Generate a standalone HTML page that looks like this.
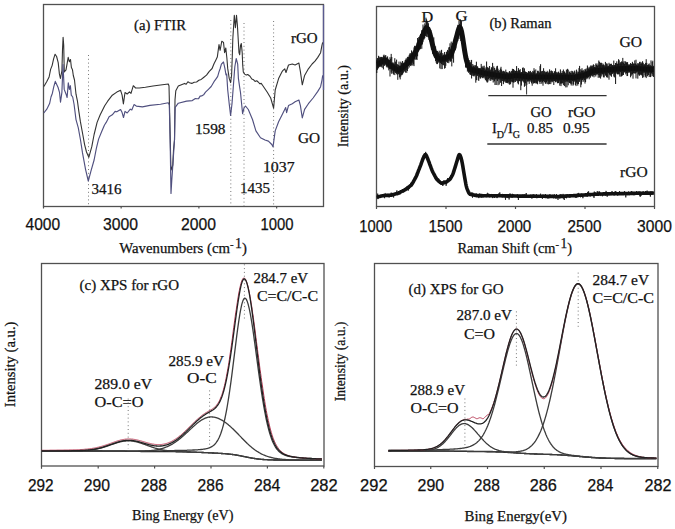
<!DOCTYPE html>
<html><head><meta charset="utf-8"><style>html,body{margin:0;padding:0;background:#fff;}svg{display:block;}</style></head>
<body><svg width="675" height="529" viewBox="0 0 675 529"><rect x="43.5" y="4.5" width="280.0" height="202.0" fill="none" stroke="#505050" stroke-width="1.3"/>
<rect x="376.5" y="6.5" width="278.0" height="200.0" fill="none" stroke="#505050" stroke-width="1.3"/>
<rect x="41.5" y="263.5" width="282.5" height="202.5" fill="none" stroke="#505050" stroke-width="1.3"/>
<rect x="374.5" y="263.5" width="283.5" height="203.0" fill="none" stroke="#505050" stroke-width="1.3"/>
<line x1="43.5" y1="206.5" x2="43.5" y2="208.5" stroke="#505050" stroke-width="1.2" />
<line x1="376.5" y1="206.5" x2="376.5" y2="209" stroke="#505050" stroke-width="1.2" />
<line x1="41.5" y1="466" x2="41.5" y2="468.8" stroke="#505050" stroke-width="1.2" />
<line x1="374.5" y1="466.5" x2="374.5" y2="469" stroke="#505050" stroke-width="1.2" />
<line x1="121.15" y1="206.5" x2="121.15" y2="208.5" stroke="#505050" stroke-width="1.2" />
<line x1="198.9" y1="206.5" x2="198.9" y2="208.5" stroke="#505050" stroke-width="1.2" />
<line x1="276.65" y1="206.5" x2="276.65" y2="208.5" stroke="#505050" stroke-width="1.2" />
<line x1="446.0" y1="206.5" x2="446.0" y2="209" stroke="#505050" stroke-width="1.2" />
<line x1="515.5" y1="206.5" x2="515.5" y2="209" stroke="#505050" stroke-width="1.2" />
<line x1="585.0" y1="206.5" x2="585.0" y2="209" stroke="#505050" stroke-width="1.2" />
<line x1="654.5" y1="206.5" x2="654.5" y2="209" stroke="#505050" stroke-width="1.2" />
<line x1="98.19999999999999" y1="466" x2="98.19999999999999" y2="468.5" stroke="#505050" stroke-width="1.2" />
<line x1="154.6" y1="466" x2="154.6" y2="468.5" stroke="#505050" stroke-width="1.2" />
<line x1="211.0" y1="466" x2="211.0" y2="468.5" stroke="#505050" stroke-width="1.2" />
<line x1="267.4" y1="466" x2="267.4" y2="468.5" stroke="#505050" stroke-width="1.2" />
<line x1="323.8" y1="466" x2="323.8" y2="468.5" stroke="#505050" stroke-width="1.2" />
<line x1="430.75" y1="466.5" x2="430.75" y2="469" stroke="#505050" stroke-width="1.2" />
<line x1="487.5" y1="466.5" x2="487.5" y2="469" stroke="#505050" stroke-width="1.2" />
<line x1="544.25" y1="466.5" x2="544.25" y2="469" stroke="#505050" stroke-width="1.2" />
<line x1="601.0" y1="466.5" x2="601.0" y2="469" stroke="#505050" stroke-width="1.2" />
<line x1="657.75" y1="466.5" x2="657.75" y2="469" stroke="#505050" stroke-width="1.2" />
<text x="25.5" y="230.0" font-size="16.3" textLength="34.6" lengthAdjust="spacingAndGlyphs" style="font-family:'Liberation Sans', sans-serif" fill="#111" stroke="#111" stroke-width="0.25" >4000</text>
<text x="103.0" y="230.0" font-size="16.3" textLength="35.0" lengthAdjust="spacingAndGlyphs" style="font-family:'Liberation Sans', sans-serif" fill="#111" stroke="#111" stroke-width="0.25" >3000</text>
<text x="181.0" y="230.0" font-size="16.3" textLength="35.0" lengthAdjust="spacingAndGlyphs" style="font-family:'Liberation Sans', sans-serif" fill="#111" stroke="#111" stroke-width="0.25" >2000</text>
<text x="260.4" y="230.0" font-size="16.3" textLength="33.1" lengthAdjust="spacingAndGlyphs" style="font-family:'Liberation Sans', sans-serif" fill="#111" stroke="#111" stroke-width="0.25" >1000</text>
<text x="359.3" y="232.0" font-size="16.3" textLength="32.8" lengthAdjust="spacingAndGlyphs" style="font-family:'Liberation Sans', sans-serif" fill="#111" stroke="#111" stroke-width="0.25" >1000</text>
<text x="428.4" y="232.0" font-size="16.3" textLength="34.1" lengthAdjust="spacingAndGlyphs" style="font-family:'Liberation Sans', sans-serif" fill="#111" stroke="#111" stroke-width="0.25" >1500</text>
<text x="497.5" y="232.0" font-size="16.3" textLength="33.8" lengthAdjust="spacingAndGlyphs" style="font-family:'Liberation Sans', sans-serif" fill="#111" stroke="#111" stroke-width="0.25" >2000</text>
<text x="567.6" y="232.0" font-size="16.3" textLength="33.8" lengthAdjust="spacingAndGlyphs" style="font-family:'Liberation Sans', sans-serif" fill="#111" stroke="#111" stroke-width="0.25" >2500</text>
<text x="637.1" y="232.0" font-size="16.3" textLength="34.8" lengthAdjust="spacingAndGlyphs" style="font-family:'Liberation Sans', sans-serif" fill="#111" stroke="#111" stroke-width="0.25" >3000</text>
<text x="28.0" y="490.8" font-size="16.3" textLength="25.6" lengthAdjust="spacingAndGlyphs" style="font-family:'Liberation Sans', sans-serif" fill="#111" stroke="#111" stroke-width="0.25" >292</text>
<text x="83.8" y="490.8" font-size="16.3" textLength="26.3" lengthAdjust="spacingAndGlyphs" style="font-family:'Liberation Sans', sans-serif" fill="#111" stroke="#111" stroke-width="0.25" >290</text>
<text x="140.8" y="490.8" font-size="16.3" textLength="26.3" lengthAdjust="spacingAndGlyphs" style="font-family:'Liberation Sans', sans-serif" fill="#111" stroke="#111" stroke-width="0.25" >288</text>
<text x="197.6" y="490.8" font-size="16.3" textLength="26.0" lengthAdjust="spacingAndGlyphs" style="font-family:'Liberation Sans', sans-serif" fill="#111" stroke="#111" stroke-width="0.25" >286</text>
<text x="254.0" y="490.8" font-size="16.3" textLength="26.4" lengthAdjust="spacingAndGlyphs" style="font-family:'Liberation Sans', sans-serif" fill="#111" stroke="#111" stroke-width="0.25" >284</text>
<text x="310.2" y="490.8" font-size="16.3" textLength="27.5" lengthAdjust="spacingAndGlyphs" style="font-family:'Liberation Sans', sans-serif" fill="#111" stroke="#111" stroke-width="0.25" >282</text>
<text x="360.1" y="491.3" font-size="16.3" textLength="27.5" lengthAdjust="spacingAndGlyphs" style="font-family:'Liberation Sans', sans-serif" fill="#111" stroke="#111" stroke-width="0.25" >292</text>
<text x="417.6" y="491.3" font-size="16.3" textLength="26.6" lengthAdjust="spacingAndGlyphs" style="font-family:'Liberation Sans', sans-serif" fill="#111" stroke="#111" stroke-width="0.25" >290</text>
<text x="473.8" y="491.3" font-size="16.3" textLength="26.0" lengthAdjust="spacingAndGlyphs" style="font-family:'Liberation Sans', sans-serif" fill="#111" stroke="#111" stroke-width="0.25" >288</text>
<text x="529.7" y="491.3" font-size="16.3" textLength="27.1" lengthAdjust="spacingAndGlyphs" style="font-family:'Liberation Sans', sans-serif" fill="#111" stroke="#111" stroke-width="0.25" >286</text>
<text x="587.6" y="491.3" font-size="16.3" textLength="25.9" lengthAdjust="spacingAndGlyphs" style="font-family:'Liberation Sans', sans-serif" fill="#111" stroke="#111" stroke-width="0.25" >284</text>
<text x="644.4" y="491.3" font-size="16.3" textLength="27.0" lengthAdjust="spacingAndGlyphs" style="font-family:'Liberation Sans', sans-serif" fill="#111" stroke="#111" stroke-width="0.25" >282</text>
<text x="119.3" y="252.5" font-size="15" style="font-family:'Liberation Serif', serif" fill="#111" stroke="#111" stroke-width="0.25" textLength="127.6" lengthAdjust="spacingAndGlyphs">Wavenumbers (cm<tspan font-size="11" dy="-5">-</tspan><tspan font-size="14" dx="1.5" dy="0.5">1</tspan><tspan dy="4.5">)</tspan></text>
<text x="457.4" y="252.6" font-size="15" style="font-family:'Liberation Serif', serif" fill="#111" stroke="#111" stroke-width="0.25" textLength="114.6" lengthAdjust="spacingAndGlyphs">Raman Shift (cm<tspan font-size="11" dy="-5">-</tspan><tspan font-size="14" dx="1.5" dy="0.5">1</tspan><tspan dy="4.5">)</tspan></text>
<text x="132.0" y="520.3" font-size="15" textLength="101.5" lengthAdjust="spacingAndGlyphs" style="font-family:'Liberation Serif', serif" fill="#111" stroke="#111" stroke-width="0.25" >Bing Energy (eV)</text>
<text x="464.5" y="521.0" font-size="15" textLength="102.5" lengthAdjust="spacingAndGlyphs" style="font-family:'Liberation Serif', serif" fill="#111" stroke="#111" stroke-width="0.25" >Bing Energy(eV)</text>
<text transform="translate(348.0,147.2) rotate(-90)" x="0" y="0" font-size="14.8" textLength="82.0" lengthAdjust="spacingAndGlyphs" style="font-family:'Liberation Serif', serif" fill="#111" stroke="#111" stroke-width="0.25">Intensity (a.u.)</text>
<text transform="translate(14.5,407.2) rotate(-90)" x="0" y="0" font-size="15" textLength="85.6" lengthAdjust="spacingAndGlyphs" style="font-family:'Liberation Serif', serif" fill="#111" stroke="#111" stroke-width="0.25">Intensity (a.u.)</text>
<text transform="translate(345.2,401.3) rotate(-90)" x="0" y="0" font-size="14.8" textLength="79.7" lengthAdjust="spacingAndGlyphs" style="font-family:'Liberation Serif', serif" fill="#111" stroke="#111" stroke-width="0.25">Intensity (a.u.)</text>
<text x="134.0" y="30.4" font-size="14.5" textLength="52.0" lengthAdjust="spacingAndGlyphs" style="font-family:'Liberation Serif', serif" fill="#111" stroke="#111" stroke-width="0.25" >(a) FTIR</text>
<text x="291.0" y="43.3" font-size="14.5" textLength="26.6" lengthAdjust="spacingAndGlyphs" style="font-family:'Liberation Serif', serif" fill="#111" stroke="#111" stroke-width="0.25" >rGO</text>
<text x="298.0" y="142.8" font-size="14.5" textLength="22.1" lengthAdjust="spacingAndGlyphs" style="font-family:'Liberation Serif', serif" fill="#111" stroke="#111" stroke-width="0.25" >GO</text>
<text x="91.5" y="194.0" font-size="14.5" textLength="30.1" lengthAdjust="spacingAndGlyphs" style="font-family:'Liberation Serif', serif" fill="#111" stroke="#111" stroke-width="0.25" >3416</text>
<text x="194.9" y="134.0" font-size="14.5" textLength="30.6" lengthAdjust="spacingAndGlyphs" style="font-family:'Liberation Serif', serif" fill="#111" stroke="#111" stroke-width="0.25" >1598</text>
<text x="239.9" y="192.7" font-size="14.5" textLength="30.2" lengthAdjust="spacingAndGlyphs" style="font-family:'Liberation Serif', serif" fill="#111" stroke="#111" stroke-width="0.25" >1435</text>
<text x="262.9" y="171.7" font-size="14.5" textLength="31.7" lengthAdjust="spacingAndGlyphs" style="font-family:'Liberation Serif', serif" fill="#111" stroke="#111" stroke-width="0.25" >1037</text>
<line x1="88.5" y1="55" x2="88.5" y2="206" stroke="#777" stroke-width="1" stroke-dasharray="1,2.8"/>
<line x1="230.8" y1="20" x2="230.8" y2="206" stroke="#777" stroke-width="1" stroke-dasharray="1,2.8"/>
<line x1="244" y1="23" x2="244" y2="206" stroke="#777" stroke-width="1" stroke-dasharray="1,2.8"/>
<line x1="273.6" y1="21" x2="273.6" y2="206" stroke="#777" stroke-width="1" stroke-dasharray="1,2.8"/>
<text x="421.4" y="21.8" font-size="15" textLength="11.7" lengthAdjust="spacingAndGlyphs" style="font-family:'Liberation Serif', serif" fill="#111" stroke="#111" stroke-width="0.25" >D</text>
<text x="455.4" y="20.5" font-size="15" textLength="12.1" lengthAdjust="spacingAndGlyphs" style="font-family:'Liberation Serif', serif" fill="#111" stroke="#111" stroke-width="0.25" >G</text>
<text x="489.5" y="28.4" font-size="14.5" textLength="62.0" lengthAdjust="spacingAndGlyphs" style="font-family:'Liberation Serif', serif" fill="#111" stroke="#111" stroke-width="0.25" >(b) Raman</text>
<text x="619.4" y="46.6" font-size="14.5" textLength="22.6" lengthAdjust="spacingAndGlyphs" style="font-family:'Liberation Serif', serif" fill="#111" stroke="#111" stroke-width="0.25" >GO</text>
<text x="620.0" y="176.7" font-size="14.5" textLength="27.6" lengthAdjust="spacingAndGlyphs" style="font-family:'Liberation Serif', serif" fill="#111" stroke="#111" stroke-width="0.25" >rGO</text>
<line x1="488.3" y1="95.6" x2="606.6" y2="95.6" stroke="#333" stroke-width="1.3" />
<line x1="487.3" y1="144" x2="606.6" y2="144" stroke="#333" stroke-width="1.3" />
<text x="530.4" y="117.0" font-size="14.5" textLength="21.1" lengthAdjust="spacingAndGlyphs" style="font-family:'Liberation Serif', serif" fill="#111" stroke="#111" stroke-width="0.25" >GO</text>
<text x="568.0" y="117.0" font-size="14.5" textLength="27.5" lengthAdjust="spacingAndGlyphs" style="font-family:'Liberation Serif', serif" fill="#111" stroke="#111" stroke-width="0.25" >rGO</text>
<text x="491.9" y="133.3" font-size="14.5" style="font-family:'Liberation Serif', serif" fill="#111" stroke="#111" stroke-width="0.25">I<tspan font-size="10" dy="5">D</tspan><tspan dy="-5">/I</tspan><tspan font-size="10" dy="5">G</tspan></text>
<text x="527.0" y="133.3" font-size="14.5" textLength="26.0" lengthAdjust="spacingAndGlyphs" style="font-family:'Liberation Serif', serif" fill="#111" stroke="#111" stroke-width="0.25" >0.85</text>
<text x="562.9" y="133.3" font-size="14.5" textLength="26.6" lengthAdjust="spacingAndGlyphs" style="font-family:'Liberation Serif', serif" fill="#111" stroke="#111" stroke-width="0.25" >0.95</text>
<text x="79.5" y="290.1" font-size="14.5" textLength="99.5" lengthAdjust="spacingAndGlyphs" style="font-family:'Liberation Serif', serif" fill="#111" stroke="#111" stroke-width="0.25" >(c) XPS  for rGO</text>
<text x="253.5" y="282.7" font-size="14.5" textLength="54.5" lengthAdjust="spacingAndGlyphs" style="font-family:'Liberation Serif', serif" fill="#111" stroke="#111" stroke-width="0.25" >284.7 eV</text>
<text x="257.0" y="300.8" font-size="14.5" textLength="61.0" lengthAdjust="spacingAndGlyphs" style="font-family:'Liberation Serif', serif" fill="#111" stroke="#111" stroke-width="0.25" >C=C/C-C</text>
<text x="168.5" y="365.6" font-size="14.5" textLength="55.5" lengthAdjust="spacingAndGlyphs" style="font-family:'Liberation Serif', serif" fill="#111" stroke="#111" stroke-width="0.25" >285.9 eV</text>
<text x="187.0" y="383.1" font-size="14.5" textLength="29.6" lengthAdjust="spacingAndGlyphs" style="font-family:'Liberation Serif', serif" fill="#111" stroke="#111" stroke-width="0.25" >O-C</text>
<text x="94.5" y="389.0" font-size="14.5" textLength="57.6" lengthAdjust="spacingAndGlyphs" style="font-family:'Liberation Serif', serif" fill="#111" stroke="#111" stroke-width="0.25" >289.0 eV</text>
<text x="94.5" y="407.3" font-size="14.5" textLength="49.0" lengthAdjust="spacingAndGlyphs" style="font-family:'Liberation Serif', serif" fill="#111" stroke="#111" stroke-width="0.25" >O-C=O</text>
<line x1="244.4" y1="264.3" x2="244.4" y2="319.6" stroke="#777" stroke-width="1" stroke-dasharray="1,2.8"/>
<line x1="209.6" y1="390.4" x2="209.6" y2="446.6" stroke="#777" stroke-width="1" stroke-dasharray="1,2.8"/>
<line x1="128.2" y1="398.6" x2="128.2" y2="448.3" stroke="#777" stroke-width="1" stroke-dasharray="1,2.8"/>
<text x="408.5" y="293.7" font-size="15.3" textLength="95.0" lengthAdjust="spacingAndGlyphs" style="font-family:'Liberation Serif', serif" fill="#111" stroke="#111" stroke-width="0.25" >(d) XPS  for GO</text>
<text x="592.5" y="285.3" font-size="14.5" textLength="56.6" lengthAdjust="spacingAndGlyphs" style="font-family:'Liberation Serif', serif" fill="#111" stroke="#111" stroke-width="0.25" >284.7 eV</text>
<text x="592.5" y="303.2" font-size="14.5" textLength="61.5" lengthAdjust="spacingAndGlyphs" style="font-family:'Liberation Serif', serif" fill="#111" stroke="#111" stroke-width="0.25" >C=C/C-C</text>
<text x="456.5" y="320.4" font-size="14.5" textLength="55.5" lengthAdjust="spacingAndGlyphs" style="font-family:'Liberation Serif', serif" fill="#111" stroke="#111" stroke-width="0.25" >287.0 eV</text>
<text x="464.0" y="339.1" font-size="14.5" textLength="31.0" lengthAdjust="spacingAndGlyphs" style="font-family:'Liberation Serif', serif" fill="#111" stroke="#111" stroke-width="0.25" >C=O</text>
<text x="410.0" y="394.5" font-size="14.5" textLength="55.0" lengthAdjust="spacingAndGlyphs" style="font-family:'Liberation Serif', serif" fill="#111" stroke="#111" stroke-width="0.25" >288.9 eV</text>
<text x="410.5" y="413.2" font-size="14.5" textLength="48.0" lengthAdjust="spacingAndGlyphs" style="font-family:'Liberation Serif', serif" fill="#111" stroke="#111" stroke-width="0.25" >O-C=O</text>
<line x1="578.2" y1="272.6" x2="578.2" y2="327.1" stroke="#777" stroke-width="1" stroke-dasharray="1,2.8"/>
<line x1="516.4" y1="311.4" x2="516.4" y2="365.9" stroke="#777" stroke-width="1" stroke-dasharray="1,2.8"/>
<line x1="464.9" y1="398.5" x2="464.9" y2="446.7" stroke="#777" stroke-width="1" stroke-dasharray="1,2.8"/>
<path d="M43.8,86.5 L44.2,86.0 L46.8,81.5 L49.1,77.0 L50.6,69.4 L52.1,65.6 L53.6,58.8 L55.1,54.2 L56.6,56.5 L58.2,62.6 L59.4,73.9 L60.4,78.5 L61.9,70.9 L62.5,50.0 L63.1,37.4 L63.7,45.0 L64.3,72.0 L66.0,69.8 L68.2,57.3 L69.4,61.8 L70.5,59.5 L71.4,67.5 L72.5,69.8 L73.3,75.5 L74.5,80.0 L76.0,94.2 L77.4,100.8 L78.8,111.1 L80.4,121.7 L82.5,133.0 L84.6,144.6 L86.5,152.0 L88.8,157.3 L91.8,146.7 L94.1,134.5 L97.1,122.4 L100.2,114.8 L104.7,105.8 L107.7,101.2 L112.3,95.2 L116.8,92.1 L120.6,90.3 L122.1,95.2 L123.4,103.9 L125.0,92.5 L127.2,94.0 L129.5,91.8 L131.0,93.3 L133.3,85.7 L135.6,88.0 L139.3,88.0 L145.4,87.2 L153.0,86.0 L160.5,85.0 L168.3,84.0 L169.0,86.0 L170.3,140.0 L170.8,165.0 L171.8,170.0 L172.8,165.0 L173.5,150.0 L174.5,140.0 L175.0,100.0 L175.8,90.7 L178.3,86.1 L184.6,83.4 L186.2,84.3 L187.9,81.8 L189.5,82.7 L191.8,83.4 L194.2,82.2 L196.6,82.0 L198.9,80.3 L201.2,79.4 L203.6,77.5 L206.5,75.1 L209.3,71.3 L212.1,68.5 L214.0,63.8 L215.9,60.0 L217.3,57.1 L219.0,44.6 L220.1,50.3 L221.8,41.2 L223.5,42.4 L224.6,52.6 L225.8,48.0 L226.9,58.2 L227.7,68.4 L229.2,78.3 L230.6,82.6 L231.6,75.0 L232.3,56.0 L232.8,39.0 L233.3,31.0 L234.3,15.2 L235.4,27.6 L236.5,15.2 L237.4,25.4 L238.2,39.0 L239.0,52.6 L239.7,54.8 L240.5,45.8 L241.3,43.5 L242.2,52.6 L242.7,65.0 L243.3,72.0 L244.7,74.1 L246.2,75.1 L247.7,74.5 L250.0,76.2 L251.8,79.0 L253.6,79.8 L255.1,81.4 L256.7,80.8 L258.2,82.0 L259.7,83.7 L261.2,83.4 L262.7,85.5 L267.3,92.3 L270.7,98.0 L273.6,108.2 L275.2,90.0 L278.6,78.6 L282.0,71.8 L282.8,70.6 L284.7,68.8 L286.0,72.5 L288.5,65.0 L292.3,64.0 L295.1,65.0 L298.9,63.1 L300.4,71.6 L302.3,84.8 L304.6,75.4 L308.4,68.8 L312.1,64.0 L315.0,61.2 L317.8,57.4 L320.6,52.7 L322.0,45.1 L322.7,42.3" fill="none" stroke="#333" stroke-width="1.1" stroke-linejoin="round" />
<path d="M43.8,113.0 L46.8,109.2 L49.6,103.6 L51.0,97.0 L52.4,93.2 L53.8,86.6 L55.3,81.4 L58.1,87.5 L59.5,92.3 L60.5,102.2 L61.9,92.3 L63.0,64.5 L64.2,89.4 L66.1,94.2 L67.1,97.5 L68.3,82.8 L69.4,89.4 L70.4,85.7 L71.3,95.1 L72.7,97.0 L74.1,104.5 L76.0,119.6 L78.3,127.9 L80.5,140.0 L82.5,152.9 L85.6,169.6 L88.3,181.0 L90.8,171.7 L94.1,160.0 L96.4,148.2 L98.6,139.1 L101.7,131.5 L104.5,125.0 L106.2,122.4 L109.1,116.7 L112.3,114.8 L115.1,111.4 L116.8,111.8 L120.6,109.5 L122.1,112.6 L123.5,117.5 L125.0,111.4 L127.2,113.0 L130.3,109.2 L131.8,110.0 L134.0,104.6 L136.3,106.1 L142.4,106.9 L149.9,105.4 L160.5,104.3 L168.3,102.8 L169.3,105.0 L170.3,150.0 L171.0,193.5 L171.8,180.0 L172.5,170.0 L174.5,140.0 L175.0,115.0 L175.2,107.3 L178.3,103.2 L186.6,101.1 L192.3,100.6 L195.4,98.5 L197.0,98.8 L198.6,98.6 L200.1,96.1 L201.7,95.9 L203.6,94.8 L205.5,92.1 L208.4,89.3 L211.2,86.5 L214.0,81.7 L216.4,78.3 L217.7,76.4 L219.2,71.2 L220.2,68.5 L221.4,64.2 L223.5,62.0 L224.9,68.4 L226.0,75.0 L226.7,74.0 L227.7,89.7 L229.2,103.8 L230.6,115.5 L232.0,103.8 L233.4,85.4 L234.8,67.0 L236.2,58.5 L237.7,64.2 L238.4,78.3 L239.8,88.2 L240.5,92.5 L241.6,103.8 L242.6,113.7 L244.0,108.0 L245.5,106.0 L248.3,109.5 L252.5,119.5 L255.9,130.9 L260.5,137.7 L265.0,140.0 L268.4,141.1 L271.8,144.5 L273.0,146.8 L275.2,130.9 L278.6,121.8 L282.0,115.0 L285.7,107.5 L286.6,112.7 L288.5,105.6 L292.3,103.7 L295.1,101.8 L298.9,100.0 L300.4,105.6 L302.3,117.9 L304.6,109.4 L308.4,103.7 L313.1,98.0 L317.8,91.4 L320.6,86.7 L322.0,80.1 L322.7,75.4" fill="none" stroke="#50507f" stroke-width="1.15" stroke-linejoin="round" />
<line x1="323.5" y1="5" x2="323.5" y2="90" stroke="#5a5a90" stroke-width="1.3" />
<path d="M376.8,64.3 L377.3,64.2 L377.8,63.9 L378.3,63.7 L378.8,63.4 L379.3,63.1 L379.8,62.8 L380.3,62.6 L380.8,62.3 L381.3,62.0 L381.8,61.7 L382.3,61.5 L382.8,61.2 L383.3,60.9 L383.8,60.6 L384.3,60.4 L384.8,60.3 L385.3,60.4 L385.8,60.7 L386.3,61.1 L386.8,61.6 L387.3,62.1 L387.8,62.6 L388.3,63.2 L388.8,63.7 L389.3,64.2 L389.8,64.7 L390.3,65.2 L390.8,65.6 L391.3,66.0 L391.8,66.4 L392.3,66.7 L392.8,67.0 L393.3,67.3 L393.8,67.6 L394.3,67.9 L394.8,68.2 L395.3,68.5 L395.8,68.8 L396.3,69.1 L396.8,69.4 L397.3,69.7 L397.8,69.9 L398.3,70.1 L398.8,70.1 L399.3,69.9 L399.8,69.6 L400.3,69.2 L400.8,68.8 L401.3,68.4 L401.8,68.1 L402.3,67.7 L402.8,67.3 L403.3,66.9 L403.8,66.5 L404.3,66.1 L404.8,65.7 L405.3,65.3 L405.8,64.9 L406.3,64.4 L406.8,63.9 L407.3,63.4 L407.8,62.9 L408.3,62.3 L408.8,61.8 L409.3,61.2 L409.8,60.6 L410.3,59.9 L410.8,59.3 L411.3,58.6 L411.8,57.9 L412.3,57.2 L412.8,56.5 L413.3,55.6 L413.8,54.8 L414.3,53.9 L414.8,53.0 L415.3,52.0 L415.8,51.1 L416.3,50.2 L416.8,49.3 L417.3,48.4 L417.8,47.4 L418.3,46.4 L418.8,45.3 L419.3,44.0 L419.8,42.7 L420.3,41.4 L420.8,40.1 L421.3,38.7 L421.8,37.4 L422.3,36.1 L422.8,34.9 L423.3,33.7 L423.8,32.5 L424.3,31.4 L424.8,30.3 L425.3,29.3 L425.8,28.7 L426.3,28.3 L426.8,28.2 L427.3,28.3 L427.8,28.8 L428.3,29.5 L428.8,30.5 L429.3,31.9 L429.8,33.5 L430.3,35.3 L430.8,37.3 L431.3,39.5 L431.8,41.7 L432.3,43.8 L432.8,45.8 L433.3,47.7 L433.8,49.4 L434.3,51.1 L434.8,52.7 L435.3,54.2 L435.8,55.4 L436.3,56.4 L436.8,56.9 L437.3,57.3 L437.8,57.6 L438.3,57.9 L438.8,58.2 L439.3,58.5 L439.8,58.8 L440.3,59.0 L440.8,59.2 L441.3,59.3 L441.8,59.2 L442.3,59.1 L442.8,59.0 L443.3,58.8 L443.8,58.7 L444.3,58.5 L444.8,58.4 L445.3,58.2 L445.8,58.0 L446.3,57.8 L446.8,57.5 L447.3,57.2 L447.8,56.9 L448.3,56.6 L448.8,56.3 L449.3,56.0 L449.8,55.7 L450.3,55.3 L450.8,54.9 L451.3,54.1 L451.8,53.0 L452.3,51.6 L452.8,50.0 L453.3,48.3 L453.8,46.6 L454.3,44.9 L454.8,43.2 L455.3,41.4 L455.8,39.5 L456.3,37.6 L456.8,35.8 L457.3,33.9 L457.8,32.0 L458.3,30.3 L458.8,28.7 L459.3,27.7 L459.8,27.3 L460.3,27.8 L460.8,28.9 L461.3,30.6 L461.8,32.9 L462.3,35.6 L462.8,38.7 L463.3,42.0 L463.8,45.3 L464.3,48.6 L464.8,51.8 L465.3,54.7 L465.8,57.4 L466.3,59.6 L466.8,61.6 L467.3,63.2 L467.8,64.7 L468.3,65.9 L468.8,66.9 L469.3,67.8 L469.8,68.6 L470.3,69.2 L470.8,69.5 L471.3,69.8 L471.8,69.9 L472.3,70.1 L472.8,70.2 L473.3,70.3 L473.8,70.4 L474.3,70.6 L474.8,70.7 L475.3,70.8 L475.8,71.0 L476.3,71.1 L476.8,71.2 L477.3,71.4 L477.8,71.5 L478.3,71.6 L478.8,71.8 L479.3,71.9 L479.8,72.0 L480.3,72.2 L480.8,72.3 L481.3,72.4 L481.8,72.6 L482.3,72.7 L482.8,72.8 L483.3,73.0 L483.8,73.1 L484.3,73.2 L484.8,73.3 L485.3,73.4 L485.8,73.5 L486.3,73.6 L486.8,73.7 L487.3,73.8 L487.8,73.8 L488.3,73.9 L488.8,74.0 L489.3,74.1 L489.8,74.1 L490.3,74.2 L490.8,74.3 L491.3,74.4 L491.8,74.5 L492.3,74.5 L492.8,74.6 L493.3,74.7 L493.8,74.8 L494.3,74.8 L494.8,74.9 L495.3,75.0 L495.8,75.1 L496.3,75.2 L496.8,75.2 L497.3,75.3 L497.8,75.4 L498.3,75.5 L498.8,75.5 L499.3,75.6 L499.8,75.7 L500.3,75.8 L500.8,75.9 L501.3,75.9 L501.8,76.0 L502.3,76.1 L502.8,76.2 L503.3,76.3 L503.8,76.3 L504.3,76.4 L504.8,76.5 L505.3,76.6 L505.8,76.7 L506.3,76.7 L506.8,76.8 L507.3,76.9 L507.8,76.9 L508.3,76.9 L508.8,76.8 L509.3,76.7 L509.8,76.6 L510.3,76.5 L510.8,76.4 L511.3,76.3 L511.8,76.2 L512.3,76.2 L512.8,76.1 L513.3,76.0 L513.8,75.9 L514.3,75.8 L514.8,75.7 L515.3,75.6 L515.8,75.6 L516.3,75.6 L516.8,75.6 L517.3,75.7 L517.8,75.7 L518.3,75.8 L518.8,75.8 L519.3,75.9 L519.8,75.9 L520.3,76.0 L520.8,76.0 L521.3,76.1 L521.8,76.1 L522.3,76.2 L522.8,76.2 L523.3,76.3 L523.8,76.4 L524.3,76.4 L524.8,76.5 L525.3,76.5 L525.8,76.6 L526.3,76.6 L526.8,76.7 L527.3,76.7 L527.8,76.8 L528.3,76.8 L528.8,76.9 L529.3,76.9 L529.8,77.0 L530.3,77.0 L530.8,77.0 L531.3,77.0 L531.8,77.0 L532.3,77.0 L532.8,77.0 L533.3,77.0 L533.8,77.0 L534.3,77.0 L534.8,77.0 L535.3,77.0 L535.8,77.0 L536.3,77.0 L536.8,77.0 L537.3,77.0 L537.8,77.0 L538.3,77.0 L538.8,77.0 L539.3,77.0 L539.8,77.0 L540.3,77.0 L540.8,77.0 L541.3,77.0 L541.8,77.0 L542.3,77.0 L542.8,77.0 L543.3,77.0 L543.8,77.0 L544.3,77.0 L544.8,77.0 L545.3,77.0 L545.8,77.0 L546.3,77.0 L546.8,77.0 L547.3,77.0 L547.8,77.0 L548.3,77.0 L548.8,77.0 L549.3,77.0 L549.8,77.0 L550.3,77.0 L550.8,77.0 L551.3,77.0 L551.8,77.0 L552.3,77.0 L552.8,77.1 L553.3,77.1 L553.8,77.1 L554.3,77.1 L554.8,77.1 L555.3,77.1 L555.8,77.1 L556.3,77.1 L556.8,77.1 L557.3,77.1 L557.8,77.2 L558.3,77.2 L558.8,77.2 L559.3,77.2 L559.8,77.2 L560.3,77.2 L560.8,77.2 L561.3,77.2 L561.8,77.2 L562.3,77.2 L562.8,77.3 L563.3,77.3 L563.8,77.3 L564.3,77.3 L564.8,77.3 L565.3,77.3 L565.8,77.3 L566.3,77.3 L566.8,77.3 L567.3,77.3 L567.8,77.4 L568.3,77.4 L568.8,77.4 L569.3,77.4 L569.8,77.4 L570.3,77.4 L570.8,77.4 L571.3,77.4 L571.8,77.4 L572.3,77.4 L572.8,77.5 L573.3,77.5 L573.8,77.5 L574.3,77.5 L574.8,77.4 L575.3,77.4 L575.8,77.3 L576.3,77.2 L576.8,77.0 L577.3,76.9 L577.8,76.8 L578.3,76.6 L578.8,76.5 L579.3,76.4 L579.8,76.2 L580.3,76.1 L580.8,76.0 L581.3,75.8 L581.8,75.7 L582.3,75.6 L582.8,75.5 L583.3,75.3 L583.8,75.2 L584.3,75.1 L584.8,74.9 L585.3,74.8 L585.8,74.7 L586.3,74.5 L586.8,74.3 L587.3,74.1 L587.8,73.8 L588.3,73.5 L588.8,73.2 L589.3,72.9 L589.8,72.6 L590.3,72.3 L590.8,72.0 L591.3,71.7 L591.8,71.4 L592.3,71.2 L592.8,70.9 L593.3,70.8 L593.8,70.7 L594.3,70.7 L594.8,70.7 L595.3,70.6 L595.8,70.6 L596.3,70.6 L596.8,70.5 L597.3,70.5 L597.8,70.5 L598.3,70.4 L598.8,70.4 L599.3,70.4 L599.8,70.3 L600.3,70.3 L600.8,70.3 L601.3,70.2 L601.8,70.2 L602.3,70.2 L602.8,70.1 L603.3,70.1 L603.8,70.1 L604.3,70.0 L604.8,70.0 L605.3,70.0 L605.8,69.9 L606.3,69.9 L606.8,69.9 L607.3,69.8 L607.8,69.8 L608.3,69.7 L608.8,69.7 L609.3,69.7 L609.8,69.6 L610.3,69.6 L610.8,69.6 L611.3,69.5 L611.8,69.5 L612.3,69.4 L612.8,69.4 L613.3,69.3 L613.8,69.3 L614.3,69.2 L614.8,69.2 L615.3,69.1 L615.8,69.1 L616.3,69.0 L616.8,69.0 L617.3,68.9 L617.8,68.9 L618.3,68.8 L618.8,68.8 L619.3,68.7 L619.8,68.7 L620.3,68.6 L620.8,68.6 L621.3,68.5 L621.8,68.5 L622.3,68.4 L622.8,68.4 L623.3,68.4 L623.8,68.4 L624.3,68.4 L624.8,68.4 L625.3,68.4 L625.8,68.4 L626.3,68.4 L626.8,68.4 L627.3,68.4 L627.8,68.4 L628.3,68.4 L628.8,68.4 L629.3,68.4 L629.8,68.4 L630.3,68.4 L630.8,68.4 L631.3,68.4 L631.8,68.4 L632.3,68.4 L632.8,68.4 L633.3,68.4 L633.8,68.4 L634.3,68.4 L634.8,68.4 L635.3,68.5 L635.8,68.5 L636.3,68.5 L636.8,68.6 L637.3,68.6 L637.8,68.6 L638.3,68.6 L638.8,68.7 L639.3,68.7 L639.8,68.7 L640.3,68.8 L640.8,68.8 L641.3,68.8 L641.8,68.9 L642.3,68.9 L642.8,68.9 L643.3,69.0 L643.8,69.0 L644.3,69.0 L644.8,69.0 L645.3,69.1 L645.8,69.1 L646.3,69.1 L646.8,69.2 L647.3,69.2 L647.8,69.2 L648.3,69.3 L648.8,69.3 L649.3,69.3 L649.8,69.3 L650.3,69.4 L650.8,69.4 L651.3,69.4 L651.8,69.5 L652.3,69.5 L652.8,69.5 L653.3,69.6 L653.8,69.6" fill="none" stroke="#111" stroke-width="5.0" stroke-linejoin="round" />
<path d="M376.80,59.7V73.0 M377.40,58.0V69.9 M378.00,59.3V68.7 M378.60,55.8V67.9 M379.20,56.7V66.7 M379.80,57.9V67.1 M380.40,57.2V66.7 M381.00,56.8V66.1 M381.60,57.1V66.8 M382.20,57.0V67.9 M382.80,57.6V64.7 M383.40,55.5V69.4 M384.00,54.6V64.9 M384.60,56.3V65.9 M385.20,55.3V64.4 M385.80,55.2V65.2 M386.40,57.6V66.7 M387.00,57.4V67.5 M387.60,56.4V66.7 M388.20,58.7V68.2 M388.80,60.1V70.4 M389.40,59.9V69.0 M390.00,57.2V76.5 M390.60,58.8V69.2 M391.20,53.9V72.6 M391.80,57.0V73.9 M392.40,62.7V70.7 M393.00,62.3V73.2 M393.60,63.3V74.6 M394.20,63.7V71.8 M394.80,58.2V75.1 M395.40,61.6V72.9 M396.00,64.3V72.9 M396.60,59.6V73.9 M397.20,64.2V74.8 M397.80,64.4V79.8 M398.40,65.1V74.3 M399.00,61.6V73.6 M399.60,65.7V77.4 M400.20,65.5V79.4 M400.80,61.6V76.6 M401.40,62.8V75.2 M402.00,64.2V75.1 M402.60,61.0V74.4 M403.20,63.1V73.2 M403.80,62.7V72.1 M404.40,62.4V71.4 M405.00,60.4V69.8 M405.60,59.6V72.7 M406.20,58.2V70.0 M406.80,59.4V72.8 M407.40,57.1V71.0 M408.00,56.7V68.9 M408.60,56.8V66.0 M409.20,54.9V67.5 M409.80,53.5V64.9 M410.40,53.2V65.8 M411.00,55.4V66.1 M411.60,50.4V64.9 M412.20,52.8V62.8 M412.80,52.8V65.6 M413.40,51.0V64.4 M414.00,47.4V66.1 M414.60,45.8V59.6 M415.20,48.0V55.9 M415.80,45.9V59.8 M416.40,45.6V59.1 M417.00,42.6V60.0 M417.60,38.0V56.3 M418.20,42.1V52.3 M418.80,37.0V51.0 M419.40,39.1V49.7 M420.00,35.4V46.8 M420.60,34.0V49.2 M421.20,34.4V44.9 M421.80,30.1V48.8 M422.40,30.9V44.5 M423.00,24.5V42.2 M423.60,29.0V36.6 M424.20,26.1V39.4 M424.80,23.3V38.1 M425.40,24.8V36.1 M426.00,17.7V32.4 M426.60,19.3V36.8 M427.20,20.8V33.9 M427.80,22.2V37.2 M428.40,23.3V33.8 M429.00,27.6V40.0 M429.60,27.4V41.3 M430.20,29.4V40.9 M430.80,30.1V44.1 M431.40,35.3V49.6 M432.00,38.6V49.9 M432.60,40.5V53.7 M433.20,39.8V53.9 M433.80,37.4V53.8 M434.40,47.4V55.1 M435.00,49.7V57.7 M435.60,46.4V61.1 M436.20,51.5V62.8 M436.80,51.2V64.1 M437.40,50.9V64.1 M438.00,53.8V63.1 M438.60,52.3V61.8 M439.20,50.7V62.5 M439.80,53.9V68.4 M440.40,52.6V63.2 M441.00,50.6V69.1 M441.60,49.8V64.1 M442.20,55.3V69.1 M442.80,53.1V64.8 M443.40,54.8V65.3 M444.00,54.5V62.2 M444.60,52.0V68.7 M445.20,54.6V68.0 M445.80,54.5V65.8 M446.40,51.7V61.7 M447.00,52.3V62.0 M447.60,49.9V62.9 M448.20,50.8V61.3 M448.80,47.4V63.2 M449.40,47.0V60.4 M450.00,43.3V61.5 M450.60,49.4V61.6 M451.20,41.6V61.1 M451.80,45.9V66.4 M452.40,43.1V58.7 M453.00,43.6V53.2 M453.60,40.6V62.7 M454.20,39.8V50.2 M454.80,38.3V48.0 M455.40,35.3V50.3 M456.00,33.6V48.5 M456.60,31.8V42.0 M457.20,30.0V40.1 M457.80,24.8V41.1 M458.40,25.0V35.1 M459.00,20.5V38.9 M459.60,23.9V34.7 M460.20,19.1V34.3 M460.80,20.5V41.0 M461.40,21.1V36.3 M462.00,30.2V38.8 M462.60,33.7V48.8 M463.20,35.7V44.9 M463.80,40.2V50.0 M464.40,44.9V58.1 M465.00,47.9V58.4 M465.60,51.8V67.5 M466.20,51.8V67.5 M466.80,55.3V65.1 M467.40,58.1V71.6 M468.00,58.3V69.1 M468.60,60.2V72.8 M469.20,62.9V71.9 M469.80,60.1V74.3 M470.40,62.2V74.9 M471.00,65.7V74.5 M471.60,59.9V78.5 M472.20,66.5V75.9 M472.80,64.0V74.6 M473.40,66.1V75.9 M474.00,65.1V76.5 M474.60,66.5V75.6 M475.20,65.2V75.3 M475.80,65.5V82.7 M476.40,61.7V80.2 M477.00,67.2V75.4 M477.60,66.2V75.9 M478.20,67.7V80.2 M478.80,68.0V80.9 M479.40,68.1V76.8 M480.00,68.5V78.4 M480.60,68.2V78.5 M481.20,63.9V77.3 M481.80,66.6V77.1 M482.40,67.5V78.2 M483.00,65.9V76.8 M483.60,67.6V77.7 M484.20,65.7V78.5 M484.80,68.3V76.9 M485.40,69.5V80.3 M486.00,67.3V79.2 M486.60,61.5V81.5 M487.20,67.6V82.6 M487.80,66.9V82.2 M488.40,68.1V79.1 M489.00,70.3V80.6 M489.60,66.0V78.1 M490.20,70.2V79.5 M490.80,69.4V81.0 M491.40,67.2V79.5 M492.00,68.1V79.2 M492.60,62.9V79.8 M493.20,71.1V82.5 M493.80,66.4V79.7 M494.40,68.0V81.4 M495.00,71.0V85.0 M495.60,69.9V79.3 M496.20,68.4V85.0 M496.80,66.3V79.3 M497.40,65.8V81.1 M498.00,68.7V85.2 M498.60,70.9V79.3 M499.20,70.1V84.6 M499.80,72.1V79.5 M500.40,68.5V82.8 M501.00,66.8V79.6 M501.60,69.6V86.0 M502.20,71.7V81.1 M502.80,71.2V80.9 M503.40,70.8V84.2 M504.00,72.2V82.2 M504.60,71.3V80.8 M505.20,72.7V81.6 M505.80,69.6V82.8 M506.40,71.9V82.9 M507.00,72.7V82.3 M507.60,72.4V83.2 M508.20,73.2V82.0 M508.80,72.4V83.6 M509.40,71.0V84.7 M510.00,72.1V80.9 M510.60,72.6V84.3 M511.20,70.9V82.3 M511.80,71.2V81.2 M512.40,68.8V82.2 M513.00,71.0V87.7 M513.60,69.0V82.6 M514.20,70.0V82.4 M514.80,71.1V80.6 M515.40,70.9V82.0 M516.00,70.9V80.0 M516.60,66.1V80.8 M517.20,70.9V81.4 M517.80,71.5V83.3 M518.40,68.1V84.4 M519.00,70.0V81.0 M519.60,70.3V81.1 M520.20,69.1V81.4 M520.80,72.3V90.2 M521.40,72.1V85.6 M522.00,72.1V81.3 M522.60,67.9V80.6 M523.20,67.4V81.5 M523.80,71.0V82.5 M524.40,68.3V86.8 M525.00,71.1V86.0 M525.60,72.0V83.3 M526.20,72.1V85.2 M526.80,72.1V84.8 M527.40,73.0V81.1 M528.00,72.6V82.0 M528.60,71.1V80.8 M529.20,71.4V83.9 M529.80,72.0V81.2 M530.40,70.9V80.5 M531.00,73.3V82.1 M531.60,72.2V83.4 M532.20,72.8V85.7 M532.80,70.9V81.7 M533.40,71.6V83.6 M534.00,68.2V82.9 M534.60,70.4V83.2 M535.20,73.4V82.4 M535.80,69.4V83.4 M536.40,73.4V83.4 M537.00,73.3V83.3 M537.60,70.8V84.3 M538.20,70.8V80.6 M538.80,71.6V81.3 M539.40,72.5V82.2 M540.00,66.1V84.0 M540.60,64.2V81.8 M541.20,71.4V81.3 M541.80,71.3V83.8 M542.40,70.9V82.3 M543.00,73.4V85.7 M543.60,68.2V81.0 M544.20,71.6V82.4 M544.80,70.9V82.1 M545.40,72.2V83.8 M546.00,72.7V83.4 M546.60,72.0V82.2 M547.20,70.8V84.1 M547.80,72.2V80.9 M548.40,72.9V84.4 M549.00,71.5V81.6 M549.60,69.3V84.1 M550.20,72.8V81.8 M550.80,70.9V84.1 M551.40,70.5V81.5 M552.00,73.1V82.4 M552.60,71.2V81.7 M553.20,73.2V81.1 M553.80,72.8V85.0 M554.40,71.2V81.0 M555.00,71.6V81.2 M555.60,68.3V82.3 M556.20,72.7V81.9 M556.80,71.9V81.1 M557.40,73.2V83.2 M558.00,72.2V83.2 M558.60,71.6V83.0 M559.20,73.3V81.3 M559.80,72.8V85.7 M560.40,69.4V83.7 M561.00,73.7V86.1 M561.60,72.8V83.5 M562.20,70.9V83.5 M562.80,72.9V83.0 M563.40,69.5V85.2 M564.00,71.9V81.0 M564.60,71.4V86.1 M565.20,72.7V81.9 M565.80,73.5V87.4 M566.40,69.6V81.6 M567.00,73.7V87.3 M567.60,68.8V81.7 M568.20,69.7V85.3 M568.80,73.6V81.8 M569.40,72.0V83.1 M570.00,71.2V82.9 M570.60,72.8V83.7 M571.20,73.3V85.5 M571.80,70.8V83.9 M572.40,71.2V81.2 M573.00,73.4V85.7 M573.60,72.4V84.6 M574.20,71.2V81.8 M574.80,70.5V81.1 M575.40,73.8V85.0 M576.00,72.3V86.1 M576.60,69.6V82.7 M577.20,71.5V84.0 M577.80,73.2V85.6 M578.40,71.7V84.0 M579.00,68.1V80.4 M579.60,65.9V81.9 M580.20,71.9V79.9 M580.80,69.2V87.3 M581.40,70.5V84.6 M582.00,68.2V81.8 M582.60,70.5V80.0 M583.20,71.2V79.1 M583.80,69.8V81.8 M584.40,71.3V80.1 M585.00,69.0V83.6 M585.60,69.6V82.0 M586.20,68.4V78.1 M586.80,70.8V79.3 M587.40,65.5V78.4 M588.00,67.6V77.3 M588.60,68.6V77.4 M589.20,66.8V79.3 M589.80,68.1V76.3 M590.40,66.3V77.7 M591.00,65.2V76.0 M591.60,66.3V75.4 M592.20,66.2V76.5 M592.80,65.4V76.4 M593.40,64.3V75.4 M594.00,65.0V77.3 M594.60,67.0V75.0 M595.20,67.0V75.1 M595.80,63.5V76.5 M596.40,64.9V74.7 M597.00,63.4V74.1 M597.60,65.6V74.5 M598.20,64.7V77.8 M598.80,60.5V75.1 M599.40,61.8V77.7 M600.00,65.2V75.4 M600.60,62.8V78.6 M601.20,62.7V74.4 M601.80,63.1V76.5 M602.40,65.1V74.5 M603.00,63.6V73.9 M603.60,64.6V77.3 M604.20,64.9V77.4 M604.80,66.1V73.8 M605.40,61.9V75.7 M606.00,66.4V75.2 M606.60,63.4V77.3 M607.20,63.6V76.8 M607.80,65.7V77.8 M608.40,66.0V73.3 M609.00,62.8V79.7 M609.60,64.4V74.6 M610.20,63.8V75.2 M610.80,64.0V75.7 M611.40,63.7V76.8 M612.00,65.6V74.2 M612.60,65.1V73.8 M613.20,65.2V73.0 M613.80,60.6V76.5 M614.40,65.1V77.4 M615.00,64.9V73.8 M615.60,63.0V84.0 M616.20,63.3V72.6 M616.80,61.3V73.7 M617.40,63.7V74.1 M618.00,63.9V74.6 M618.60,59.2V73.9 M619.20,60.3V74.3 M619.80,63.4V76.6 M620.40,62.2V72.2 M621.00,63.9V76.7 M621.60,61.4V76.2 M622.20,61.9V75.9 M622.80,57.9V75.0 M623.40,62.6V75.0 M624.00,61.2V72.6 M624.60,63.9V72.0 M625.20,61.3V72.7 M625.80,61.7V74.4 M626.40,62.3V73.1 M627.00,62.7V76.1 M627.60,62.1V76.0 M628.20,64.5V72.6 M628.80,64.5V72.6 M629.40,64.7V72.3 M630.00,64.3V72.6 M630.60,63.0V77.3 M631.20,64.0V75.8 M631.80,63.8V74.5 M632.40,61.8V74.3 M633.00,63.0V78.7 M633.60,64.0V73.0 M634.20,63.6V73.7 M634.80,60.4V73.0 M635.40,63.4V73.5 M636.00,59.7V78.4 M636.60,64.5V72.6 M637.20,64.5V72.2 M637.80,63.1V78.7 M638.40,63.4V74.4 M639.00,65.0V75.5 M639.60,61.9V75.7 M640.20,61.8V74.1 M640.80,63.6V75.0 M641.40,63.3V74.8 M642.00,62.1V75.7 M642.60,61.2V77.9 M643.20,62.8V72.9 M643.80,64.4V77.3 M644.40,64.2V72.7 M645.00,65.4V75.3 M645.60,62.9V76.8 M646.20,59.2V78.1 M646.80,62.9V73.6 M647.40,64.9V76.3 M648.00,65.6V73.2 M648.60,64.3V75.1 M649.20,63.4V77.0 M649.80,65.3V72.9 M650.40,65.3V77.1 M651.00,60.4V76.5 M651.60,65.8V73.4 M652.20,61.9V74.3 M652.80,60.7V76.1 M653.40,65.8V77.0" stroke="#111" stroke-width="1.0" fill="none"/>
<line x1="526.6" y1="80" x2="526.6" y2="94.5" stroke="#333" stroke-width="1.0" />
<path d="M376.8,196.9 L377.3,196.9 L377.8,196.8 L378.3,196.7 L378.8,196.6 L379.3,196.5 L379.8,196.4 L380.3,196.3 L380.8,196.2 L381.3,196.0 L381.8,195.9 L382.3,195.8 L382.8,195.7 L383.3,195.7 L383.8,195.6 L384.3,195.6 L384.8,195.5 L385.3,195.5 L385.8,195.5 L386.3,195.4 L386.8,195.4 L387.3,195.4 L387.8,195.4 L388.3,195.3 L388.8,195.3 L389.3,195.3 L389.8,195.3 L390.3,195.2 L390.8,195.1 L391.3,195.1 L391.8,194.9 L392.3,194.8 L392.8,194.7 L393.3,194.5 L393.8,194.4 L394.3,194.3 L394.8,194.1 L395.3,194.0 L395.8,193.8 L396.3,193.7 L396.8,193.6 L397.3,193.4 L397.8,193.3 L398.3,193.1 L398.8,192.9 L399.3,192.6 L399.8,192.4 L400.3,192.1 L400.8,191.9 L401.3,191.6 L401.8,191.4 L402.3,191.2 L402.8,190.9 L403.3,190.6 L403.8,190.4 L404.3,190.1 L404.8,189.9 L405.3,189.6 L405.8,189.3 L406.3,188.9 L406.8,188.6 L407.3,188.2 L407.8,187.8 L408.3,187.4 L408.8,187.0 L409.3,186.6 L409.8,186.2 L410.3,185.8 L410.8,185.4 L411.3,184.9 L411.8,184.3 L412.3,183.5 L412.8,182.7 L413.3,181.8 L413.8,180.9 L414.3,180.0 L414.8,179.1 L415.3,178.2 L415.8,177.2 L416.3,176.2 L416.8,175.0 L417.3,173.7 L417.8,172.5 L418.3,171.2 L418.8,169.9 L419.3,168.7 L419.8,167.4 L420.3,166.1 L420.8,164.8 L421.3,163.4 L421.8,162.0 L422.3,160.6 L422.8,159.2 L423.3,158.0 L423.8,156.9 L424.3,155.9 L424.8,155.1 L425.3,154.6 L425.8,154.7 L426.3,155.5 L426.8,156.6 L427.3,157.8 L427.8,159.0 L428.3,160.3 L428.8,161.6 L429.3,162.9 L429.8,164.3 L430.3,165.6 L430.8,167.0 L431.3,168.4 L431.8,169.7 L432.3,170.9 L432.8,172.0 L433.3,173.0 L433.8,173.9 L434.3,174.8 L434.8,175.8 L435.3,176.7 L435.8,177.6 L436.3,178.5 L436.8,179.2 L437.3,179.8 L437.8,180.3 L438.3,180.7 L438.8,181.2 L439.3,181.6 L439.8,182.1 L440.3,182.5 L440.8,182.8 L441.3,183.1 L441.8,183.1 L442.3,183.1 L442.8,183.0 L443.3,182.9 L443.8,182.8 L444.3,182.7 L444.8,182.6 L445.3,182.5 L445.8,182.3 L446.3,182.0 L446.8,181.6 L447.3,181.3 L447.8,180.9 L448.3,180.6 L448.8,180.2 L449.3,179.8 L449.8,179.4 L450.3,178.8 L450.8,178.0 L451.3,177.1 L451.8,176.2 L452.3,175.3 L452.8,174.2 L453.3,172.9 L453.8,171.4 L454.3,169.8 L454.8,168.2 L455.3,166.6 L455.8,164.9 L456.3,163.3 L456.8,161.7 L457.3,160.0 L457.8,158.3 L458.3,156.7 L458.8,155.3 L459.3,154.6 L459.8,154.8 L460.3,155.8 L460.8,157.2 L461.3,158.9 L461.8,160.8 L462.3,163.3 L462.8,166.1 L463.3,169.2 L463.8,172.2 L464.3,175.2 L464.8,178.1 L465.3,181.0 L465.8,183.8 L466.3,186.1 L466.8,188.0 L467.3,189.4 L467.8,190.6 L468.3,191.8 L468.8,192.8 L469.3,193.6 L469.8,194.1 L470.3,194.3 L470.8,194.4 L471.3,194.5 L471.8,194.7 L472.3,194.8 L472.8,194.9 L473.3,195.0 L473.8,195.1 L474.3,195.2 L474.8,195.3 L475.3,195.4 L475.8,195.5 L476.3,195.6 L476.8,195.6 L477.3,195.6 L477.8,195.6 L478.3,195.6 L478.8,195.6 L479.3,195.6 L479.8,195.6 L480.3,195.6 L480.8,195.6 L481.3,195.6 L481.8,195.6 L482.3,195.7 L482.8,195.7 L483.3,195.7 L483.8,195.7 L484.3,195.7 L484.8,195.7 L485.3,195.7 L485.8,195.7 L486.3,195.7 L486.8,195.7 L487.3,195.7 L487.8,195.7 L488.3,195.7 L488.8,195.7 L489.3,195.7 L489.8,195.7 L490.3,195.7 L490.8,195.7 L491.3,195.7 L491.8,195.7 L492.3,195.7 L492.8,195.7 L493.3,195.7 L493.8,195.7 L494.3,195.8 L494.8,195.8 L495.3,195.8 L495.8,195.8 L496.3,195.8 L496.8,195.8 L497.3,195.8 L497.8,195.8 L498.3,195.8 L498.8,195.8 L499.3,195.8 L499.8,195.8 L500.3,195.8 L500.8,195.8 L501.3,195.8 L501.8,195.8 L502.3,195.8 L502.8,195.8 L503.3,195.8 L503.8,195.9 L504.3,195.9 L504.8,195.9 L505.3,195.9 L505.8,195.9 L506.3,195.9 L506.8,195.9 L507.3,195.9 L507.8,195.9 L508.3,195.9 L508.8,195.9 L509.3,195.9 L509.8,195.9 L510.3,195.9 L510.8,195.9 L511.3,196.0 L511.8,196.0 L512.3,196.0 L512.8,196.0 L513.3,196.0 L513.8,196.0 L514.3,196.0 L514.8,196.0 L515.3,196.0 L515.8,196.0 L516.3,196.0 L516.8,196.0 L517.3,196.0 L517.8,196.0 L518.3,196.0 L518.8,196.1 L519.3,196.1 L519.8,196.1 L520.3,196.1 L520.8,196.1 L521.3,196.1 L521.8,196.1 L522.3,196.1 L522.8,196.1 L523.3,196.1 L523.8,196.1 L524.3,196.1 L524.8,196.1 L525.3,196.1 L525.8,196.1 L526.3,196.2 L526.8,196.2 L527.3,196.2 L527.8,196.2 L528.3,196.2 L528.8,196.2 L529.3,196.2 L529.8,196.2 L530.3,196.2 L530.8,196.2 L531.3,196.2 L531.8,196.2 L532.3,196.2 L532.8,196.2 L533.3,196.2 L533.8,196.2 L534.3,196.2 L534.8,196.2 L535.3,196.3 L535.8,196.3 L536.3,196.3 L536.8,196.3 L537.3,196.3 L537.8,196.3 L538.3,196.3 L538.8,196.3 L539.3,196.3 L539.8,196.3 L540.3,196.3 L540.8,196.3 L541.3,196.3 L541.8,196.3 L542.3,196.3 L542.8,196.3 L543.3,196.3 L543.8,196.3 L544.3,196.3 L544.8,196.3 L545.3,196.4 L545.8,196.4 L546.3,196.4 L546.8,196.4 L547.3,196.4 L547.8,196.4 L548.3,196.4 L548.8,196.4 L549.3,196.4 L549.8,196.4 L550.3,196.4 L550.8,196.4 L551.3,196.4 L551.8,196.4 L552.3,196.4 L552.8,196.4 L553.3,196.4 L553.8,196.4 L554.3,196.4 L554.8,196.4 L555.3,196.5 L555.8,196.5 L556.3,196.5 L556.8,196.5 L557.3,196.5 L557.8,196.5 L558.3,196.5 L558.8,196.5 L559.3,196.5 L559.8,196.5 L560.3,196.5 L560.8,196.4 L561.3,196.4 L561.8,196.4 L562.3,196.4 L562.8,196.3 L563.3,196.3 L563.8,196.3 L564.3,196.2 L564.8,196.2 L565.3,196.2 L565.8,196.1 L566.3,196.1 L566.8,196.1 L567.3,196.0 L567.8,196.0 L568.3,196.0 L568.8,196.0 L569.3,195.9 L569.8,195.9 L570.3,195.9 L570.8,195.8 L571.3,195.8 L571.8,195.8 L572.3,195.7 L572.8,195.7 L573.3,195.7 L573.8,195.6 L574.3,195.6 L574.8,195.6 L575.3,195.5 L575.8,195.5 L576.3,195.5 L576.8,195.4 L577.3,195.4 L577.8,195.4 L578.3,195.4 L578.8,195.3 L579.3,195.3 L579.8,195.3 L580.3,195.2 L580.8,195.2 L581.3,195.2 L581.8,195.1 L582.3,195.1 L582.8,195.1 L583.3,195.0 L583.8,195.0 L584.3,195.0 L584.8,195.0 L585.3,194.9 L585.8,194.9 L586.3,194.9 L586.8,194.8 L587.3,194.8 L587.8,194.8 L588.3,194.7 L588.8,194.7 L589.3,194.7 L589.8,194.6 L590.3,194.6 L590.8,194.6 L591.3,194.5 L591.8,194.5 L592.3,194.5 L592.8,194.4 L593.3,194.4 L593.8,194.4 L594.3,194.4 L594.8,194.3 L595.3,194.3 L595.8,194.3 L596.3,194.2 L596.8,194.2 L597.3,194.2 L597.8,194.1 L598.3,194.1 L598.8,194.1 L599.3,194.0 L599.8,194.0 L600.3,194.0 L600.8,194.0 L601.3,194.0 L601.8,194.0 L602.3,194.0 L602.8,193.9 L603.3,193.9 L603.8,193.9 L604.3,193.9 L604.8,193.9 L605.3,193.9 L605.8,193.9 L606.3,193.9 L606.8,193.9 L607.3,193.9 L607.8,193.9 L608.3,193.8 L608.8,193.8 L609.3,193.8 L609.8,193.8 L610.3,193.8 L610.8,193.8 L611.3,193.8 L611.8,193.8 L612.3,193.8 L612.8,193.8 L613.3,193.8 L613.8,193.7 L614.3,193.7 L614.8,193.7 L615.3,193.7 L615.8,193.7 L616.3,193.7 L616.8,193.7 L617.3,193.7 L617.8,193.7 L618.3,193.7 L618.8,193.7 L619.3,193.6 L619.8,193.6 L620.3,193.6 L620.8,193.6 L621.3,193.6 L621.8,193.6 L622.3,193.6 L622.8,193.6 L623.3,193.6 L623.8,193.6 L624.3,193.6 L624.8,193.5 L625.3,193.5 L625.8,193.5 L626.3,193.5 L626.8,193.5 L627.3,193.5 L627.8,193.5 L628.3,193.5 L628.8,193.5 L629.3,193.5 L629.8,193.4 L630.3,193.4 L630.8,193.4 L631.3,193.4 L631.8,193.4 L632.3,193.4 L632.8,193.4 L633.3,193.4 L633.8,193.4 L634.3,193.4 L634.8,193.4 L635.3,193.3 L635.8,193.3 L636.3,193.3 L636.8,193.3 L637.3,193.3 L637.8,193.3 L638.3,193.3 L638.8,193.3 L639.3,193.3 L639.8,193.3 L640.3,193.3 L640.8,193.2 L641.3,193.2 L641.8,193.2 L642.3,193.2 L642.8,193.2 L643.3,193.2 L643.8,193.2 L644.3,193.2 L644.8,193.2 L645.3,193.2 L645.8,193.2 L646.3,193.1 L646.8,193.1 L647.3,193.1 L647.8,193.1 L648.3,193.1 L648.8,193.1 L649.3,193.1 L649.8,193.1 L650.3,193.1 L650.8,193.1 L651.3,193.1 L651.8,193.0 L652.3,193.0 L652.8,193.0 L653.3,193.0 L653.8,193.0" fill="none" stroke="#111" stroke-width="3.6" stroke-linejoin="round" />
<path d="M376.8,197.2 L377.1,196.2 L377.4,196.3 L377.7,193.6 L378.0,199.1 L378.3,198.2 L378.6,196.2 L378.9,197.6 L379.2,196.9 L379.5,195.7 L379.8,197.6 L380.1,195.9 L380.4,195.8 L380.7,195.1 L381.0,196.7 L381.3,195.9 L381.6,196.7 L381.9,195.1 L382.2,196.0 L382.5,194.6 L382.8,196.8 L383.1,195.9 L383.4,196.1 L383.7,196.1 L384.0,194.3 L384.3,196.6 L384.6,198.2 L384.9,193.4 L385.2,193.3 L385.5,193.5 L385.8,196.6 L386.1,195.6 L386.4,196.8 L386.7,196.4 L387.0,195.7 L387.3,195.8 L387.6,195.2 L387.9,196.5 L388.2,193.9 L388.5,194.8 L388.8,195.6 L389.1,197.6 L389.4,194.3 L389.7,193.9 L390.0,194.5 L390.3,196.5 L390.6,194.9 L390.9,196.9 L391.2,192.6 L391.5,196.5 L391.8,196.3 L392.1,193.0 L392.4,195.0 L392.7,196.3 L393.0,194.7 L393.3,195.8 L393.6,197.5 L393.9,194.7 L394.2,193.9 L394.5,193.2 L394.8,195.0 L395.1,193.8 L395.4,193.7 L395.7,193.7 L396.0,194.6 L396.3,192.3 L396.6,191.6 L396.9,190.4 L397.2,195.0 L397.5,193.5 L397.8,195.3 L398.1,193.2 L398.4,192.1 L398.7,193.6 L399.0,192.7 L399.3,191.0 L399.6,191.3 L399.9,194.6 L400.2,192.7 L400.5,192.6 L400.8,191.5 L401.1,190.9 L401.4,192.8 L401.7,191.3 L402.0,190.3 L402.3,191.0 L402.6,189.8 L402.9,191.1 L403.2,192.2 L403.5,189.5 L403.8,192.3 L404.1,189.4 L404.4,190.3 L404.7,188.9 L405.0,189.5 L405.3,189.7 L405.6,188.9 L405.9,188.3 L406.2,188.1 L406.5,187.7 L406.8,186.5 L407.1,188.0 L407.4,188.6 L407.7,189.0 L408.0,188.5 L408.3,190.6 L408.6,187.6 L408.9,186.3 L409.2,189.1 L409.5,185.1 L409.8,187.5 L410.1,184.7 L410.4,186.2 L410.7,182.9 L411.0,186.4 L411.3,184.7 L411.6,183.3 L411.9,186.3 L412.2,184.7 L412.5,183.2 L412.8,181.7 L413.1,182.1 L413.4,181.4 L413.7,182.0 L414.0,181.6 L414.3,179.1 L414.6,178.8 L414.9,178.3 L415.2,176.6 L415.5,177.1 L415.8,177.1 L416.1,177.5 L416.4,177.6 L416.7,174.2 L417.0,175.2 L417.3,173.1 L417.6,175.7 L417.9,172.1 L418.2,172.1 L418.5,169.5 L418.8,168.9 L419.1,169.4 L419.4,167.9 L419.7,168.1 L420.0,164.9 L420.3,167.0 L420.6,164.1 L420.9,166.7 L421.2,163.3 L421.5,164.2 L421.8,160.2 L422.1,161.7 L422.4,159.2 L422.7,158.9 L423.0,158.7 L423.3,157.6 L423.6,157.7 L423.9,157.7 L424.2,157.0 L424.5,155.5 L424.8,153.4 L425.1,153.7 L425.4,154.4 L425.7,151.9 L426.0,156.0 L426.3,155.2 L426.6,155.8 L426.9,158.1 L427.2,158.4 L427.5,158.6 L427.8,157.7 L428.1,160.2 L428.4,161.0 L428.7,160.2 L429.0,163.5 L429.3,163.6 L429.6,161.2 L429.9,164.7 L430.2,163.7 L430.5,167.7 L430.8,168.1 L431.1,166.4 L431.4,167.5 L431.7,169.6 L432.0,169.9 L432.3,172.9 L432.6,172.5 L432.9,171.8 L433.2,173.5 L433.5,170.7 L433.8,174.3 L434.1,175.6 L434.4,174.8 L434.7,174.6 L435.0,176.9 L435.3,179.2 L435.6,177.5 L435.9,176.3 L436.2,180.2 L436.5,176.3 L436.8,179.9 L437.1,178.8 L437.4,181.1 L437.7,179.1 L438.0,182.2 L438.3,181.1 L438.6,178.7 L438.9,178.7 L439.2,181.1 L439.5,183.5 L439.8,182.2 L440.1,182.4 L440.4,182.3 L440.7,183.7 L441.0,183.4 L441.3,183.4 L441.6,181.8 L441.9,184.7 L442.2,184.9 L442.5,181.4 L442.8,186.0 L443.1,183.9 L443.4,182.3 L443.7,180.4 L444.0,183.6 L444.3,183.5 L444.6,181.9 L444.9,180.3 L445.2,184.0 L445.5,181.6 L445.8,181.7 L446.1,185.8 L446.4,184.7 L446.7,183.0 L447.0,180.9 L447.3,182.1 L447.6,178.1 L447.9,181.0 L448.2,179.7 L448.5,178.8 L448.8,178.2 L449.1,180.7 L449.4,179.9 L449.7,179.7 L450.0,180.3 L450.3,177.7 L450.6,176.7 L450.9,175.5 L451.2,176.9 L451.5,177.8 L451.8,176.0 L452.1,176.5 L452.4,173.6 L452.7,173.8 L453.0,172.7 L453.3,171.3 L453.6,174.5 L453.9,172.2 L454.2,169.2 L454.5,168.2 L454.8,168.1 L455.1,165.4 L455.4,166.8 L455.7,163.6 L456.0,163.8 L456.3,162.0 L456.6,161.7 L456.9,159.6 L457.2,158.3 L457.5,158.1 L457.8,157.5 L458.1,157.0 L458.4,156.5 L458.7,157.6 L459.0,156.0 L459.3,154.2 L459.6,155.5 L459.9,154.1 L460.2,157.5 L460.5,157.1 L460.8,155.5 L461.1,159.2 L461.4,160.3 L461.7,156.9 L462.0,160.8 L462.3,162.6 L462.6,162.4 L462.9,165.3 L463.2,167.3 L463.5,171.0 L463.8,172.6 L464.1,177.4 L464.4,175.3 L464.7,179.0 L465.0,179.4 L465.3,181.4 L465.6,181.2 L465.9,181.8 L466.2,184.7 L466.5,187.9 L466.8,190.1 L467.1,189.7 L467.4,190.3 L467.7,189.3 L468.0,193.1 L468.3,193.5 L468.6,191.7 L468.9,192.9 L469.2,192.2 L469.5,195.7 L469.8,194.6 L470.1,194.1 L470.4,194.9 L470.7,195.0 L471.0,193.9 L471.3,192.9 L471.6,192.9 L471.9,192.4 L472.2,195.3 L472.5,197.7 L472.8,192.7 L473.1,195.1 L473.4,195.6 L473.7,193.8 L474.0,195.4 L474.3,193.8 L474.6,196.8 L474.9,194.6 L475.2,195.5 L475.5,196.4 L475.8,195.0 L476.1,193.2 L476.4,194.9 L476.7,196.6 L477.0,195.5 L477.3,195.9 L477.6,194.2 L477.9,195.8 L478.2,196.6 L478.5,195.7 L478.8,198.1 L479.1,195.4 L479.4,194.3 L479.7,193.5 L480.0,197.1 L480.3,195.6 L480.6,197.0 L480.9,196.2 L481.2,197.8 L481.5,197.3 L481.8,195.2 L482.1,196.0 L482.4,197.1 L482.7,194.0 L483.0,197.5 L483.3,197.2 L483.6,196.9 L483.9,195.4 L484.2,196.1 L484.5,194.2 L484.8,195.7 L485.1,194.9 L485.4,195.8 L485.7,195.0 L486.0,196.1 L486.3,197.2 L486.6,194.0 L486.9,196.9 L487.2,193.1 L487.5,192.9 L487.8,195.5 L488.1,195.7 L488.4,196.3 L488.7,193.6 L489.0,195.6 L489.3,195.9 L489.6,197.3 L489.9,195.6 L490.2,196.4 L490.5,194.5 L490.8,195.5 L491.1,195.1 L491.4,196.6 L491.7,194.4 L492.0,194.6 L492.3,196.5 L492.6,198.1 L492.9,196.2 L493.2,196.1 L493.5,195.3 L493.8,197.2 L494.1,196.5 L494.4,198.0 L494.7,196.2 L495.0,194.5 L495.3,195.0 L495.6,194.5 L495.9,194.1 L496.2,197.4 L496.5,196.8 L496.8,194.2 L497.1,198.1 L497.4,196.1 L497.7,194.5 L498.0,196.3 L498.3,195.7 L498.6,194.8 L498.9,193.3 L499.2,195.8 L499.5,196.2 L499.8,192.4 L500.1,196.5 L500.4,196.6 L500.7,195.2 L501.0,196.0 L501.3,195.5 L501.6,194.7 L501.9,195.4 L502.2,197.6 L502.5,193.9 L502.8,196.1 L503.1,196.1 L503.4,194.9 L503.7,195.3 L504.0,194.0 L504.3,194.7 L504.6,195.9 L504.9,196.3 L505.2,194.7 L505.5,199.8 L505.8,195.1 L506.1,196.0 L506.4,195.6 L506.7,195.4 L507.0,197.6 L507.3,195.3 L507.6,197.6 L507.9,197.4 L508.2,194.5 L508.5,197.3 L508.8,195.1 L509.1,199.5 L509.4,195.4 L509.7,194.7 L510.0,193.4 L510.3,194.3 L510.6,195.2 L510.9,194.6 L511.2,194.4 L511.5,195.0 L511.8,195.7 L512.1,197.8 L512.4,193.8 L512.7,195.3 L513.0,194.7 L513.3,194.0 L513.6,194.3 L513.9,194.8 L514.2,196.9 L514.5,195.7 L514.8,195.3 L515.1,196.8 L515.4,196.4 L515.7,195.7 L516.0,196.5 L516.3,194.9 L516.6,196.8 L516.9,196.6 L517.2,195.5 L517.5,194.4 L517.8,198.0 L518.1,196.2 L518.4,200.0 L518.7,195.2 L519.0,197.2 L519.3,195.5 L519.6,196.4 L519.9,197.1 L520.2,195.0 L520.5,195.9 L520.8,196.3 L521.1,196.2 L521.4,196.9 L521.7,197.4 L522.0,197.2 L522.3,196.4 L522.6,195.6 L522.9,194.6 L523.2,195.2 L523.5,195.4 L523.8,197.0 L524.1,195.6 L524.4,194.5 L524.7,196.9 L525.0,195.1 L525.3,195.1 L525.6,195.8 L525.9,196.8 L526.2,193.0 L526.5,194.7 L526.8,196.4 L527.1,195.7 L527.4,195.0 L527.7,195.5 L528.0,198.0 L528.3,195.6 L528.6,197.1 L528.9,197.2 L529.2,195.6 L529.5,196.8 L529.8,195.6 L530.1,195.4 L530.4,194.7 L530.7,197.3 L531.0,195.7 L531.3,195.5 L531.6,194.8 L531.9,198.6 L532.2,197.2 L532.5,196.1 L532.8,195.3 L533.1,194.2 L533.4,196.6 L533.7,196.6 L534.0,194.4 L534.3,197.8 L534.6,197.3 L534.9,195.0 L535.2,195.5 L535.5,195.7 L535.8,196.5 L536.1,196.1 L536.4,194.1 L536.7,198.2 L537.0,196.7 L537.3,197.9 L537.6,197.9 L537.9,196.0 L538.2,196.7 L538.5,197.2 L538.8,197.3 L539.1,196.1 L539.4,195.5 L539.7,196.3 L540.0,195.3 L540.3,195.6 L540.6,193.7 L540.9,196.4 L541.2,195.0 L541.5,195.6 L541.8,196.2 L542.1,196.7 L542.4,198.8 L542.7,196.6 L543.0,194.5 L543.3,196.5 L543.6,195.6 L543.9,196.9 L544.2,195.5 L544.5,195.4 L544.8,195.7 L545.1,195.5 L545.4,194.0 L545.7,195.5 L546.0,196.3 L546.3,197.9 L546.6,196.0 L546.9,195.9 L547.2,197.1 L547.5,197.1 L547.8,198.5 L548.1,197.1 L548.4,196.4 L548.7,198.1 L549.0,198.4 L549.3,195.8 L549.6,196.6 L549.9,194.2 L550.2,195.9 L550.5,195.3 L550.8,196.1 L551.1,195.8 L551.4,196.2 L551.7,196.3 L552.0,197.1 L552.3,196.7 L552.6,195.7 L552.9,194.8 L553.2,198.0 L553.5,198.3 L553.8,195.8 L554.1,197.2 L554.4,194.5 L554.7,194.4 L555.0,196.1 L555.3,198.4 L555.6,195.1 L555.9,195.4 L556.2,198.6 L556.5,194.0 L556.8,197.3 L557.1,197.1 L557.4,196.2 L557.7,196.7 L558.0,199.9 L558.3,195.0 L558.6,196.1 L558.9,196.2 L559.2,195.6 L559.5,194.7 L559.8,198.6 L560.1,196.8 L560.4,194.2 L560.7,195.5 L561.0,197.0 L561.3,196.9 L561.6,194.5 L561.9,196.3 L562.2,196.7 L562.5,196.9 L562.8,196.8 L563.1,193.9 L563.4,198.7 L563.7,196.5 L564.0,198.6 L564.3,200.0 L564.6,196.0 L564.9,194.6 L565.2,197.3 L565.5,195.9 L565.8,195.6 L566.1,194.8 L566.4,198.3 L566.7,195.5 L567.0,194.2 L567.3,195.5 L567.6,194.5 L567.9,196.2 L568.2,195.4 L568.5,194.6 L568.8,196.7 L569.1,195.1 L569.4,196.9 L569.7,197.5 L570.0,195.4 L570.3,195.0 L570.6,196.1 L570.9,197.0 L571.2,195.8 L571.5,196.0 L571.8,195.7 L572.1,196.1 L572.4,196.5 L572.7,194.8 L573.0,195.1 L573.3,195.7 L573.6,194.8 L573.9,195.8 L574.2,196.3 L574.5,195.6 L574.8,194.8 L575.1,194.5 L575.4,197.8 L575.7,196.7 L576.0,194.0 L576.3,194.4 L576.6,197.9 L576.9,197.4 L577.2,195.6 L577.5,196.9 L577.8,193.5 L578.1,195.4 L578.4,196.3 L578.7,192.9 L579.0,194.3 L579.3,196.3 L579.6,196.7 L579.9,194.5 L580.2,195.6 L580.5,197.3 L580.8,194.7 L581.1,193.4 L581.4,195.1 L581.7,194.6 L582.0,196.8 L582.3,195.3 L582.6,194.0 L582.9,198.2 L583.2,194.4 L583.5,195.6 L583.8,195.9 L584.1,196.0 L584.4,195.2 L584.7,195.7 L585.0,194.8 L585.3,193.1 L585.6,194.6 L585.9,194.6 L586.2,194.6 L586.5,195.0 L586.8,194.0 L587.1,196.5 L587.4,196.8 L587.7,191.9 L588.0,194.8 L588.3,193.8 L588.6,191.3 L588.9,195.2 L589.2,193.9 L589.5,194.2 L589.8,193.8 L590.1,196.0 L590.4,196.2 L590.7,194.9 L591.0,195.5 L591.3,194.4 L591.6,194.7 L591.9,193.5 L592.2,194.5 L592.5,193.5 L592.8,194.9 L593.1,195.5 L593.4,194.8 L593.7,195.9 L594.0,197.9 L594.3,191.6 L594.6,194.4 L594.9,193.6 L595.2,193.7 L595.5,192.5 L595.8,194.3 L596.1,193.9 L596.4,193.4 L596.7,193.9 L597.0,193.4 L597.3,191.1 L597.6,195.6 L597.9,193.7 L598.2,192.9 L598.5,194.5 L598.8,193.2 L599.1,191.2 L599.4,195.2 L599.7,191.8 L600.0,193.7 L600.3,194.2 L600.6,195.7 L600.9,195.5 L601.2,194.2 L601.5,193.0 L601.8,193.4 L602.1,195.4 L602.4,196.3 L602.7,194.7 L603.0,193.1 L603.3,195.3 L603.6,193.4 L603.9,193.4 L604.2,193.6 L604.5,194.7 L604.8,194.3 L605.1,195.2 L605.4,195.6 L605.7,194.6 L606.0,190.9 L606.3,191.7 L606.6,194.1 L606.9,193.8 L607.2,196.7 L607.5,193.8 L607.8,193.7 L608.1,195.1 L608.4,195.2 L608.7,193.5 L609.0,194.4 L609.3,192.4 L609.6,192.6 L609.9,195.4 L610.2,192.0 L610.5,195.0 L610.8,194.7 L611.1,194.8 L611.4,195.0 L611.7,194.5 L612.0,191.0 L612.3,192.5 L612.6,193.0 L612.9,195.0 L613.2,192.3 L613.5,192.8 L613.8,193.3 L614.1,195.5 L614.4,191.9 L614.7,192.0 L615.0,194.5 L615.3,191.0 L615.6,194.1 L615.9,193.1 L616.2,191.6 L616.5,193.1 L616.8,192.4 L617.1,193.9 L617.4,194.2 L617.7,195.6 L618.0,193.7 L618.3,193.8 L618.6,192.9 L618.9,193.6 L619.2,195.0 L619.5,191.1 L619.8,194.5 L620.1,192.9 L620.4,193.7 L620.7,194.0 L621.0,194.7 L621.3,193.9 L621.6,193.1 L621.9,194.0 L622.2,193.6 L622.5,193.3 L622.8,193.8 L623.1,194.7 L623.4,193.7 L623.7,193.8 L624.0,191.9 L624.3,193.4 L624.6,191.1 L624.9,194.5 L625.2,192.3 L625.5,195.2 L625.8,197.4 L626.1,193.0 L626.4,195.2 L626.7,194.0 L627.0,192.8 L627.3,192.4 L627.6,194.2 L627.9,195.3 L628.2,193.9 L628.5,191.5 L628.8,192.1 L629.1,193.2 L629.4,195.2 L629.7,193.8 L630.0,193.9 L630.3,195.0 L630.6,193.2 L630.9,193.3 L631.2,193.2 L631.5,191.1 L631.8,194.0 L632.1,193.9 L632.4,194.7 L632.7,191.8 L633.0,192.3 L633.3,194.6 L633.6,193.8 L633.9,195.2 L634.2,192.2 L634.5,193.6 L634.8,192.5 L635.1,193.8 L635.4,192.7 L635.7,194.0 L636.0,194.7 L636.3,194.2 L636.6,191.0 L636.9,194.5 L637.2,193.9 L637.5,191.9 L637.8,192.1 L638.1,193.3 L638.4,194.0 L638.7,192.7 L639.0,191.2 L639.3,193.6 L639.6,193.5 L639.9,196.4 L640.2,191.6 L640.5,196.5 L640.8,195.5 L641.1,193.6 L641.4,195.4 L641.7,193.4 L642.0,194.5 L642.3,192.3 L642.6,193.3 L642.9,191.9 L643.2,191.2 L643.5,192.8 L643.8,192.3 L644.1,193.9 L644.4,194.8 L644.7,193.0 L645.0,193.2 L645.3,193.4 L645.6,191.0 L645.9,193.5 L646.2,193.2 L646.5,193.1 L646.8,191.7 L647.1,190.6 L647.4,192.8 L647.7,193.5 L648.0,194.9 L648.3,194.6 L648.6,195.0 L648.9,193.6 L649.2,194.6 L649.5,192.8 L649.8,193.9 L650.1,194.3 L650.4,196.6 L650.7,193.4 L651.0,191.4 L651.3,194.8 L651.6,192.0 L651.9,193.0 L652.2,192.7 L652.5,191.8 L652.8,194.8 L653.1,193.8 L653.4,192.2 L653.7,193.1" fill="none" stroke="#111" stroke-width="0.8" stroke-linejoin="round" />
<path d="M41.8,451.0 L42.3,451.0 L42.8,451.0 L43.3,451.0 L43.8,451.0 L44.3,451.0 L44.8,451.0 L45.3,451.0 L45.8,451.0 L46.3,451.0 L46.8,451.0 L47.3,451.0 L47.8,451.0 L48.3,451.0 L48.8,451.0 L49.3,451.0 L49.8,451.0 L50.3,451.0 L50.8,451.0 L51.3,451.0 L51.8,451.0 L52.3,451.0 L52.8,451.0 L53.3,451.0 L53.8,451.0 L54.3,451.0 L54.8,451.0 L55.3,451.0 L55.8,451.0 L56.3,451.0 L56.8,451.0 L57.3,451.0 L57.8,451.0 L58.3,451.0 L58.8,451.0 L59.3,451.0 L59.8,451.0 L60.3,451.0 L60.8,451.0 L61.3,451.0 L61.8,451.0 L62.3,451.0 L62.8,451.0 L63.3,451.0 L63.8,451.0 L64.3,451.0 L64.8,451.0 L65.3,451.0 L65.8,451.0 L66.3,451.0 L66.8,451.0 L67.3,451.0 L67.8,451.0 L68.3,451.0 L68.8,451.0 L69.3,451.0 L69.8,451.0 L70.3,451.0 L70.8,451.0 L71.3,451.0 L71.8,451.0 L72.3,451.0 L72.8,451.0 L73.3,451.0 L73.8,451.0 L74.3,451.0 L74.8,451.0 L75.3,451.0 L75.8,451.0 L76.3,451.0 L76.8,451.0 L77.3,451.0 L77.8,451.0 L78.3,451.0 L78.8,451.0 L79.3,451.0 L79.8,451.0 L80.3,451.0 L80.8,451.0 L81.3,451.0 L81.8,451.0 L82.3,451.0 L82.8,451.0 L83.3,451.0 L83.8,451.0 L84.3,451.0 L84.8,451.0 L85.3,451.0 L85.8,451.0 L86.3,451.0 L86.8,451.0 L87.3,451.0 L87.8,451.0 L88.3,451.0 L88.8,451.0 L89.3,451.0 L89.8,451.0 L90.3,451.0 L90.8,451.0 L91.3,451.0 L91.8,451.0 L92.3,451.0 L92.8,451.0 L93.3,451.0 L93.8,451.0 L94.3,451.0 L94.8,451.0 L95.3,451.0 L95.8,451.0 L96.3,451.0 L96.8,451.0 L97.3,451.0 L97.8,451.0 L98.3,451.0 L98.8,451.0 L99.3,451.0 L99.8,451.0 L100.3,451.0 L100.8,451.0 L101.3,451.0 L101.8,451.0 L102.3,451.1 L102.8,451.1 L103.3,451.1 L103.8,451.1 L104.3,451.1 L104.8,451.1 L105.3,451.1 L105.8,451.1 L106.3,451.1 L106.8,451.1 L107.3,451.1 L107.8,451.1 L108.3,451.1 L108.8,451.1 L109.3,451.1 L109.8,451.1 L110.3,451.1 L110.8,451.1 L111.3,451.1 L111.8,451.1 L112.3,451.1 L112.8,451.1 L113.3,451.1 L113.8,451.1 L114.3,451.1 L114.8,451.1 L115.3,451.1 L115.8,451.1 L116.3,451.2 L116.8,451.2 L117.3,451.2 L117.8,451.2 L118.3,451.2 L118.8,451.2 L119.3,451.2 L119.8,451.2 L120.3,451.2 L120.8,451.2 L121.3,451.2 L121.8,451.2 L122.3,451.2 L122.8,451.2 L123.3,451.2 L123.8,451.2 L124.3,451.2 L124.8,451.2 L125.3,451.3 L125.8,451.3 L126.3,451.3 L126.8,451.3 L127.3,451.3 L127.8,451.3 L128.3,451.3 L128.8,451.3 L129.3,451.3 L129.8,451.3 L130.3,451.3 L130.8,451.3 L131.3,451.3 L131.8,451.3 L132.3,451.3 L132.8,451.4 L133.3,451.4 L133.8,451.4 L134.3,451.4 L134.8,451.4 L135.3,451.4 L135.8,451.4 L136.3,451.4 L136.8,451.4 L137.3,451.4 L137.8,451.4 L138.3,451.4 L138.8,451.4 L139.3,451.4 L139.8,451.4 L140.3,451.4 L140.8,451.5 L141.3,451.5 L141.8,451.5 L142.3,451.5 L142.8,451.5 L143.3,451.5 L143.8,451.5 L144.3,451.5 L144.8,451.5 L145.3,451.5 L145.8,451.5 L146.3,451.5 L146.8,451.5 L147.3,451.5 L147.8,451.5 L148.3,451.5 L148.8,451.5 L149.3,451.5 L149.8,451.5 L150.3,451.5 L150.8,451.5 L151.3,451.5 L151.8,451.6 L152.3,451.6 L152.8,451.6 L153.3,451.6 L153.8,451.6 L154.3,451.6 L154.8,451.6 L155.3,451.6 L155.8,451.6 L156.3,451.6 L156.8,451.6 L157.3,451.6 L157.8,451.6 L158.3,451.6 L158.8,451.6 L159.3,451.6 L159.8,451.6 L160.3,451.6 L160.8,451.6 L161.3,451.6 L161.8,451.6 L162.3,451.6 L162.8,451.6 L163.3,451.6 L163.8,451.6 L164.3,451.6 L164.8,451.6 L165.3,451.6 L165.8,451.6 L166.3,451.7 L166.8,451.7 L167.3,451.7 L167.8,451.7 L168.3,451.7 L168.8,451.7 L169.3,451.7 L169.8,451.7 L170.3,451.7 L170.8,451.7 L171.3,451.7 L171.8,451.7 L172.3,451.7 L172.8,451.7 L173.3,451.7 L173.8,451.7 L174.3,451.7 L174.8,451.7 L175.3,451.7 L175.8,451.8 L176.3,451.8 L176.8,451.8 L177.3,451.8 L177.8,451.8 L178.3,451.8 L178.8,451.8 L179.3,451.8 L179.8,451.8 L180.3,451.8 L180.8,451.8 L181.3,451.8 L181.8,451.8 L182.3,451.9 L182.8,451.9 L183.3,451.9 L183.8,451.9 L184.3,451.9 L184.8,451.9 L185.3,451.9 L185.8,451.9 L186.3,451.9 L186.8,452.0 L187.3,452.0 L187.8,452.0 L188.3,452.0 L188.8,452.0 L189.3,452.0 L189.8,452.0 L190.3,452.1 L190.8,452.1 L191.3,452.1 L191.8,452.1 L192.3,452.1 L192.8,452.1 L193.3,452.1 L193.8,452.2 L194.3,452.2 L194.8,452.2 L195.3,452.2 L195.8,452.2 L196.3,452.2 L196.8,452.3 L197.3,452.3 L197.8,452.3 L198.3,452.3 L198.8,452.3 L199.3,452.4 L199.8,452.4 L200.3,452.4 L200.8,452.4 L201.3,452.4 L201.8,452.5 L202.3,452.5 L202.8,452.5 L203.3,452.5 L203.8,452.6 L204.3,452.6 L204.8,452.6 L205.3,452.6 L205.8,452.6 L206.3,452.7 L206.8,452.7 L207.3,452.7 L207.8,452.7 L208.3,452.8 L208.8,452.8 L209.3,452.8 L209.8,452.8 L210.3,452.9 L210.8,452.9 L211.3,452.9 L211.8,452.9 L212.3,453.0 L212.8,453.0 L213.3,453.0 L213.8,453.0 L214.3,453.1 L214.8,453.1 L215.3,453.1 L215.8,453.1 L216.3,453.2 L216.8,453.2 L217.3,453.2 L217.8,453.2 L218.3,453.3 L218.8,453.3 L219.3,453.3 L219.8,453.4 L220.3,453.4 L220.8,453.4 L221.3,453.5 L221.8,453.5 L222.3,453.5 L222.8,453.6 L223.3,453.6 L223.8,453.6 L224.3,453.7 L224.8,453.7 L225.3,453.7 L225.8,453.8 L226.3,453.8 L226.8,453.9 L227.3,453.9 L227.8,454.0 L228.3,454.0 L228.8,454.1 L229.3,454.1 L229.8,454.2 L230.3,454.2 L230.8,454.3 L231.3,454.3 L231.8,454.4 L232.3,454.5 L232.8,454.5 L233.3,454.6 L233.8,454.7 L234.3,454.7 L234.8,454.8 L235.3,454.9 L235.8,455.0 L236.3,455.0 L236.8,455.1 L237.3,455.2 L237.8,455.3 L238.3,455.4 L238.8,455.5 L239.3,455.6 L239.8,455.7 L240.3,455.8 L240.8,455.9 L241.3,456.0 L241.8,456.1 L242.3,456.2 L242.8,456.3 L243.3,456.4 L243.8,456.5 L244.3,456.6 L244.8,456.7 L245.3,456.8 L245.8,456.9 L246.3,457.0 L246.8,457.1 L247.3,457.2 L247.8,457.3 L248.3,457.4 L248.8,457.5 L249.3,457.6 L249.8,457.7 L250.3,457.8 L250.8,457.9 L251.3,458.0 L251.8,458.1 L252.3,458.1 L252.8,458.2 L253.3,458.3 L253.8,458.4 L254.3,458.5 L254.8,458.5 L255.3,458.6 L255.8,458.7 L256.3,458.8 L256.8,458.8 L257.3,458.9 L257.8,459.0 L258.3,459.0 L258.8,459.1 L259.3,459.1 L259.8,459.2 L260.3,459.2 L260.8,459.3 L261.3,459.3 L261.8,459.4 L262.3,459.4 L262.8,459.5 L263.3,459.5 L263.8,459.5 L264.3,459.6 L264.8,459.6 L265.3,459.6 L265.8,459.7 L266.3,459.7 L266.8,459.7 L267.3,459.7 L267.8,459.8 L268.3,459.8 L268.8,459.8 L269.3,459.8 L269.8,459.8 L270.3,459.9 L270.8,459.9 L271.3,459.9 L271.8,459.9 L272.3,459.9 L272.8,459.9 L273.3,459.9 L273.8,460.0 L274.3,460.0 L274.8,460.0 L275.3,460.0 L275.8,460.0 L276.3,460.0 L276.8,460.0 L277.3,460.0 L277.8,460.0 L278.3,460.0 L278.8,460.0 L279.3,460.0 L279.8,460.0 L280.3,460.1 L280.8,460.1 L281.3,460.1 L281.8,460.1 L282.3,460.1 L282.8,460.1 L283.3,460.1 L283.8,460.1 L284.3,460.1 L284.8,460.1 L285.3,460.1 L285.8,460.1 L286.3,460.1 L286.8,460.1 L287.3,460.1 L287.8,460.1 L288.3,460.1 L288.8,460.1 L289.3,460.1 L289.8,460.1 L290.3,460.1 L290.8,460.1 L291.3,460.1 L291.8,460.1 L292.3,460.1 L292.8,460.1 L293.3,460.1 L293.8,460.1 L294.3,460.1 L294.8,460.1 L295.3,460.1 L295.8,460.1 L296.3,460.1 L296.8,460.1 L297.3,460.1 L297.8,460.1 L298.3,460.1 L298.8,460.2 L299.3,460.2 L299.8,460.2 L300.3,460.2 L300.8,460.2 L301.3,460.2 L301.8,460.2 L302.3,460.2 L302.8,460.2 L303.3,460.2 L303.8,460.2 L304.3,460.2 L304.8,460.2 L305.3,460.2 L305.8,460.2 L306.3,460.2 L306.8,460.2 L307.3,460.2 L307.8,460.2 L308.3,460.2 L308.8,460.2 L309.3,460.2 L309.8,460.2 L310.3,460.2 L310.8,460.2 L311.3,460.2 L311.8,460.2 L312.3,460.2 L312.8,460.2 L313.3,460.2 L313.8,460.2 L314.3,460.2 L314.8,460.2 L315.3,460.2 L315.8,460.2 L316.3,460.2 L316.8,460.2 L317.3,460.2 L317.8,460.2 L318.3,460.2 L318.8,460.2 L319.3,460.2 L319.8,460.2 L320.3,460.2 L320.8,460.2 L321.3,460.2 L321.8,460.2" fill="none" stroke="#222" stroke-width="1.3" stroke-linejoin="round" />
<path d="M41.8,450.9 L42.3,450.9 L42.8,450.9 L43.3,450.9 L43.8,450.9 L44.3,450.9 L44.8,450.8 L45.3,450.8 L45.8,450.8 L46.3,450.8 L46.8,450.8 L47.3,450.8 L47.8,450.8 L48.3,450.8 L48.8,450.8 L49.3,450.8 L49.8,450.8 L50.3,450.8 L50.8,450.8 L51.3,450.8 L51.8,450.8 L52.3,450.8 L52.8,450.8 L53.3,450.8 L53.8,450.8 L54.3,450.8 L54.8,450.8 L55.3,450.8 L55.8,450.8 L56.3,450.8 L56.8,450.8 L57.3,450.8 L57.8,450.8 L58.3,450.8 L58.8,450.8 L59.3,450.8 L59.8,450.8 L60.3,450.8 L60.8,450.8 L61.3,450.8 L61.8,450.8 L62.3,450.8 L62.8,450.8 L63.3,450.8 L63.8,450.8 L64.3,450.8 L64.8,450.8 L65.3,450.8 L65.8,450.8 L66.3,450.8 L66.8,450.8 L67.3,450.8 L67.8,450.8 L68.3,450.8 L68.8,450.8 L69.3,450.8 L69.8,450.8 L70.3,450.8 L70.8,450.8 L71.3,450.8 L71.8,450.8 L72.3,450.8 L72.8,450.8 L73.3,450.8 L73.8,450.8 L74.3,450.8 L74.8,450.8 L75.3,450.8 L75.8,450.8 L76.3,450.8 L76.8,450.8 L77.3,450.8 L77.8,450.8 L78.3,450.8 L78.8,450.8 L79.3,450.8 L79.8,450.8 L80.3,450.8 L80.8,450.8 L81.3,450.8 L81.8,450.8 L82.3,450.8 L82.8,450.8 L83.3,450.8 L83.8,450.8 L84.3,450.8 L84.8,450.8 L85.3,450.8 L85.8,450.8 L86.3,450.8 L86.8,450.8 L87.3,450.8 L87.8,450.8 L88.3,450.8 L88.8,450.8 L89.3,450.8 L89.8,450.8 L90.3,450.8 L90.8,450.8 L91.3,450.8 L91.8,450.8 L92.3,450.8 L92.8,450.8 L93.3,450.8 L93.8,450.8 L94.3,450.8 L94.8,450.8 L95.3,450.8 L95.8,450.8 L96.3,450.8 L96.8,450.8 L97.3,450.8 L97.8,450.8 L98.3,450.8 L98.8,450.8 L99.3,450.8 L99.8,450.8 L100.3,450.8 L100.8,450.8 L101.3,450.8 L101.8,450.8 L102.3,450.8 L102.8,450.8 L103.3,450.8 L103.8,450.8 L104.3,450.8 L104.8,450.8 L105.3,450.8 L105.8,450.8 L106.3,450.8 L106.8,450.8 L107.3,450.8 L107.8,450.8 L108.3,450.8 L108.8,450.8 L109.3,450.8 L109.8,450.8 L110.3,450.8 L110.8,450.8 L111.3,450.8 L111.8,450.8 L112.3,450.8 L112.8,450.8 L113.3,450.8 L113.8,450.8 L114.3,450.8 L114.8,450.8 L115.3,450.8 L115.8,450.8 L116.3,450.8 L116.8,450.8 L117.3,450.8 L117.8,450.8 L118.3,450.8 L118.8,450.8 L119.3,450.8 L119.8,450.8 L120.3,450.8 L120.8,450.8 L121.3,450.8 L121.8,450.8 L122.3,450.8 L122.8,450.8 L123.3,450.8 L123.8,450.8 L124.3,450.8 L124.8,450.8 L125.3,450.8 L125.8,450.8 L126.3,450.8 L126.8,450.8 L127.3,450.8 L127.8,450.9 L128.3,450.9 L128.8,450.9 L129.3,450.9 L129.8,450.9 L130.3,450.9 L130.8,450.9 L131.3,450.9 L131.8,450.9 L132.3,450.9 L132.8,450.9 L133.3,450.9 L133.8,450.9 L134.3,450.9 L134.8,450.9 L135.3,450.9 L135.8,450.9 L136.3,450.9 L136.8,450.9 L137.3,450.9 L137.8,450.9 L138.3,450.9 L138.8,450.9 L139.3,450.9 L139.8,450.9 L140.3,450.9 L140.8,450.9 L141.3,450.9 L141.8,450.9 L142.3,450.9 L142.8,450.9 L143.3,450.9 L143.8,450.9 L144.3,450.9 L144.8,450.9 L145.3,450.9 L145.8,450.9 L146.3,450.9 L146.8,450.9 L147.3,450.9 L147.8,450.9 L148.3,450.9 L148.8,450.9 L149.3,450.9 L149.8,450.9 L150.3,450.9 L150.8,450.9 L151.3,450.9 L151.8,450.9 L152.3,450.9 L152.8,450.9 L153.3,450.9 L153.8,450.9 L154.3,450.8 L154.8,450.8 L155.3,450.8 L155.8,450.8 L156.3,450.8 L156.8,450.8 L157.3,450.8 L157.8,450.8 L158.3,450.8 L158.8,450.8 L159.3,450.8 L159.8,450.8 L160.3,450.8 L160.8,450.8 L161.3,450.8 L161.8,450.8 L162.3,450.8 L162.8,450.8 L163.3,450.7 L163.8,450.7 L164.3,450.7 L164.8,450.7 L165.3,450.7 L165.8,450.7 L166.3,450.7 L166.8,450.7 L167.3,450.7 L167.8,450.7 L168.3,450.7 L168.8,450.7 L169.3,450.7 L169.8,450.6 L170.3,450.6 L170.8,450.6 L171.3,450.6 L171.8,450.6 L172.3,450.6 L172.8,450.6 L173.3,450.6 L173.8,450.6 L174.3,450.6 L174.8,450.5 L175.3,450.5 L175.8,450.5 L176.3,450.5 L176.8,450.5 L177.3,450.5 L177.8,450.5 L178.3,450.5 L178.8,450.5 L179.3,450.5 L179.8,450.4 L180.3,450.4 L180.8,450.4 L181.3,450.4 L181.8,450.4 L182.3,450.4 L182.8,450.4 L183.3,450.4 L183.8,450.3 L184.3,450.3 L184.8,450.3 L185.3,450.3 L185.8,450.3 L186.3,450.3 L186.8,450.3 L187.3,450.2 L187.8,450.2 L188.3,450.2 L188.8,450.2 L189.3,450.2 L189.8,450.2 L190.3,450.1 L190.8,450.1 L191.3,450.1 L191.8,450.1 L192.3,450.1 L192.8,450.0 L193.3,450.0 L193.8,450.0 L194.3,450.0 L194.8,449.9 L195.3,449.9 L195.8,449.9 L196.3,449.9 L196.8,449.8 L197.3,449.8 L197.8,449.8 L198.3,449.7 L198.8,449.7 L199.3,449.7 L199.8,449.6 L200.3,449.6 L200.8,449.5 L201.3,449.5 L201.8,449.4 L202.3,449.4 L202.8,449.3 L203.3,449.2 L203.8,449.2 L204.3,449.1 L204.8,449.0 L205.3,448.9 L205.8,448.8 L206.3,448.7 L206.8,448.6 L207.3,448.5 L207.8,448.3 L208.3,448.2 L208.8,448.0 L209.3,447.9 L209.8,447.7 L210.3,447.4 L210.8,447.2 L211.3,446.9 L211.8,446.7 L212.3,446.3 L212.8,446.0 L213.3,445.6 L213.8,445.2 L214.3,444.7 L214.8,444.2 L215.3,443.7 L215.8,443.1 L216.3,442.4 L216.8,441.7 L217.3,441.0 L217.8,440.1 L218.3,439.2 L218.8,438.2 L219.3,437.2 L219.8,436.0 L220.3,434.8 L220.8,433.5 L221.3,432.0 L221.8,430.5 L222.3,428.9 L222.8,427.1 L223.3,425.3 L223.8,423.3 L224.3,421.2 L224.8,419.0 L225.3,416.6 L225.8,414.2 L226.3,411.6 L226.8,408.9 L227.3,406.0 L227.8,403.0 L228.3,399.9 L228.8,396.7 L229.3,393.4 L229.8,390.0 L230.3,386.4 L230.8,382.8 L231.3,379.1 L231.8,375.3 L232.3,371.4 L232.8,367.4 L233.3,363.4 L233.8,359.4 L234.3,355.4 L234.8,351.3 L235.3,347.3 L235.8,343.3 L236.3,339.3 L236.8,335.4 L237.3,331.6 L237.8,327.9 L238.3,324.3 L238.8,320.9 L239.3,317.6 L239.8,314.5 L240.3,311.6 L240.8,309.0 L241.3,306.6 L241.8,304.4 L242.3,302.6 L242.8,301.1 L243.3,299.9 L243.8,299.0 L244.3,298.4 L244.8,298.2 L245.3,298.3 L245.8,298.7 L246.3,299.4 L246.8,300.4 L247.3,301.6 L247.8,303.1 L248.3,304.8 L248.8,306.8 L249.3,308.9 L249.8,311.3 L250.3,313.9 L250.8,316.7 L251.3,319.6 L251.8,322.7 L252.3,325.9 L252.8,329.2 L253.3,332.7 L253.8,336.2 L254.3,339.8 L254.8,343.5 L255.3,347.2 L255.8,350.9 L256.3,354.7 L256.8,358.4 L257.3,362.2 L257.8,365.9 L258.3,369.6 L258.8,373.3 L259.3,376.9 L259.8,380.5 L260.3,384.0 L260.8,387.5 L261.3,390.8 L261.8,394.1 L262.3,397.3 L262.8,400.4 L263.3,403.5 L263.8,406.4 L264.3,409.2 L264.8,411.9 L265.3,414.5 L265.8,417.1 L266.3,419.5 L266.8,421.8 L267.3,424.0 L267.8,426.1 L268.3,428.1 L268.8,430.0 L269.3,431.8 L269.8,433.5 L270.3,435.1 L270.8,436.6 L271.3,438.1 L271.8,439.4 L272.3,440.7 L272.8,441.9 L273.3,443.0 L273.8,444.0 L274.3,445.0 L274.8,445.9 L275.3,446.8 L275.8,447.6 L276.3,448.3 L276.8,449.0 L277.3,449.6 L277.8,450.2 L278.3,450.8 L278.8,451.3 L279.3,451.8 L279.8,452.2 L280.3,452.6 L280.8,453.0 L281.3,453.3 L281.8,453.6 L282.3,453.9 L282.8,454.2 L283.3,454.5 L283.8,454.7 L284.3,454.9 L284.8,455.1 L285.3,455.3 L285.8,455.5 L286.3,455.6 L286.8,455.8 L287.3,455.9 L287.8,456.1 L288.3,456.2 L288.8,456.3 L289.3,456.4 L289.8,456.5 L290.3,456.6 L290.8,456.7 L291.3,456.8 L291.8,456.9 L292.3,457.0 L292.8,457.0 L293.3,457.1 L293.8,457.2 L294.3,457.2 L294.8,457.3 L295.3,457.4 L295.8,457.4 L296.3,457.5 L296.8,457.5 L297.3,457.6 L297.8,457.6 L298.3,457.7 L298.8,457.7 L299.3,457.8 L299.8,457.8 L300.3,457.8 L300.8,457.9 L301.3,457.9 L301.8,458.0 L302.3,458.0 L302.8,458.0 L303.3,458.1 L303.8,458.1 L304.3,458.1 L304.8,458.2 L305.3,458.2 L305.8,458.2 L306.3,458.3 L306.8,458.3 L307.3,458.3 L307.8,458.4 L308.3,458.4 L308.8,458.4 L309.3,458.4 L309.8,458.5 L310.3,458.5 L310.8,458.5 L311.3,458.5 L311.8,458.6 L312.3,458.6 L312.8,458.6 L313.3,458.6 L313.8,458.7 L314.3,458.7 L314.8,458.7 L315.3,458.7 L315.8,458.7 L316.3,458.8 L316.8,458.8 L317.3,458.8 L317.8,458.8 L318.3,458.8 L318.8,458.9 L319.3,458.9 L319.8,458.9 L320.3,458.9 L320.8,458.9 L321.3,458.9 L321.8,459.0" fill="none" stroke="#3c3c3c" stroke-width="1.3" stroke-linejoin="round" />
<path d="M41.8,451.0 L42.3,451.0 L42.8,451.0 L43.3,451.0 L43.8,451.0 L44.3,451.0 L44.8,451.0 L45.3,451.0 L45.8,451.0 L46.3,451.0 L46.8,451.0 L47.3,451.0 L47.8,451.0 L48.3,451.0 L48.8,451.0 L49.3,451.0 L49.8,451.0 L50.3,451.0 L50.8,451.0 L51.3,451.0 L51.8,451.0 L52.3,451.0 L52.8,451.0 L53.3,451.0 L53.8,451.0 L54.3,451.0 L54.8,451.0 L55.3,451.0 L55.8,451.0 L56.3,451.0 L56.8,451.0 L57.3,451.0 L57.8,451.0 L58.3,451.0 L58.8,451.0 L59.3,451.0 L59.8,451.0 L60.3,451.0 L60.8,451.0 L61.3,451.0 L61.8,451.0 L62.3,451.0 L62.8,451.0 L63.3,451.0 L63.8,451.0 L64.3,451.0 L64.8,451.0 L65.3,451.0 L65.8,451.0 L66.3,451.0 L66.8,451.0 L67.3,451.0 L67.8,451.0 L68.3,451.0 L68.8,451.0 L69.3,451.0 L69.8,451.0 L70.3,451.0 L70.8,451.0 L71.3,451.0 L71.8,451.0 L72.3,451.0 L72.8,451.0 L73.3,451.0 L73.8,451.0 L74.3,451.0 L74.8,451.0 L75.3,451.0 L75.8,451.0 L76.3,451.0 L76.8,451.0 L77.3,451.0 L77.8,451.0 L78.3,451.0 L78.8,451.0 L79.3,451.0 L79.8,451.0 L80.3,451.0 L80.8,451.0 L81.3,451.0 L81.8,451.0 L82.3,451.0 L82.8,451.0 L83.3,451.0 L83.8,451.0 L84.3,451.0 L84.8,451.0 L85.3,451.0 L85.8,451.0 L86.3,451.0 L86.8,451.0 L87.3,451.0 L87.8,451.0 L88.3,451.0 L88.8,451.0 L89.3,451.0 L89.8,451.0 L90.3,451.0 L90.8,451.0 L91.3,451.0 L91.8,451.0 L92.3,451.0 L92.8,451.0 L93.3,451.0 L93.8,451.0 L94.3,451.0 L94.8,451.0 L95.3,451.0 L95.8,451.0 L96.3,451.0 L96.8,451.0 L97.3,451.0 L97.8,451.0 L98.3,451.0 L98.8,451.0 L99.3,451.0 L99.8,451.0 L100.3,451.0 L100.8,451.0 L101.3,451.0 L101.8,451.0 L102.3,451.1 L102.8,451.1 L103.3,451.1 L103.8,451.1 L104.3,451.1 L104.8,451.1 L105.3,451.1 L105.8,451.1 L106.3,451.1 L106.8,451.1 L107.3,451.1 L107.8,451.1 L108.3,451.1 L108.8,451.1 L109.3,451.1 L109.8,451.1 L110.3,451.1 L110.8,451.1 L111.3,451.1 L111.8,451.1 L112.3,451.1 L112.8,451.1 L113.3,451.1 L113.8,451.1 L114.3,451.1 L114.8,451.1 L115.3,451.1 L115.8,451.1 L116.3,451.1 L116.8,451.2 L117.3,451.2 L117.8,451.2 L118.3,451.2 L118.8,451.2 L119.3,451.2 L119.8,451.2 L120.3,451.2 L120.8,451.2 L121.3,451.2 L121.8,451.2 L122.3,451.2 L122.8,451.2 L123.3,451.2 L123.8,451.2 L124.3,451.2 L124.8,451.2 L125.3,451.2 L125.8,451.2 L126.3,451.2 L126.8,451.2 L127.3,451.3 L127.8,451.3 L128.3,451.3 L128.8,451.3 L129.3,451.3 L129.8,451.3 L130.3,451.3 L130.8,451.3 L131.3,451.3 L131.8,451.3 L132.3,451.3 L132.8,451.3 L133.3,451.3 L133.8,451.3 L134.3,451.3 L134.8,451.3 L135.3,451.3 L135.8,451.3 L136.3,451.3 L136.8,451.3 L137.3,451.3 L137.8,451.3 L138.3,451.3 L138.8,451.2 L139.3,451.2 L139.8,451.2 L140.3,451.2 L140.8,451.2 L141.3,451.2 L141.8,451.2 L142.3,451.2 L142.8,451.1 L143.3,451.1 L143.8,451.1 L144.3,451.1 L144.8,451.1 L145.3,451.0 L145.8,451.0 L146.3,451.0 L146.8,451.0 L147.3,450.9 L147.8,450.9 L148.3,450.9 L148.8,450.8 L149.3,450.8 L149.8,450.7 L150.3,450.7 L150.8,450.6 L151.3,450.6 L151.8,450.5 L152.3,450.5 L152.8,450.4 L153.3,450.4 L153.8,450.3 L154.3,450.2 L154.8,450.1 L155.3,450.1 L155.8,450.0 L156.3,449.9 L156.8,449.8 L157.3,449.7 L157.8,449.6 L158.3,449.5 L158.8,449.4 L159.3,449.3 L159.8,449.1 L160.3,449.0 L160.8,448.9 L161.3,448.7 L161.8,448.6 L162.3,448.5 L162.8,448.3 L163.3,448.1 L163.8,448.0 L164.3,447.8 L164.8,447.6 L165.3,447.4 L165.8,447.2 L166.3,447.0 L166.8,446.8 L167.3,446.6 L167.8,446.4 L168.3,446.2 L168.8,445.9 L169.3,445.7 L169.8,445.4 L170.3,445.2 L170.8,444.9 L171.3,444.6 L171.8,444.3 L172.3,444.1 L172.8,443.8 L173.3,443.5 L173.8,443.1 L174.3,442.8 L174.8,442.5 L175.3,442.2 L175.8,441.8 L176.3,441.5 L176.8,441.1 L177.3,440.7 L177.8,440.4 L178.3,440.0 L178.8,439.6 L179.3,439.2 L179.8,438.8 L180.3,438.4 L180.8,438.0 L181.3,437.6 L181.8,437.1 L182.3,436.7 L182.8,436.3 L183.3,435.8 L183.8,435.4 L184.3,434.9 L184.8,434.5 L185.3,434.0 L185.8,433.6 L186.3,433.1 L186.8,432.6 L187.3,432.2 L187.8,431.7 L188.3,431.2 L188.8,430.8 L189.3,430.3 L189.8,429.8 L190.3,429.3 L190.8,428.9 L191.3,428.4 L191.8,427.9 L192.3,427.5 L192.8,427.0 L193.3,426.6 L193.8,426.1 L194.3,425.7 L194.8,425.2 L195.3,424.8 L195.8,424.4 L196.3,423.9 L196.8,423.5 L197.3,423.1 L197.8,422.7 L198.3,422.3 L198.8,422.0 L199.3,421.6 L199.8,421.2 L200.3,420.9 L200.8,420.5 L201.3,420.2 L201.8,419.9 L202.3,419.6 L202.8,419.3 L203.3,419.1 L203.8,418.8 L204.3,418.6 L204.8,418.3 L205.3,418.1 L205.8,417.9 L206.3,417.8 L206.8,417.6 L207.3,417.5 L207.8,417.3 L208.3,417.2 L208.8,417.1 L209.3,417.0 L209.8,417.0 L210.3,416.9 L210.8,416.9 L211.3,416.9 L211.8,416.9 L212.3,417.0 L212.8,417.0 L213.3,417.1 L213.8,417.1 L214.3,417.2 L214.8,417.3 L215.3,417.4 L215.8,417.6 L216.3,417.7 L216.8,417.9 L217.3,418.0 L217.8,418.2 L218.3,418.4 L218.8,418.6 L219.3,418.8 L219.8,419.1 L220.3,419.3 L220.8,419.6 L221.3,419.8 L221.8,420.1 L222.3,420.4 L222.8,420.7 L223.3,421.0 L223.8,421.3 L224.3,421.7 L224.8,422.0 L225.3,422.4 L225.8,422.8 L226.3,423.1 L226.8,423.5 L227.3,423.9 L227.8,424.3 L228.3,424.7 L228.8,425.2 L229.3,425.6 L229.8,426.0 L230.3,426.5 L230.8,426.9 L231.3,427.4 L231.8,427.9 L232.3,428.3 L232.8,428.8 L233.3,429.3 L233.8,429.8 L234.3,430.3 L234.8,430.8 L235.3,431.3 L235.8,431.8 L236.3,432.3 L236.8,432.8 L237.3,433.3 L237.8,433.8 L238.3,434.3 L238.8,434.8 L239.3,435.4 L239.8,435.9 L240.3,436.4 L240.8,436.9 L241.3,437.4 L241.8,438.0 L242.3,438.5 L242.8,439.0 L243.3,439.5 L243.8,440.0 L244.3,440.5 L244.8,441.0 L245.3,441.5 L245.8,442.0 L246.3,442.5 L246.8,443.0 L247.3,443.5 L247.8,443.9 L248.3,444.4 L248.8,444.9 L249.3,445.3 L249.8,445.8 L250.3,446.2 L250.8,446.6 L251.3,447.1 L251.8,447.5 L252.3,447.9 L252.8,448.3 L253.3,448.7 L253.8,449.1 L254.3,449.4 L254.8,449.8 L255.3,450.2 L255.8,450.5 L256.3,450.9 L256.8,451.2 L257.3,451.5 L257.8,451.8 L258.3,452.1 L258.8,452.4 L259.3,452.7 L259.8,453.0 L260.3,453.3 L260.8,453.6 L261.3,453.8 L261.8,454.1 L262.3,454.3 L262.8,454.5 L263.3,454.8 L263.8,455.0 L264.3,455.2 L264.8,455.4 L265.3,455.6 L265.8,455.8 L266.3,456.0 L266.8,456.2 L267.3,456.3 L267.8,456.5 L268.3,456.7 L268.8,456.8 L269.3,457.0 L269.8,457.1 L270.3,457.2 L270.8,457.4 L271.3,457.5 L271.8,457.6 L272.3,457.7 L272.8,457.8 L273.3,458.0 L273.8,458.1 L274.3,458.2 L274.8,458.3 L275.3,458.3 L275.8,458.4 L276.3,458.5 L276.8,458.6 L277.3,458.7 L277.8,458.7 L278.3,458.8 L278.8,458.9 L279.3,458.9 L279.8,459.0 L280.3,459.1 L280.8,459.1 L281.3,459.2 L281.8,459.2 L282.3,459.3 L282.8,459.3 L283.3,459.4 L283.8,459.4 L284.3,459.4 L284.8,459.5 L285.3,459.5 L285.8,459.6 L286.3,459.6 L286.8,459.6 L287.3,459.6 L287.8,459.7 L288.3,459.7 L288.8,459.7 L289.3,459.8 L289.8,459.8 L290.3,459.8 L290.8,459.8 L291.3,459.8 L291.8,459.9 L292.3,459.9 L292.8,459.9 L293.3,459.9 L293.8,459.9 L294.3,459.9 L294.8,460.0 L295.3,460.0 L295.8,460.0 L296.3,460.0 L296.8,460.0 L297.3,460.0 L297.8,460.0 L298.3,460.0 L298.8,460.0 L299.3,460.1 L299.8,460.1 L300.3,460.1 L300.8,460.1 L301.3,460.1 L301.8,460.1 L302.3,460.1 L302.8,460.1 L303.3,460.1 L303.8,460.1 L304.3,460.1 L304.8,460.1 L305.3,460.1 L305.8,460.1 L306.3,460.1 L306.8,460.1 L307.3,460.1 L307.8,460.1 L308.3,460.1 L308.8,460.1 L309.3,460.2 L309.8,460.2 L310.3,460.2 L310.8,460.2 L311.3,460.2 L311.8,460.2 L312.3,460.2 L312.8,460.2 L313.3,460.2 L313.8,460.2 L314.3,460.2 L314.8,460.2 L315.3,460.2 L315.8,460.2 L316.3,460.2 L316.8,460.2 L317.3,460.2 L317.8,460.2 L318.3,460.2 L318.8,460.2 L319.3,460.2 L319.8,460.2 L320.3,460.2 L320.8,460.2 L321.3,460.2 L321.8,460.2" fill="none" stroke="#3c3c3c" stroke-width="1.3" stroke-linejoin="round" />
<path d="M41.8,451.0 L42.3,451.0 L42.8,451.0 L43.3,451.0 L43.8,451.0 L44.3,451.0 L44.8,451.0 L45.3,451.0 L45.8,451.0 L46.3,451.0 L46.8,451.0 L47.3,451.0 L47.8,451.0 L48.3,451.0 L48.8,451.0 L49.3,451.0 L49.8,451.0 L50.3,451.0 L50.8,451.0 L51.3,451.0 L51.8,451.0 L52.3,451.0 L52.8,451.0 L53.3,451.0 L53.8,451.0 L54.3,451.0 L54.8,451.0 L55.3,451.0 L55.8,451.0 L56.3,451.0 L56.8,451.0 L57.3,451.0 L57.8,451.0 L58.3,451.0 L58.8,451.0 L59.3,451.0 L59.8,451.0 L60.3,451.0 L60.8,451.0 L61.3,451.0 L61.8,451.0 L62.3,451.0 L62.8,451.0 L63.3,451.0 L63.8,451.0 L64.3,451.0 L64.8,451.0 L65.3,451.0 L65.8,451.0 L66.3,451.0 L66.8,451.0 L67.3,451.0 L67.8,451.0 L68.3,451.0 L68.8,451.0 L69.3,451.0 L69.8,451.0 L70.3,451.0 L70.8,451.0 L71.3,451.0 L71.8,450.9 L72.3,450.9 L72.8,450.9 L73.3,450.9 L73.8,450.9 L74.3,450.9 L74.8,450.9 L75.3,450.9 L75.8,450.9 L76.3,450.9 L76.8,450.9 L77.3,450.9 L77.8,450.8 L78.3,450.8 L78.8,450.8 L79.3,450.8 L79.8,450.8 L80.3,450.8 L80.8,450.7 L81.3,450.7 L81.8,450.7 L82.3,450.7 L82.8,450.7 L83.3,450.6 L83.8,450.6 L84.3,450.6 L84.8,450.5 L85.3,450.5 L85.8,450.5 L86.3,450.4 L86.8,450.4 L87.3,450.3 L87.8,450.3 L88.3,450.3 L88.8,450.2 L89.3,450.1 L89.8,450.1 L90.3,450.0 L90.8,450.0 L91.3,449.9 L91.8,449.8 L92.3,449.8 L92.8,449.7 L93.3,449.6 L93.8,449.5 L94.3,449.5 L94.8,449.4 L95.3,449.3 L95.8,449.2 L96.3,449.1 L96.8,449.0 L97.3,448.9 L97.8,448.8 L98.3,448.7 L98.8,448.5 L99.3,448.4 L99.8,448.3 L100.3,448.2 L100.8,448.0 L101.3,447.9 L101.8,447.8 L102.3,447.6 L102.8,447.5 L103.3,447.3 L103.8,447.2 L104.3,447.0 L104.8,446.9 L105.3,446.7 L105.8,446.6 L106.3,446.4 L106.8,446.2 L107.3,446.1 L107.8,445.9 L108.3,445.7 L108.8,445.5 L109.3,445.4 L109.8,445.2 L110.3,445.0 L110.8,444.8 L111.3,444.7 L111.8,444.5 L112.3,444.3 L112.8,444.1 L113.3,444.0 L113.8,443.8 L114.3,443.6 L114.8,443.5 L115.3,443.3 L115.8,443.1 L116.3,443.0 L116.8,442.8 L117.3,442.7 L117.8,442.5 L118.3,442.4 L118.8,442.2 L119.3,442.1 L119.8,442.0 L120.3,441.8 L120.8,441.7 L121.3,441.6 L121.8,441.5 L122.3,441.4 L122.8,441.3 L123.3,441.2 L123.8,441.1 L124.3,441.1 L124.8,441.0 L125.3,441.0 L125.8,440.9 L126.3,440.9 L126.8,440.8 L127.3,440.8 L127.8,440.8 L128.3,440.8 L128.8,440.8 L129.3,440.8 L129.8,440.8 L130.3,440.9 L130.8,440.9 L131.3,440.9 L131.8,441.0 L132.3,441.1 L132.8,441.1 L133.3,441.2 L133.8,441.3 L134.3,441.4 L134.8,441.5 L135.3,441.6 L135.8,441.7 L136.3,441.8 L136.8,441.9 L137.3,442.1 L137.8,442.2 L138.3,442.3 L138.8,442.5 L139.3,442.6 L139.8,442.8 L140.3,442.9 L140.8,443.1 L141.3,443.3 L141.8,443.4 L142.3,443.6 L142.8,443.8 L143.3,444.0 L143.8,444.1 L144.3,444.3 L144.8,444.5 L145.3,444.7 L145.8,444.9 L146.3,445.1 L146.8,445.2 L147.3,445.4 L147.8,445.6 L148.3,445.8 L148.8,446.0 L149.3,446.2 L149.8,446.3 L150.3,446.5 L150.8,446.7 L151.3,446.9 L151.8,447.0 L152.3,447.2 L152.8,447.4 L153.3,447.5 L153.8,447.7 L154.3,447.8 L154.8,448.0 L155.3,448.2 L155.8,448.3 L156.3,448.4 L156.8,448.6 L157.3,448.7 L157.8,448.8 L158.3,449.0 L158.8,449.1 L159.3,449.2 L159.8,449.3 L160.3,449.5 L160.8,449.6 L161.3,449.7 L161.8,449.8 L162.3,449.9 L162.8,450.0 L163.3,450.1 L163.8,450.1 L164.3,450.2 L164.8,450.3 L165.3,450.4 L165.8,450.5 L166.3,450.5 L166.8,450.6 L167.3,450.7 L167.8,450.7 L168.3,450.8 L168.8,450.9 L169.3,450.9 L169.8,451.0 L170.3,451.0 L170.8,451.1 L171.3,451.1 L171.8,451.2 L172.3,451.2 L172.8,451.2 L173.3,451.3 L173.8,451.3 L174.3,451.3 L174.8,451.4 L175.3,451.4 L175.8,451.4 L176.3,451.5 L176.8,451.5 L177.3,451.5 L177.8,451.6 L178.3,451.6 L178.8,451.6 L179.3,451.6 L179.8,451.6 L180.3,451.7 L180.8,451.7 L181.3,451.7 L181.8,451.7 L182.3,451.7 L182.8,451.8 L183.3,451.8 L183.8,451.8 L184.3,451.8 L184.8,451.8 L185.3,451.9 L185.8,451.9 L186.3,451.9 L186.8,451.9 L187.3,451.9 L187.8,451.9 L188.3,452.0 L188.8,452.0 L189.3,452.0 L189.8,452.0 L190.3,452.0 L190.8,452.0 L191.3,452.1 L191.8,452.1 L192.3,452.1 L192.8,452.1 L193.3,452.1 L193.8,452.1 L194.3,452.2 L194.8,452.2 L195.3,452.2 L195.8,452.2 L196.3,452.2 L196.8,452.3 L197.3,452.3 L197.8,452.3 L198.3,452.3 L198.8,452.3 L199.3,452.4 L199.8,452.4 L200.3,452.4 L200.8,452.4 L201.3,452.4 L201.8,452.5 L202.3,452.5 L202.8,452.5 L203.3,452.5 L203.8,452.6 L204.3,452.6 L204.8,452.6 L205.3,452.6 L205.8,452.6 L206.3,452.7 L206.8,452.7 L207.3,452.7 L207.8,452.7 L208.3,452.8 L208.8,452.8 L209.3,452.8 L209.8,452.8 L210.3,452.9 L210.8,452.9 L211.3,452.9 L211.8,452.9 L212.3,453.0 L212.8,453.0 L213.3,453.0 L213.8,453.0 L214.3,453.1 L214.8,453.1 L215.3,453.1 L215.8,453.1 L216.3,453.2 L216.8,453.2 L217.3,453.2 L217.8,453.2 L218.3,453.3 L218.8,453.3 L219.3,453.3 L219.8,453.4 L220.3,453.4 L220.8,453.4 L221.3,453.5 L221.8,453.5 L222.3,453.5 L222.8,453.6 L223.3,453.6 L223.8,453.6 L224.3,453.7 L224.8,453.7 L225.3,453.7 L225.8,453.8 L226.3,453.8 L226.8,453.9 L227.3,453.9 L227.8,454.0 L228.3,454.0 L228.8,454.1 L229.3,454.1 L229.8,454.2 L230.3,454.2 L230.8,454.3 L231.3,454.3 L231.8,454.4 L232.3,454.5 L232.8,454.5 L233.3,454.6 L233.8,454.7 L234.3,454.7 L234.8,454.8 L235.3,454.9 L235.8,455.0 L236.3,455.0 L236.8,455.1 L237.3,455.2 L237.8,455.3 L238.3,455.4 L238.8,455.5 L239.3,455.6 L239.8,455.7 L240.3,455.8 L240.8,455.9 L241.3,456.0 L241.8,456.1 L242.3,456.2 L242.8,456.3 L243.3,456.4 L243.8,456.5 L244.3,456.6 L244.8,456.7 L245.3,456.8 L245.8,456.9 L246.3,457.0 L246.8,457.1 L247.3,457.2 L247.8,457.3 L248.3,457.4 L248.8,457.5 L249.3,457.6 L249.8,457.7 L250.3,457.8 L250.8,457.9 L251.3,458.0 L251.8,458.1 L252.3,458.1 L252.8,458.2 L253.3,458.3 L253.8,458.4 L254.3,458.5 L254.8,458.5 L255.3,458.6 L255.8,458.7 L256.3,458.8 L256.8,458.8 L257.3,458.9 L257.8,459.0 L258.3,459.0 L258.8,459.1 L259.3,459.1 L259.8,459.2 L260.3,459.2 L260.8,459.3 L261.3,459.3 L261.8,459.4 L262.3,459.4 L262.8,459.5 L263.3,459.5 L263.8,459.5 L264.3,459.6 L264.8,459.6 L265.3,459.6 L265.8,459.7 L266.3,459.7 L266.8,459.7 L267.3,459.7 L267.8,459.8 L268.3,459.8 L268.8,459.8 L269.3,459.8 L269.8,459.8 L270.3,459.9 L270.8,459.9 L271.3,459.9 L271.8,459.9 L272.3,459.9 L272.8,459.9 L273.3,459.9 L273.8,460.0 L274.3,460.0 L274.8,460.0 L275.3,460.0 L275.8,460.0 L276.3,460.0 L276.8,460.0 L277.3,460.0 L277.8,460.0 L278.3,460.0 L278.8,460.0 L279.3,460.0 L279.8,460.0 L280.3,460.1 L280.8,460.1 L281.3,460.1 L281.8,460.1 L282.3,460.1 L282.8,460.1 L283.3,460.1 L283.8,460.1 L284.3,460.1 L284.8,460.1 L285.3,460.1 L285.8,460.1 L286.3,460.1 L286.8,460.1 L287.3,460.1 L287.8,460.1 L288.3,460.1 L288.8,460.1 L289.3,460.1 L289.8,460.1 L290.3,460.1 L290.8,460.1 L291.3,460.1 L291.8,460.1 L292.3,460.1 L292.8,460.1 L293.3,460.1 L293.8,460.1 L294.3,460.1 L294.8,460.1 L295.3,460.1 L295.8,460.1 L296.3,460.1 L296.8,460.1 L297.3,460.1 L297.8,460.1 L298.3,460.1 L298.8,460.2 L299.3,460.2 L299.8,460.2 L300.3,460.2 L300.8,460.2 L301.3,460.2 L301.8,460.2 L302.3,460.2 L302.8,460.2 L303.3,460.2 L303.8,460.2 L304.3,460.2 L304.8,460.2 L305.3,460.2 L305.8,460.2 L306.3,460.2 L306.8,460.2 L307.3,460.2 L307.8,460.2 L308.3,460.2 L308.8,460.2 L309.3,460.2 L309.8,460.2 L310.3,460.2 L310.8,460.2 L311.3,460.2 L311.8,460.2 L312.3,460.2 L312.8,460.2 L313.3,460.2 L313.8,460.2 L314.3,460.2 L314.8,460.2 L315.3,460.2 L315.8,460.2 L316.3,460.2 L316.8,460.2 L317.3,460.2 L317.8,460.2 L318.3,460.2 L318.8,460.2 L319.3,460.2 L319.8,460.2 L320.3,460.2 L320.8,460.2 L321.3,460.2 L321.8,460.2" fill="none" stroke="#3c3c3c" stroke-width="1.3" stroke-linejoin="round" />
<path d="M41.8,450.4 L42.3,450.3 L42.8,450.3 L43.3,450.3 L43.8,450.3 L44.3,450.3 L44.8,450.3 L45.3,450.3 L45.8,450.3 L46.3,450.3 L46.8,450.3 L47.3,450.3 L47.8,450.3 L48.3,450.3 L48.8,450.3 L49.3,450.3 L49.8,450.2 L50.3,450.2 L50.8,450.2 L51.3,450.2 L51.8,450.2 L52.3,450.2 L52.8,450.2 L53.3,450.2 L53.8,450.2 L54.3,450.2 L54.8,450.2 L55.3,450.2 L55.8,450.2 L56.3,450.2 L56.8,450.1 L57.3,450.1 L57.8,450.1 L58.3,450.1 L58.8,450.1 L59.3,450.1 L59.8,450.1 L60.3,450.1 L60.8,450.1 L61.3,450.1 L61.8,450.1 L62.3,450.1 L62.8,450.1 L63.3,450.1 L63.8,450.0 L64.3,450.0 L64.8,450.0 L65.3,450.0 L65.8,450.0 L66.3,450.0 L66.8,450.0 L67.3,450.0 L67.8,450.0 L68.3,450.0 L68.8,450.0 L69.3,449.9 L69.8,449.9 L70.3,449.9 L70.8,449.9 L71.3,449.9 L71.8,449.9 L72.3,449.9 L72.8,449.9 L73.3,449.8 L73.8,449.8 L74.3,449.8 L74.8,449.8 L75.3,449.8 L75.8,449.8 L76.3,449.8 L76.8,449.7 L77.3,449.7 L77.8,449.7 L78.3,449.7 L78.8,449.7 L79.3,449.6 L79.8,449.6 L80.3,449.6 L80.8,449.6 L81.3,449.5 L81.8,449.5 L82.3,449.5 L82.8,449.4 L83.3,449.4 L83.8,449.4 L84.3,449.3 L84.8,449.3 L85.3,449.2 L85.8,449.2 L86.3,449.2 L86.8,449.1 L87.3,449.1 L87.8,449.0 L88.3,448.9 L88.8,448.9 L89.3,448.8 L89.8,448.8 L90.3,448.7 L90.8,448.6 L91.3,448.6 L91.8,448.5 L92.3,448.4 L92.8,448.3 L93.3,448.2 L93.8,448.2 L94.3,448.1 L94.8,448.0 L95.3,447.9 L95.8,447.8 L96.3,447.7 L96.8,447.5 L97.3,447.4 L97.8,447.3 L98.3,447.2 L98.8,447.1 L99.3,446.9 L99.8,446.8 L100.3,446.7 L100.8,446.5 L101.3,446.4 L101.8,446.3 L102.3,446.1 L102.8,446.0 L103.3,445.8 L103.8,445.7 L104.3,445.5 L104.8,445.3 L105.3,445.2 L105.8,445.0 L106.3,444.8 L106.8,444.7 L107.3,444.5 L107.8,444.3 L108.3,444.2 L108.8,444.0 L109.3,443.8 L109.8,443.6 L110.3,443.4 L110.8,443.3 L111.3,443.1 L111.8,442.9 L112.3,442.7 L112.8,442.5 L113.3,442.4 L113.8,442.2 L114.3,442.0 L114.8,441.8 L115.3,441.7 L115.8,441.5 L116.3,441.3 L116.8,441.2 L117.3,441.0 L117.8,440.8 L118.3,440.7 L118.8,440.5 L119.3,440.4 L119.8,440.3 L120.3,440.1 L120.8,440.0 L121.3,439.9 L121.8,439.8 L122.3,439.7 L122.8,439.6 L123.3,439.5 L123.8,439.4 L124.3,439.3 L124.8,439.3 L125.3,439.2 L125.8,439.1 L126.3,439.1 L126.8,439.1 L127.3,439.0 L127.8,439.0 L128.3,439.0 L128.8,439.0 L129.3,439.0 L129.8,439.0 L130.3,439.0 L130.8,439.0 L131.3,439.1 L131.8,439.1 L132.3,439.1 L132.8,439.2 L133.3,439.3 L133.8,439.3 L134.3,439.4 L134.8,439.5 L135.3,439.6 L135.8,439.7 L136.3,439.8 L136.8,439.9 L137.3,440.0 L137.8,440.1 L138.3,440.2 L138.8,440.4 L139.3,440.5 L139.8,440.6 L140.3,440.8 L140.8,440.9 L141.3,441.0 L141.8,441.2 L142.3,441.3 L142.8,441.5 L143.3,441.6 L143.8,441.8 L144.3,441.9 L144.8,442.1 L145.3,442.2 L145.8,442.4 L146.3,442.5 L146.8,442.7 L147.3,442.8 L147.8,442.9 L148.3,443.1 L148.8,443.2 L149.3,443.3 L149.8,443.4 L150.3,443.6 L150.8,443.7 L151.3,443.8 L151.8,443.9 L152.3,444.0 L152.8,444.1 L153.3,444.1 L153.8,444.2 L154.3,444.3 L154.8,444.4 L155.3,444.4 L155.8,444.5 L156.3,444.5 L156.8,444.5 L157.3,444.6 L157.8,444.6 L158.3,444.6 L158.8,444.6 L159.3,444.6 L159.8,444.6 L160.3,444.5 L160.8,444.5 L161.3,444.5 L161.8,444.4 L162.3,444.3 L162.8,444.3 L163.3,444.2 L163.8,444.1 L164.3,444.0 L164.8,443.9 L165.3,443.8 L165.8,443.6 L166.3,443.5 L166.8,443.3 L167.3,443.2 L167.8,443.0 L168.3,442.8 L168.8,442.6 L169.3,442.4 L169.8,442.2 L170.3,442.0 L170.8,441.8 L171.3,441.5 L171.8,441.3 L172.3,441.0 L172.8,440.7 L173.3,440.4 L173.8,440.1 L174.3,439.8 L174.8,439.5 L175.3,439.2 L175.8,438.9 L176.3,438.5 L176.8,438.2 L177.3,437.8 L177.8,437.4 L178.3,437.1 L178.8,436.7 L179.3,436.3 L179.8,435.9 L180.3,435.5 L180.8,435.0 L181.3,434.6 L181.8,434.2 L182.3,433.7 L182.8,433.3 L183.3,432.8 L183.8,432.4 L184.3,431.9 L184.8,431.4 L185.3,431.0 L185.8,430.5 L186.3,430.0 L186.8,429.5 L187.3,429.0 L187.8,428.5 L188.3,428.0 L188.8,427.5 L189.3,427.0 L189.8,426.6 L190.3,426.1 L190.8,425.6 L191.3,425.1 L191.8,424.6 L192.3,424.1 L192.8,423.6 L193.3,423.1 L193.8,422.6 L194.3,422.1 L194.8,421.6 L195.3,421.2 L195.8,420.7 L196.3,420.2 L196.8,419.8 L197.3,419.3 L197.8,418.9 L198.3,418.4 L198.8,418.0 L199.3,417.6 L199.8,417.2 L200.3,416.7 L200.8,416.3 L201.3,415.9 L201.8,415.6 L202.3,415.2 L202.8,414.8 L203.3,414.5 L203.8,414.1 L204.3,413.8 L204.8,413.4 L205.3,413.1 L205.8,412.8 L206.3,412.5 L206.8,412.2 L207.3,411.9 L207.8,411.6 L208.3,411.3 L208.8,411.0 L209.3,410.7 L209.8,410.4 L210.3,410.2 L210.8,409.9 L211.3,409.6 L211.8,409.3 L212.3,409.0 L212.8,408.6 L213.3,408.3 L213.8,407.9 L214.3,407.5 L214.8,407.1 L215.3,406.6 L215.8,406.1 L216.3,405.5 L216.7,405.0 L217.2,404.3 L217.7,403.6 L218.2,402.9 L218.7,402.0 L219.2,401.2 L219.7,400.2 L220.1,399.2 L220.6,398.0 L221.1,396.8 L221.6,395.5 L222.1,394.1 L222.6,392.6 L223.1,391.0 L223.5,389.3 L224.0,387.4 L224.5,385.5 L225.0,383.4 L225.5,381.2 L226.0,378.9 L226.4,376.5 L226.9,373.9 L227.4,371.2 L227.9,368.4 L228.4,365.5 L228.9,362.5 L229.4,359.3 L229.8,356.1 L230.3,352.8 L230.8,349.4 L231.3,345.9 L231.8,342.3 L232.3,338.7 L232.8,335.0 L233.2,331.3 L233.7,327.6 L234.2,323.9 L234.7,320.2 L235.2,316.5 L235.7,312.8 L236.3,309.3 L236.8,305.8 L237.3,302.4 L237.8,299.2 L238.3,296.1 L238.8,293.1 L239.4,290.4 L239.9,287.9 L240.4,285.6 L240.9,283.6 L241.4,281.9 L241.9,280.4 L242.5,279.3 L243.0,278.5 L243.5,278.0 L244.0,277.9 L244.6,278.2 L245.1,278.8 L245.7,279.7 L246.2,280.9 L246.8,282.4 L247.3,284.1 L247.9,286.1 L248.4,288.4 L249.0,290.9 L249.5,293.6 L250.1,296.5 L250.6,299.6 L251.1,302.8 L251.7,306.2 L252.2,309.7 L252.7,313.4 L253.3,317.2 L253.8,321.0 L254.3,325.0 L254.9,329.0 L255.4,333.1 L255.9,337.2 L256.4,341.3 L257.0,345.5 L257.5,349.6 L258.0,353.7 L258.6,357.8 L259.1,361.9 L259.6,365.9 L260.1,369.8 L260.7,373.7 L261.2,377.6 L261.7,381.3 L262.3,384.9 L262.8,388.5 L263.3,392.0 L263.8,395.3 L264.3,398.6 L264.8,401.7 L265.3,404.8 L265.8,407.7 L266.3,410.5 L266.8,413.3 L267.4,415.9 L267.9,418.3 L268.4,420.7 L268.9,423.0 L269.4,425.1 L269.9,427.2 L270.4,429.1 L270.9,431.0 L271.4,432.7 L271.9,434.4 L272.4,435.9 L272.9,437.4 L273.4,438.8 L273.9,440.0 L274.4,441.3 L275.0,442.4 L275.5,443.5 L276.0,444.4 L276.5,445.4 L277.0,446.2 L277.5,447.1 L278.0,447.8 L278.5,448.5 L279.0,449.2 L279.5,449.8 L280.0,450.3 L280.5,450.9 L281.0,451.4 L281.5,451.8 L282.0,452.2 L282.6,452.6 L283.1,453.0 L283.6,453.3 L284.1,453.6 L284.6,453.9 L285.1,454.2 L285.6,454.4 L286.1,454.7 L286.6,454.9 L287.0,455.1 L287.5,455.3 L287.9,455.4 L288.4,455.6 L288.9,455.8 L289.3,455.9 L289.8,456.0 L290.2,456.2 L290.7,456.3 L291.1,456.4 L291.6,456.5 L292.1,456.6 L292.5,456.7 L293.0,456.8 L293.4,456.9 L293.9,456.9 L294.3,457.0 L294.8,457.1 L295.3,457.2 L295.7,457.2 L296.2,457.3 L296.6,457.3 L297.1,457.4 L297.5,457.5 L298.0,457.5 L298.4,457.6 L298.9,457.6 L299.4,457.7 L299.8,457.7 L300.3,457.8 L300.8,457.8 L301.3,457.8 L301.8,457.9 L302.3,457.9 L302.8,458.0 L303.3,458.0 L303.8,458.1 L304.3,458.1 L304.8,458.1 L305.3,458.2 L305.8,458.2 L306.3,458.2 L306.8,458.3 L307.3,458.3 L307.8,458.3 L308.3,458.4 L308.8,458.4 L309.3,458.4 L309.8,458.4 L310.3,458.5 L310.8,458.5 L311.3,458.5 L311.8,458.6 L312.3,458.6 L312.8,458.6 L313.3,458.6 L313.8,458.6 L314.3,458.7 L314.8,458.7 L315.3,458.7 L315.8,458.7 L316.3,458.8 L316.8,458.8 L317.3,458.8 L317.8,458.8 L318.3,458.8 L318.8,458.9 L319.3,458.9 L319.8,458.9 L320.3,458.9 L320.8,458.9 L321.3,458.9 L321.8,459.0" fill="none" stroke="#b83a55" stroke-width="1.0" stroke-linejoin="round" />
<path d="M41.8,450.9 L42.3,450.9 L42.8,450.9 L43.3,450.9 L43.8,450.9 L44.3,450.9 L44.8,450.8 L45.3,450.8 L45.8,450.8 L46.3,450.8 L46.8,450.8 L47.3,450.8 L47.8,450.8 L48.3,450.8 L48.8,450.8 L49.3,450.8 L49.8,450.8 L50.3,450.8 L50.8,450.8 L51.3,450.8 L51.8,450.8 L52.3,450.8 L52.8,450.8 L53.3,450.8 L53.8,450.8 L54.3,450.8 L54.8,450.8 L55.3,450.8 L55.8,450.8 L56.3,450.8 L56.8,450.8 L57.3,450.8 L57.8,450.8 L58.3,450.8 L58.8,450.8 L59.3,450.8 L59.8,450.8 L60.3,450.8 L60.8,450.8 L61.3,450.8 L61.8,450.8 L62.3,450.8 L62.8,450.8 L63.3,450.8 L63.8,450.8 L64.3,450.8 L64.8,450.8 L65.3,450.8 L65.8,450.8 L66.3,450.8 L66.8,450.8 L67.3,450.8 L67.8,450.8 L68.3,450.8 L68.8,450.8 L69.3,450.8 L69.8,450.8 L70.3,450.8 L70.8,450.8 L71.3,450.8 L71.8,450.7 L72.3,450.7 L72.8,450.7 L73.3,450.7 L73.8,450.7 L74.3,450.7 L74.8,450.7 L75.3,450.7 L75.8,450.7 L76.3,450.7 L76.8,450.7 L77.3,450.6 L77.8,450.6 L78.3,450.6 L78.8,450.6 L79.3,450.6 L79.8,450.6 L80.3,450.5 L80.8,450.5 L81.3,450.5 L81.8,450.5 L82.3,450.5 L82.8,450.4 L83.3,450.4 L83.8,450.4 L84.3,450.3 L84.8,450.3 L85.3,450.3 L85.8,450.2 L86.3,450.2 L86.8,450.1 L87.3,450.1 L87.8,450.1 L88.3,450.0 L88.8,450.0 L89.3,449.9 L89.8,449.8 L90.3,449.8 L90.8,449.7 L91.3,449.7 L91.8,449.6 L92.3,449.5 L92.8,449.4 L93.3,449.4 L93.8,449.3 L94.3,449.2 L94.8,449.1 L95.3,449.0 L95.8,448.9 L96.3,448.8 L96.8,448.7 L97.3,448.6 L97.8,448.5 L98.3,448.4 L98.8,448.3 L99.3,448.1 L99.8,448.0 L100.3,447.9 L100.8,447.8 L101.3,447.6 L101.8,447.5 L102.3,447.3 L102.8,447.2 L103.3,447.0 L103.8,446.9 L104.3,446.7 L104.8,446.6 L105.3,446.4 L105.8,446.2 L106.3,446.1 L106.8,445.9 L107.3,445.7 L107.8,445.6 L108.3,445.4 L108.8,445.2 L109.3,445.0 L109.8,444.9 L110.3,444.7 L110.8,444.5 L111.3,444.3 L111.8,444.1 L112.3,444.0 L112.8,443.8 L113.3,443.6 L113.8,443.4 L114.3,443.3 L114.8,443.1 L115.3,442.9 L115.8,442.8 L116.3,442.6 L116.8,442.4 L117.3,442.3 L117.8,442.1 L118.3,442.0 L118.8,441.8 L119.3,441.7 L119.8,441.6 L120.3,441.4 L120.8,441.3 L121.3,441.2 L121.8,441.1 L122.3,441.0 L122.8,440.9 L123.3,440.8 L123.8,440.7 L124.3,440.6 L124.8,440.6 L125.3,440.5 L125.8,440.5 L126.3,440.4 L126.8,440.4 L127.3,440.4 L127.8,440.3 L128.3,440.3 L128.8,440.3 L129.3,440.3 L129.8,440.3 L130.3,440.4 L130.8,440.4 L131.3,440.4 L131.8,440.5 L132.3,440.5 L132.8,440.6 L133.3,440.6 L133.8,440.7 L134.3,440.8 L134.8,440.9 L135.3,441.0 L135.8,441.1 L136.3,441.2 L136.8,441.3 L137.3,441.4 L137.8,441.5 L138.3,441.6 L138.8,441.8 L139.3,441.9 L139.8,442.0 L140.3,442.2 L140.8,442.3 L141.3,442.5 L141.8,442.6 L142.3,442.8 L142.8,442.9 L143.3,443.0 L143.8,443.2 L144.3,443.3 L144.8,443.5 L145.3,443.6 L145.8,443.8 L146.3,443.9 L146.8,444.1 L147.3,444.2 L147.8,444.4 L148.3,444.5 L148.8,444.6 L149.3,444.8 L149.8,444.9 L150.3,445.0 L150.8,445.1 L151.3,445.2 L151.8,445.3 L152.3,445.4 L152.8,445.5 L153.3,445.6 L153.8,445.7 L154.3,445.8 L154.8,445.8 L155.3,445.9 L155.8,445.9 L156.3,446.0 L156.8,446.0 L157.3,446.1 L157.8,446.1 L158.3,446.1 L158.8,446.1 L159.3,446.1 L159.8,446.1 L160.3,446.0 L160.8,446.0 L161.3,446.0 L161.8,445.9 L162.3,445.8 L162.8,445.8 L163.3,445.7 L163.8,445.6 L164.3,445.5 L164.8,445.4 L165.3,445.2 L165.8,445.1 L166.3,445.0 L166.8,444.8 L167.3,444.7 L167.8,444.5 L168.3,444.3 L168.8,444.1 L169.3,443.9 L169.8,443.7 L170.3,443.4 L170.8,443.2 L171.3,443.0 L171.8,442.7 L172.3,442.4 L172.8,442.2 L173.3,441.9 L173.8,441.6 L174.3,441.3 L174.8,440.9 L175.3,440.6 L175.8,440.3 L176.3,439.9 L176.8,439.6 L177.3,439.2 L177.8,438.8 L178.3,438.5 L178.8,438.1 L179.3,437.7 L179.8,437.3 L180.3,436.8 L180.8,436.4 L181.3,436.0 L181.8,435.6 L182.3,435.1 L182.8,434.7 L183.3,434.2 L183.8,433.8 L184.3,433.3 L184.8,432.8 L185.3,432.3 L185.8,431.9 L186.3,431.4 L186.8,430.9 L187.3,430.4 L187.8,429.9 L188.3,429.4 L188.8,428.9 L189.3,428.4 L189.8,427.9 L190.3,427.4 L190.8,426.9 L191.3,426.4 L191.8,425.9 L192.3,425.4 L192.8,424.9 L193.3,424.4 L193.8,423.9 L194.3,423.4 L194.8,423.0 L195.3,422.5 L195.8,422.0 L196.3,421.5 L196.8,421.1 L197.3,420.6 L197.8,420.2 L198.3,419.7 L198.8,419.3 L199.3,418.9 L199.8,418.5 L200.3,418.0 L200.8,417.6 L201.3,417.3 L201.8,416.9 L202.3,416.5 L202.8,416.1 L203.3,415.8 L203.8,415.4 L204.3,415.1 L204.8,414.8 L205.3,414.4 L205.8,414.1 L206.3,413.8 L206.8,413.5 L207.3,413.2 L207.8,412.9 L208.3,412.7 L208.8,412.4 L209.3,412.1 L209.8,411.8 L210.3,411.5 L210.8,411.2 L211.3,410.9 L211.8,410.6 L212.3,410.3 L212.8,410.0 L213.3,409.7 L213.8,409.3 L214.3,408.9 L214.8,408.5 L215.3,408.0 L215.8,407.5 L216.3,407.0 L216.8,406.4 L217.3,405.7 L217.8,405.0 L218.3,404.3 L218.8,403.5 L219.3,402.6 L219.8,401.6 L220.3,400.6 L220.8,399.5 L221.3,398.3 L221.8,397.0 L222.3,395.6 L222.8,394.1 L223.3,392.4 L223.8,390.7 L224.3,388.9 L224.8,386.9 L225.3,384.9 L225.8,382.7 L226.3,380.4 L226.8,377.9 L227.3,375.4 L227.8,372.7 L228.3,369.9 L228.8,367.0 L229.3,364.0 L229.8,360.8 L230.3,357.6 L230.8,354.2 L231.3,350.8 L231.8,347.3 L232.3,343.7 L232.8,340.1 L233.3,336.4 L233.8,332.7 L234.3,328.9 L234.8,325.2 L235.3,321.5 L235.8,317.8 L236.3,314.1 L236.8,310.5 L237.3,307.0 L237.8,303.6 L238.3,300.4 L238.8,297.3 L239.3,294.3 L239.8,291.6 L240.3,289.0 L240.8,286.7 L241.3,284.7 L241.8,282.9 L242.3,281.5 L242.8,280.3 L243.3,279.5 L243.8,279.0 L244.3,278.9 L244.8,279.1 L245.3,279.6 L245.8,280.4 L246.3,281.5 L246.8,282.9 L247.3,284.6 L247.8,286.5 L248.3,288.7 L248.8,291.1 L249.3,293.7 L249.8,296.6 L250.3,299.6 L250.8,302.8 L251.3,306.2 L251.8,309.7 L252.3,313.4 L252.8,317.1 L253.3,321.0 L253.8,324.9 L254.3,329.0 L254.8,333.0 L255.3,337.1 L255.8,341.2 L256.3,345.4 L256.8,349.5 L257.3,353.6 L257.8,357.7 L258.3,361.8 L258.8,365.8 L259.3,369.7 L259.8,373.6 L260.3,377.4 L260.8,381.1 L261.3,384.8 L261.8,388.3 L262.3,391.8 L262.8,395.1 L263.3,398.4 L263.8,401.5 L264.3,404.6 L264.8,407.5 L265.3,410.3 L265.8,413.0 L266.3,415.6 L266.8,418.1 L267.3,420.5 L267.8,422.7 L268.3,424.9 L268.8,426.9 L269.3,428.9 L269.8,430.7 L270.3,432.4 L270.8,434.1 L271.3,435.6 L271.8,437.1 L272.3,438.5 L272.8,439.8 L273.3,441.0 L273.8,442.1 L274.3,443.2 L274.8,444.2 L275.3,445.1 L275.8,446.0 L276.3,446.8 L276.8,447.6 L277.3,448.3 L277.8,448.9 L278.3,449.6 L278.8,450.1 L279.3,450.7 L279.8,451.1 L280.3,451.6 L280.8,452.0 L281.3,452.4 L281.8,452.8 L282.3,453.1 L282.8,453.5 L283.3,453.7 L283.8,454.0 L284.3,454.3 L284.8,454.5 L285.3,454.7 L285.8,454.9 L286.3,455.1 L286.8,455.3 L287.3,455.5 L287.8,455.6 L288.3,455.8 L288.8,455.9 L289.3,456.1 L289.8,456.2 L290.3,456.3 L290.8,456.4 L291.3,456.5 L291.8,456.6 L292.3,456.7 L292.8,456.8 L293.3,456.9 L293.8,457.0 L294.3,457.0 L294.8,457.1 L295.3,457.2 L295.8,457.2 L296.3,457.3 L296.8,457.4 L297.3,457.4 L297.8,457.5 L298.3,457.5 L298.8,457.6 L299.3,457.7 L299.8,457.7 L300.3,457.8 L300.8,457.8 L301.3,457.8 L301.8,457.9 L302.3,457.9 L302.8,458.0 L303.3,458.0 L303.8,458.1 L304.3,458.1 L304.8,458.1 L305.3,458.2 L305.8,458.2 L306.3,458.2 L306.8,458.3 L307.3,458.3 L307.8,458.3 L308.3,458.4 L308.8,458.4 L309.3,458.4 L309.8,458.4 L310.3,458.5 L310.8,458.5 L311.3,458.5 L311.8,458.6 L312.3,458.6 L312.8,458.6 L313.3,458.6 L313.8,458.6 L314.3,458.7 L314.8,458.7 L315.3,458.7 L315.8,458.7 L316.3,458.8 L316.8,458.8 L317.3,458.8 L317.8,458.8 L318.3,458.8 L318.8,458.9 L319.3,458.9 L319.8,458.9 L320.3,458.9 L320.8,458.9 L321.3,458.9 L321.8,459.0" fill="none" stroke="#222" stroke-width="1.3" stroke-linejoin="round" />
<path d="M388.4,451.1 L388.9,451.1 L389.4,451.1 L389.9,451.1 L390.4,451.1 L390.9,451.1 L391.4,451.1 L391.9,451.1 L392.4,451.1 L392.9,451.1 L393.4,451.1 L393.9,451.1 L394.4,451.1 L394.9,451.1 L395.4,451.1 L395.9,451.1 L396.4,451.1 L396.9,451.1 L397.4,451.1 L397.9,451.1 L398.4,451.1 L398.9,451.1 L399.4,451.1 L399.9,451.1 L400.4,451.1 L400.9,451.1 L401.4,451.1 L401.9,451.1 L402.4,451.1 L402.9,451.1 L403.4,451.1 L403.9,451.1 L404.4,451.1 L404.9,451.1 L405.4,451.1 L405.9,451.1 L406.4,451.1 L406.9,451.1 L407.4,451.1 L407.9,451.1 L408.4,451.1 L408.9,451.1 L409.4,451.1 L409.9,451.1 L410.4,451.1 L410.9,451.1 L411.4,451.1 L411.9,451.1 L412.4,451.1 L412.9,451.1 L413.4,451.1 L413.9,451.1 L414.4,451.1 L414.9,451.1 L415.4,451.1 L415.9,451.1 L416.4,451.1 L416.9,451.1 L417.4,451.1 L417.9,451.1 L418.4,451.1 L418.9,451.1 L419.4,451.1 L419.9,451.1 L420.4,451.1 L420.9,451.1 L421.4,451.1 L421.9,451.1 L422.4,451.1 L422.9,451.1 L423.4,451.1 L423.9,451.1 L424.4,451.1 L424.9,451.1 L425.4,451.1 L425.9,451.1 L426.4,451.1 L426.9,451.1 L427.4,451.1 L427.9,451.1 L428.4,451.1 L428.9,451.1 L429.4,451.1 L429.9,451.1 L430.4,451.1 L430.9,451.1 L431.4,451.1 L431.9,451.1 L432.4,451.1 L432.9,451.1 L433.4,451.1 L433.9,451.1 L434.4,451.1 L434.9,451.1 L435.4,451.1 L435.9,451.1 L436.4,451.1 L436.9,451.1 L437.4,451.1 L437.9,451.1 L438.4,451.1 L438.9,451.1 L439.4,451.1 L439.9,451.1 L440.4,451.1 L440.9,451.1 L441.4,451.1 L441.9,451.1 L442.4,451.2 L442.9,451.2 L443.4,451.2 L443.9,451.2 L444.4,451.2 L444.9,451.2 L445.4,451.2 L445.9,451.2 L446.4,451.2 L446.9,451.2 L447.4,451.2 L447.9,451.2 L448.4,451.2 L448.9,451.2 L449.4,451.2 L449.9,451.2 L450.4,451.2 L450.9,451.2 L451.4,451.2 L451.9,451.2 L452.4,451.2 L452.9,451.2 L453.4,451.2 L453.9,451.2 L454.4,451.3 L454.9,451.3 L455.4,451.3 L455.9,451.3 L456.4,451.3 L456.9,451.3 L457.4,451.3 L457.9,451.3 L458.4,451.3 L458.9,451.3 L459.4,451.3 L459.9,451.3 L460.4,451.3 L460.9,451.3 L461.4,451.4 L461.9,451.4 L462.4,451.4 L462.9,451.4 L463.4,451.4 L463.9,451.4 L464.4,451.4 L464.9,451.4 L465.4,451.4 L465.9,451.4 L466.4,451.4 L466.9,451.4 L467.4,451.5 L467.9,451.5 L468.4,451.5 L468.9,451.5 L469.4,451.5 L469.9,451.5 L470.4,451.5 L470.9,451.5 L471.4,451.5 L471.9,451.5 L472.4,451.5 L472.9,451.5 L473.4,451.5 L473.9,451.6 L474.4,451.6 L474.9,451.6 L475.4,451.6 L475.9,451.6 L476.4,451.6 L476.9,451.6 L477.4,451.6 L477.9,451.6 L478.4,451.6 L478.9,451.6 L479.4,451.6 L479.9,451.6 L480.4,451.7 L480.9,451.7 L481.4,451.7 L481.9,451.7 L482.4,451.7 L482.9,451.7 L483.4,451.7 L483.9,451.7 L484.4,451.7 L484.9,451.7 L485.4,451.7 L485.9,451.7 L486.4,451.7 L486.9,451.8 L487.4,451.8 L487.9,451.8 L488.4,451.8 L488.9,451.8 L489.4,451.8 L489.9,451.8 L490.4,451.8 L490.9,451.8 L491.4,451.8 L491.9,451.9 L492.4,451.9 L492.9,451.9 L493.4,451.9 L493.9,451.9 L494.4,451.9 L494.9,451.9 L495.4,451.9 L495.9,452.0 L496.4,452.0 L496.9,452.0 L497.4,452.0 L497.9,452.0 L498.4,452.0 L498.9,452.0 L499.4,452.1 L499.9,452.1 L500.4,452.1 L500.9,452.1 L501.4,452.1 L501.9,452.2 L502.4,452.2 L502.9,452.2 L503.4,452.2 L503.9,452.3 L504.4,452.3 L504.9,452.3 L505.4,452.3 L505.9,452.3 L506.4,452.4 L506.9,452.4 L507.4,452.4 L507.9,452.5 L508.4,452.5 L508.9,452.5 L509.4,452.5 L509.9,452.6 L510.4,452.6 L510.9,452.6 L511.4,452.7 L511.9,452.7 L512.4,452.7 L512.9,452.7 L513.4,452.8 L513.9,452.8 L514.4,452.8 L514.9,452.9 L515.4,452.9 L515.9,452.9 L516.4,453.0 L516.9,453.0 L517.4,453.0 L517.9,453.1 L518.4,453.1 L518.9,453.1 L519.4,453.2 L519.9,453.2 L520.4,453.2 L520.9,453.3 L521.4,453.3 L521.9,453.3 L522.4,453.3 L522.9,453.4 L523.4,453.4 L523.9,453.4 L524.4,453.5 L524.9,453.5 L525.4,453.5 L525.9,453.5 L526.4,453.6 L526.9,453.6 L527.4,453.6 L527.9,453.7 L528.4,453.7 L528.9,453.7 L529.4,453.7 L529.9,453.8 L530.4,453.8 L530.9,453.8 L531.4,453.8 L531.9,453.8 L532.4,453.9 L532.9,453.9 L533.4,453.9 L533.9,453.9 L534.4,454.0 L534.9,454.0 L535.4,454.0 L535.9,454.0 L536.4,454.0 L536.9,454.0 L537.4,454.1 L537.9,454.1 L538.4,454.1 L538.9,454.1 L539.4,454.1 L539.9,454.1 L540.4,454.2 L540.9,454.2 L541.4,454.2 L541.9,454.2 L542.4,454.2 L542.9,454.2 L543.4,454.3 L543.9,454.3 L544.4,454.3 L544.9,454.3 L545.4,454.3 L545.9,454.3 L546.4,454.3 L546.9,454.4 L547.4,454.4 L547.9,454.4 L548.4,454.4 L548.9,454.4 L549.4,454.4 L549.9,454.5 L550.4,454.5 L550.9,454.5 L551.4,454.5 L551.9,454.5 L552.4,454.6 L552.9,454.6 L553.4,454.6 L553.9,454.6 L554.4,454.6 L554.9,454.7 L555.4,454.7 L555.9,454.7 L556.4,454.7 L556.9,454.7 L557.4,454.8 L557.9,454.8 L558.4,454.8 L558.9,454.9 L559.4,454.9 L559.9,454.9 L560.4,454.9 L560.9,455.0 L561.4,455.0 L561.9,455.0 L562.4,455.1 L562.9,455.1 L563.4,455.1 L563.9,455.2 L564.4,455.2 L564.9,455.2 L565.4,455.3 L565.9,455.3 L566.4,455.3 L566.9,455.4 L567.4,455.4 L567.9,455.5 L568.4,455.5 L568.9,455.5 L569.4,455.6 L569.9,455.6 L570.4,455.7 L570.9,455.7 L571.4,455.7 L571.9,455.8 L572.4,455.8 L572.9,455.9 L573.4,455.9 L573.9,456.0 L574.4,456.0 L574.9,456.0 L575.4,456.1 L575.9,456.1 L576.4,456.2 L576.9,456.2 L577.4,456.3 L577.9,456.3 L578.4,456.4 L578.9,456.4 L579.4,456.5 L579.9,456.5 L580.4,456.6 L580.9,456.6 L581.4,456.6 L581.9,456.7 L582.4,456.7 L582.9,456.8 L583.4,456.8 L583.9,456.9 L584.4,456.9 L584.9,457.0 L585.4,457.0 L585.9,457.0 L586.4,457.1 L586.9,457.1 L587.4,457.2 L587.9,457.2 L588.4,457.2 L588.9,457.3 L589.4,457.3 L589.9,457.4 L590.4,457.4 L590.9,457.4 L591.4,457.5 L591.9,457.5 L592.4,457.6 L592.9,457.6 L593.4,457.6 L593.9,457.7 L594.4,457.7 L594.9,457.7 L595.4,457.7 L595.9,457.8 L596.4,457.8 L596.9,457.8 L597.4,457.9 L597.9,457.9 L598.4,457.9 L598.9,457.9 L599.4,458.0 L599.9,458.0 L600.4,458.0 L600.9,458.0 L601.4,458.1 L601.9,458.1 L602.4,458.1 L602.9,458.1 L603.4,458.2 L603.9,458.2 L604.4,458.2 L604.9,458.2 L605.4,458.2 L605.9,458.2 L606.4,458.3 L606.9,458.3 L607.4,458.3 L607.9,458.3 L608.4,458.3 L608.9,458.3 L609.4,458.3 L609.9,458.4 L610.4,458.4 L610.9,458.4 L611.4,458.4 L611.9,458.4 L612.4,458.4 L612.9,458.4 L613.4,458.4 L613.9,458.4 L614.4,458.4 L614.9,458.5 L615.4,458.5 L615.9,458.5 L616.4,458.5 L616.9,458.5 L617.4,458.5 L617.9,458.5 L618.4,458.5 L618.9,458.5 L619.4,458.5 L619.9,458.5 L620.4,458.5 L620.9,458.5 L621.4,458.5 L621.9,458.5 L622.4,458.5 L622.9,458.5 L623.4,458.5 L623.9,458.5 L624.4,458.6 L624.9,458.6 L625.4,458.6 L625.9,458.6 L626.4,458.6 L626.9,458.6 L627.4,458.6 L627.9,458.6 L628.4,458.6 L628.9,458.6 L629.4,458.6 L629.9,458.6 L630.4,458.6 L630.9,458.6 L631.4,458.6 L631.9,458.6 L632.4,458.6 L632.9,458.6 L633.4,458.6 L633.9,458.6 L634.4,458.6 L634.9,458.6 L635.4,458.6 L635.9,458.6 L636.4,458.6 L636.9,458.6 L637.4,458.6 L637.9,458.6 L638.4,458.6 L638.9,458.6 L639.4,458.6 L639.9,458.6 L640.4,458.6 L640.9,458.6 L641.4,458.6 L641.9,458.6 L642.4,458.6 L642.9,458.6 L643.4,458.6 L643.9,458.6 L644.4,458.6 L644.9,458.6 L645.4,458.6 L645.9,458.6 L646.4,458.6 L646.9,458.6 L647.4,458.6 L647.9,458.6 L648.4,458.6 L648.9,458.6 L649.4,458.6 L649.9,458.6 L650.4,458.6 L650.9,458.6 L651.4,458.6 L651.9,458.6 L652.4,458.6 L652.9,458.6 L653.4,458.6 L653.9,458.6 L654.4,458.6 L654.9,458.6 L655.4,458.6 L655.9,458.6 L656.4,458.6" fill="none" stroke="#222" stroke-width="1.3" stroke-linejoin="round" />
<path d="M388.4,451.0 L388.9,451.0 L389.4,451.0 L389.9,451.0 L390.4,451.0 L390.9,451.0 L391.4,451.0 L391.9,451.0 L392.4,451.0 L392.9,451.0 L393.4,451.0 L393.9,451.0 L394.4,451.0 L394.9,451.0 L395.4,451.0 L395.9,451.0 L396.4,451.0 L396.9,451.0 L397.4,451.0 L397.9,451.0 L398.4,451.0 L398.9,451.0 L399.4,451.0 L399.9,451.0 L400.4,451.0 L400.9,451.0 L401.4,451.0 L401.9,451.0 L402.4,451.0 L402.9,451.0 L403.4,451.0 L403.9,451.0 L404.4,451.0 L404.9,451.0 L405.4,451.0 L405.9,451.0 L406.4,451.0 L406.9,451.0 L407.4,451.0 L407.9,451.0 L408.4,451.0 L408.9,451.0 L409.4,451.0 L409.9,451.0 L410.4,451.0 L410.9,451.0 L411.4,451.0 L411.9,451.0 L412.4,451.0 L412.9,451.0 L413.4,451.0 L413.9,451.0 L414.4,451.0 L414.9,451.0 L415.4,451.0 L415.9,451.0 L416.4,451.0 L416.9,451.0 L417.4,451.0 L417.9,451.0 L418.4,451.0 L418.9,451.0 L419.4,451.0 L419.9,451.0 L420.4,451.0 L420.9,451.0 L421.4,451.0 L421.9,451.0 L422.4,451.0 L422.9,451.0 L423.4,451.0 L423.9,451.0 L424.4,451.0 L424.9,451.0 L425.4,451.0 L425.9,451.0 L426.4,451.0 L426.9,451.0 L427.4,451.0 L427.9,451.0 L428.4,451.0 L428.9,451.0 L429.4,451.0 L429.9,451.0 L430.4,451.0 L430.9,451.0 L431.4,451.0 L431.9,451.0 L432.4,451.0 L432.9,451.0 L433.4,451.0 L433.9,451.0 L434.4,451.0 L434.9,451.0 L435.4,451.0 L435.9,451.0 L436.4,451.0 L436.9,451.0 L437.4,451.0 L437.9,451.0 L438.4,451.0 L438.9,451.0 L439.4,451.0 L439.9,451.0 L440.4,451.0 L440.9,451.0 L441.4,451.0 L441.9,451.0 L442.4,451.0 L442.9,451.0 L443.4,451.0 L443.9,451.0 L444.4,451.0 L444.9,451.0 L445.4,451.0 L445.9,451.0 L446.4,451.0 L446.9,451.0 L447.4,451.0 L447.9,451.0 L448.4,451.0 L448.9,451.0 L449.4,451.1 L449.9,451.1 L450.4,451.1 L450.9,451.1 L451.4,451.1 L451.9,451.1 L452.4,451.1 L452.9,451.1 L453.4,451.1 L453.9,451.1 L454.4,451.1 L454.9,451.1 L455.4,451.1 L455.9,451.1 L456.4,451.1 L456.9,451.1 L457.4,451.1 L457.9,451.1 L458.4,451.1 L458.9,451.1 L459.4,451.2 L459.9,451.2 L460.4,451.2 L460.9,451.2 L461.4,451.2 L461.9,451.2 L462.4,451.2 L462.9,451.2 L463.4,451.2 L463.9,451.2 L464.4,451.2 L464.9,451.2 L465.4,451.2 L465.9,451.2 L466.4,451.2 L466.9,451.3 L467.4,451.3 L467.9,451.3 L468.4,451.3 L468.9,451.3 L469.4,451.3 L469.9,451.3 L470.4,451.3 L470.9,451.3 L471.4,451.3 L471.9,451.3 L472.4,451.3 L472.9,451.3 L473.4,451.3 L473.9,451.3 L474.4,451.3 L474.9,451.3 L475.4,451.4 L475.9,451.4 L476.4,451.4 L476.9,451.4 L477.4,451.4 L477.9,451.4 L478.4,451.4 L478.9,451.4 L479.4,451.4 L479.9,451.4 L480.4,451.4 L480.9,451.4 L481.4,451.4 L481.9,451.4 L482.4,451.4 L482.9,451.4 L483.4,451.4 L483.9,451.4 L484.4,451.4 L484.9,451.5 L485.4,451.5 L485.9,451.5 L486.4,451.5 L486.9,451.5 L487.4,451.5 L487.9,451.5 L488.4,451.5 L488.9,451.5 L489.4,451.5 L489.9,451.5 L490.4,451.5 L490.9,451.5 L491.4,451.5 L491.9,451.5 L492.4,451.5 L492.9,451.6 L493.4,451.6 L493.9,451.6 L494.4,451.6 L494.9,451.6 L495.4,451.6 L495.9,451.6 L496.4,451.6 L496.9,451.6 L497.4,451.6 L497.9,451.6 L498.4,451.7 L498.9,451.7 L499.4,451.7 L499.9,451.7 L500.4,451.7 L500.9,451.7 L501.4,451.7 L501.9,451.7 L502.4,451.7 L502.9,451.8 L503.4,451.8 L503.9,451.8 L504.4,451.8 L504.9,451.8 L505.4,451.8 L505.9,451.8 L506.4,451.8 L506.9,451.8 L507.4,451.9 L507.9,451.9 L508.4,451.9 L508.9,451.9 L509.4,451.9 L509.9,451.9 L510.4,451.9 L510.9,451.9 L511.4,451.9 L511.9,451.9 L512.4,451.9 L512.9,451.9 L513.4,451.9 L513.9,451.8 L514.4,451.8 L514.9,451.8 L515.4,451.8 L515.9,451.8 L516.4,451.7 L516.9,451.7 L517.4,451.6 L517.9,451.6 L518.4,451.5 L518.9,451.5 L519.4,451.4 L519.9,451.3 L520.4,451.2 L520.9,451.1 L521.4,451.0 L521.9,450.9 L522.4,450.8 L522.9,450.7 L523.4,450.5 L523.9,450.4 L524.4,450.2 L524.9,450.0 L525.4,449.8 L525.9,449.6 L526.4,449.3 L526.9,449.1 L527.4,448.8 L527.9,448.5 L528.4,448.2 L528.9,447.9 L529.4,447.5 L529.9,447.1 L530.4,446.7 L530.9,446.3 L531.4,445.8 L531.9,445.4 L532.4,444.8 L532.9,444.3 L533.4,443.7 L533.9,443.1 L534.4,442.5 L534.9,441.8 L535.4,441.1 L535.9,440.3 L536.4,439.5 L536.9,438.7 L537.4,437.8 L537.9,436.9 L538.4,435.9 L538.9,434.9 L539.4,433.9 L539.9,432.8 L540.4,431.7 L540.9,430.5 L541.4,429.2 L541.9,427.9 L542.4,426.6 L542.9,425.2 L543.4,423.7 L543.9,422.2 L544.4,420.7 L544.9,419.1 L545.4,417.4 L545.9,415.7 L546.4,413.9 L546.9,412.1 L547.4,410.2 L547.9,408.3 L548.4,406.3 L548.9,404.2 L549.4,402.1 L549.9,400.0 L550.4,397.8 L550.9,395.5 L551.4,393.2 L551.9,390.9 L552.4,388.5 L552.9,386.1 L553.4,383.6 L553.9,381.1 L554.4,378.5 L554.9,375.9 L555.4,373.3 L555.9,370.7 L556.4,368.0 L556.9,365.3 L557.4,362.6 L557.9,359.8 L558.4,357.1 L558.9,354.3 L559.4,351.6 L559.9,348.8 L560.4,346.0 L560.9,343.3 L561.4,340.5 L561.9,337.8 L562.4,335.1 L562.9,332.4 L563.4,329.7 L563.9,327.1 L564.4,324.5 L564.9,321.9 L565.4,319.4 L565.9,317.0 L566.4,314.6 L566.9,312.2 L567.4,310.0 L567.9,307.8 L568.4,305.6 L568.9,303.6 L569.4,301.6 L569.9,299.7 L570.4,297.9 L570.9,296.2 L571.4,294.6 L571.9,293.1 L572.4,291.7 L572.9,290.4 L573.4,289.2 L573.9,288.2 L574.4,287.2 L574.9,286.4 L575.4,285.7 L575.9,285.1 L576.4,284.6 L576.9,284.3 L577.4,284.0 L577.9,283.9 L578.4,284.0 L578.9,284.1 L579.4,284.4 L579.9,284.8 L580.4,285.3 L580.9,285.9 L581.4,286.7 L581.9,287.5 L582.4,288.5 L582.9,289.5 L583.4,290.7 L583.9,292.0 L584.4,293.4 L584.9,294.9 L585.4,296.4 L585.9,298.1 L586.4,299.9 L586.9,301.7 L587.4,303.6 L587.9,305.6 L588.4,307.7 L588.9,309.9 L589.4,312.1 L589.9,314.4 L590.4,316.7 L590.9,319.1 L591.4,321.6 L591.9,324.1 L592.4,326.6 L592.9,329.2 L593.4,331.8 L593.9,334.5 L594.4,337.1 L594.9,339.8 L595.4,342.5 L595.9,345.2 L596.4,348.0 L596.9,350.7 L597.4,353.4 L597.9,356.2 L598.4,358.9 L598.9,361.6 L599.4,364.3 L599.9,367.0 L600.4,369.7 L600.9,372.3 L601.4,375.0 L601.9,377.6 L602.4,380.1 L602.9,382.7 L603.4,385.2 L603.9,387.6 L604.4,390.1 L604.9,392.5 L605.4,394.8 L605.9,397.1 L606.4,399.4 L606.9,401.6 L607.4,403.7 L607.9,405.9 L608.4,407.9 L608.9,409.9 L609.4,411.9 L609.9,413.8 L610.4,415.7 L610.9,417.5 L611.4,419.3 L611.9,421.0 L612.4,422.6 L612.9,424.2 L613.4,425.8 L613.9,427.3 L614.4,428.7 L614.9,430.1 L615.4,431.5 L615.9,432.8 L616.4,434.0 L616.9,435.2 L617.4,436.4 L617.9,437.5 L618.4,438.6 L618.9,439.6 L619.4,440.6 L619.9,441.5 L620.4,442.4 L620.9,443.3 L621.4,444.1 L621.9,444.9 L622.4,445.6 L622.9,446.4 L623.4,447.0 L623.9,447.7 L624.4,448.3 L624.9,448.9 L625.4,449.4 L625.9,450.0 L626.4,450.5 L626.9,450.9 L627.4,451.4 L627.9,451.8 L628.4,452.2 L628.9,452.6 L629.4,453.0 L629.9,453.3 L630.4,453.6 L630.9,453.9 L631.4,454.2 L631.9,454.5 L632.4,454.7 L632.9,454.9 L633.4,455.2 L633.9,455.4 L634.4,455.6 L634.9,455.7 L635.4,455.9 L635.9,456.1 L636.4,456.2 L636.9,456.4 L637.4,456.5 L637.9,456.6 L638.4,456.7 L638.9,456.8 L639.4,456.9 L639.9,457.0 L640.4,457.1 L640.9,457.2 L641.4,457.3 L641.9,457.3 L642.4,457.4 L642.9,457.5 L643.4,457.5 L643.9,457.6 L644.4,457.6 L644.9,457.7 L645.4,457.7 L645.9,457.7 L646.4,457.8 L646.9,457.8 L647.4,457.8 L647.9,457.9 L648.4,457.9 L648.9,457.9 L649.4,458.0 L649.9,458.0 L650.4,458.0 L650.9,458.0 L651.4,458.0 L651.9,458.0 L652.4,458.1 L652.9,458.1 L653.4,458.1 L653.9,458.1 L654.4,458.1 L654.9,458.1 L655.4,458.1 L655.9,458.1 L656.4,458.2" fill="none" stroke="#3c3c3c" stroke-width="1.3" stroke-linejoin="round" />
<path d="M388.4,450.5 L388.9,450.5 L389.4,450.5 L389.9,450.5 L390.4,450.5 L390.9,450.5 L391.4,450.5 L391.9,450.5 L392.4,450.5 L392.9,450.5 L393.4,450.5 L393.9,450.5 L394.4,450.5 L394.9,450.5 L395.4,450.5 L395.9,450.5 L396.4,450.5 L396.9,450.5 L397.4,450.5 L397.9,450.5 L398.4,450.5 L398.9,450.4 L399.4,450.4 L399.9,450.4 L400.4,450.4 L400.9,450.4 L401.4,450.4 L401.9,450.4 L402.4,450.4 L402.9,450.4 L403.4,450.4 L403.9,450.4 L404.4,450.4 L404.9,450.4 L405.4,450.4 L405.9,450.4 L406.4,450.4 L406.9,450.4 L407.4,450.3 L407.9,450.3 L408.4,450.3 L408.9,450.3 L409.4,450.3 L409.9,450.3 L410.4,450.3 L410.9,450.3 L411.4,450.3 L411.9,450.3 L412.4,450.3 L412.9,450.3 L413.4,450.3 L413.9,450.3 L414.4,450.2 L414.9,450.2 L415.4,450.2 L415.9,450.2 L416.4,450.2 L416.9,450.2 L417.4,450.2 L417.9,450.2 L418.4,450.2 L418.9,450.2 L419.4,450.2 L419.9,450.2 L420.4,450.1 L420.9,450.1 L421.4,450.1 L421.9,450.1 L422.4,450.1 L422.9,450.1 L423.4,450.1 L423.9,450.1 L424.4,450.1 L424.9,450.1 L425.4,450.0 L425.9,450.0 L426.4,450.0 L426.9,450.0 L427.4,450.0 L427.9,450.0 L428.4,450.0 L428.9,450.0 L429.4,449.9 L429.9,449.9 L430.4,449.9 L430.9,449.9 L431.4,449.9 L431.9,449.9 L432.4,449.9 L432.9,449.9 L433.4,449.8 L433.9,449.8 L434.4,449.8 L434.9,449.8 L435.4,449.8 L435.9,449.8 L436.4,449.8 L436.9,449.7 L437.4,449.7 L437.9,449.7 L438.4,449.7 L438.9,449.7 L439.4,449.7 L439.9,449.6 L440.4,449.6 L440.9,449.6 L441.4,449.6 L441.9,449.6 L442.4,449.6 L442.9,449.5 L443.4,449.5 L443.9,449.5 L444.4,449.5 L444.9,449.5 L445.4,449.4 L445.9,449.4 L446.4,449.4 L446.9,449.4 L447.4,449.4 L447.9,449.3 L448.4,449.3 L448.9,449.3 L449.4,449.3 L449.9,449.2 L450.4,449.2 L450.9,449.2 L451.4,449.2 L451.9,449.1 L452.4,449.1 L452.9,449.1 L453.4,449.1 L453.9,449.0 L454.4,449.0 L454.9,449.0 L455.4,448.9 L455.9,448.9 L456.4,448.9 L456.9,448.8 L457.4,448.8 L457.9,448.7 L458.4,448.7 L458.9,448.6 L459.4,448.6 L459.9,448.5 L460.4,448.5 L460.9,448.4 L461.4,448.4 L461.9,448.3 L462.4,448.2 L462.9,448.2 L463.4,448.1 L463.9,448.0 L464.4,447.9 L464.9,447.8 L465.4,447.7 L465.9,447.6 L466.4,447.5 L466.9,447.4 L467.4,447.3 L467.9,447.1 L468.4,447.0 L468.9,446.8 L469.4,446.7 L469.9,446.5 L470.4,446.3 L470.9,446.1 L471.4,445.9 L471.9,445.7 L472.4,445.4 L472.9,445.2 L473.4,444.9 L473.9,444.6 L474.4,444.3 L474.9,444.0 L475.4,443.6 L475.9,443.3 L476.4,442.9 L476.9,442.5 L477.4,442.0 L477.9,441.6 L478.4,441.1 L478.9,440.6 L479.4,440.0 L479.9,439.5 L480.4,438.8 L480.9,438.2 L481.4,437.5 L481.9,436.8 L482.4,436.1 L482.9,435.3 L483.4,434.5 L483.9,433.6 L484.4,432.7 L484.9,431.8 L485.4,430.8 L485.9,429.8 L486.4,428.7 L486.9,427.6 L487.4,426.4 L487.9,425.2 L488.4,423.9 L488.9,422.7 L489.4,421.3 L489.9,419.9 L490.4,418.5 L490.9,417.0 L491.4,415.5 L491.9,413.9 L492.4,412.2 L492.9,410.6 L493.4,408.9 L493.9,407.1 L494.4,405.3 L494.9,403.5 L495.4,401.6 L495.9,399.7 L496.4,397.7 L496.9,395.7 L497.4,393.7 L497.9,391.7 L498.4,389.6 L498.9,387.5 L499.4,385.4 L499.9,383.3 L500.4,381.2 L500.9,379.0 L501.4,376.9 L501.9,374.7 L502.4,372.6 L502.9,370.4 L503.4,368.3 L503.9,366.2 L504.4,364.1 L504.9,362.0 L505.4,359.9 L505.9,357.9 L506.4,356.0 L506.9,354.1 L507.4,352.2 L507.9,350.4 L508.4,348.6 L508.9,347.0 L509.4,345.4 L509.9,343.8 L510.4,342.4 L510.9,341.1 L511.4,339.8 L511.9,338.7 L512.4,337.6 L512.9,336.7 L513.4,335.9 L513.9,335.2 L514.4,334.6 L514.9,334.1 L515.4,333.8 L515.9,333.6 L516.4,333.5 L516.9,333.5 L517.4,333.7 L517.9,334.0 L518.4,334.4 L518.9,335.0 L519.4,335.6 L519.9,336.4 L520.4,337.3 L520.9,338.4 L521.4,339.5 L521.9,340.8 L522.4,342.1 L522.9,343.6 L523.4,345.1 L523.9,346.8 L524.4,348.5 L524.9,350.3 L525.4,352.2 L525.9,354.1 L526.4,356.1 L526.9,358.2 L527.4,360.3 L527.9,362.5 L528.4,364.7 L528.9,367.0 L529.4,369.3 L529.9,371.6 L530.4,373.9 L530.9,376.3 L531.4,378.6 L531.9,381.0 L532.4,383.4 L532.9,385.7 L533.4,388.0 L533.9,390.4 L534.4,392.7 L534.9,395.0 L535.4,397.2 L535.9,399.5 L536.4,401.7 L536.9,403.8 L537.4,406.0 L537.9,408.0 L538.4,410.1 L538.9,412.1 L539.4,414.0 L539.9,415.9 L540.4,417.7 L540.9,419.5 L541.4,421.2 L541.9,422.9 L542.4,424.5 L542.9,426.1 L543.4,427.6 L543.9,429.1 L544.4,430.5 L544.9,431.8 L545.4,433.1 L545.9,434.4 L546.4,435.5 L546.9,436.7 L547.4,437.8 L547.9,438.8 L548.4,439.8 L548.9,440.7 L549.4,441.6 L549.9,442.4 L550.4,443.3 L550.9,444.0 L551.4,444.7 L551.9,445.4 L552.4,446.0 L552.9,446.7 L553.4,447.2 L553.9,447.8 L554.4,448.3 L554.9,448.7 L555.4,449.2 L555.9,449.6 L556.4,450.0 L556.9,450.4 L557.4,450.7 L557.9,451.0 L558.4,451.3 L558.9,451.6 L559.4,451.9 L559.9,452.1 L560.4,452.4 L560.9,452.6 L561.4,452.8 L561.9,453.0 L562.4,453.2 L562.9,453.4 L563.4,453.5 L563.9,453.7 L564.4,453.8 L564.9,453.9 L565.4,454.1 L565.9,454.2 L566.4,454.3 L566.9,454.4 L567.4,454.5 L567.9,454.6 L568.4,454.7 L568.9,454.8 L569.4,454.9 L569.9,455.0 L570.4,455.0 L570.9,455.1 L571.4,455.2 L571.9,455.3 L572.4,455.3 L572.9,455.4 L573.4,455.5 L573.9,455.5 L574.4,455.6 L574.9,455.6 L575.4,455.7 L575.9,455.8 L576.4,455.8 L576.9,455.9 L577.4,455.9 L577.9,456.0 L578.4,456.0 L578.9,456.1 L579.4,456.2 L579.9,456.2 L580.4,456.3 L580.9,456.3 L581.4,456.4 L581.9,456.4 L582.4,456.5 L582.9,456.5 L583.4,456.6 L583.9,456.6 L584.4,456.7 L584.9,456.7 L585.4,456.8 L585.9,456.8 L586.4,456.9 L586.9,456.9 L587.4,456.9 L587.9,457.0 L588.4,457.0 L588.9,457.1 L589.4,457.1 L589.9,457.2 L590.4,457.2 L590.9,457.2 L591.4,457.3 L591.9,457.3 L592.4,457.4 L592.9,457.4 L593.4,457.4 L593.9,457.5 L594.4,457.5 L594.9,457.5 L595.4,457.6 L595.9,457.6 L596.4,457.6 L596.9,457.7 L597.4,457.7 L597.9,457.7 L598.4,457.8 L598.9,457.8 L599.4,457.8 L599.9,457.8 L600.4,457.9 L600.9,457.9 L601.4,457.9 L601.9,457.9 L602.4,458.0 L602.9,458.0 L603.4,458.0 L603.9,458.0 L604.4,458.0 L604.9,458.1 L605.4,458.1 L605.9,458.1 L606.4,458.1 L606.9,458.1 L607.4,458.2 L607.9,458.2 L608.4,458.2 L608.9,458.2 L609.4,458.2 L609.9,458.2 L610.4,458.2 L610.9,458.3 L611.4,458.3 L611.9,458.3 L612.4,458.3 L612.9,458.3 L613.4,458.3 L613.9,458.3 L614.4,458.3 L614.9,458.3 L615.4,458.3 L615.9,458.4 L616.4,458.4 L616.9,458.4 L617.4,458.4 L617.9,458.4 L618.4,458.4 L618.9,458.4 L619.4,458.4 L619.9,458.4 L620.4,458.4 L620.9,458.4 L621.4,458.4 L621.9,458.4 L622.4,458.4 L622.9,458.4 L623.4,458.4 L623.9,458.4 L624.4,458.5 L624.9,458.5 L625.4,458.5 L625.9,458.5 L626.4,458.5 L626.9,458.5 L627.4,458.5 L627.9,458.5 L628.4,458.5 L628.9,458.5 L629.4,458.5 L629.9,458.5 L630.4,458.5 L630.9,458.5 L631.4,458.5 L631.9,458.5 L632.4,458.5 L632.9,458.5 L633.4,458.5 L633.9,458.5 L634.4,458.5 L634.9,458.5 L635.4,458.5 L635.9,458.5 L636.4,458.5 L636.9,458.5 L637.4,458.5 L637.9,458.5 L638.4,458.5 L638.9,458.5 L639.4,458.5 L639.9,458.5 L640.4,458.5 L640.9,458.5 L641.4,458.5 L641.9,458.5 L642.4,458.5 L642.9,458.5 L643.4,458.5 L643.9,458.5 L644.4,458.5 L644.9,458.5 L645.4,458.5 L645.9,458.5 L646.4,458.5 L646.9,458.5 L647.4,458.5 L647.9,458.5 L648.4,458.5 L648.9,458.5 L649.4,458.5 L649.9,458.5 L650.4,458.5 L650.9,458.5 L651.4,458.5 L651.9,458.5 L652.4,458.5 L652.9,458.5 L653.4,458.5 L653.9,458.5 L654.4,458.5 L654.9,458.5 L655.4,458.5 L655.9,458.5 L656.4,458.5" fill="none" stroke="#3c3c3c" stroke-width="1.3" stroke-linejoin="round" />
<path d="M388.4,451.1 L388.9,451.1 L389.4,451.1 L389.9,451.1 L390.4,451.1 L390.9,451.1 L391.4,451.1 L391.9,451.1 L392.4,451.1 L392.9,451.1 L393.4,451.1 L393.9,451.1 L394.4,451.1 L394.9,451.1 L395.4,451.1 L395.9,451.1 L396.4,451.1 L396.9,451.1 L397.4,451.1 L397.9,451.1 L398.4,451.1 L398.9,451.1 L399.4,451.1 L399.9,451.1 L400.4,451.1 L400.9,451.1 L401.4,451.1 L401.9,451.1 L402.4,451.1 L402.9,451.1 L403.4,451.1 L403.9,451.1 L404.4,451.1 L404.9,451.1 L405.4,451.1 L405.9,451.1 L406.4,451.1 L406.9,451.1 L407.4,451.1 L407.9,451.1 L408.4,451.1 L408.9,451.1 L409.4,451.1 L409.9,451.1 L410.4,451.1 L410.9,451.1 L411.4,451.1 L411.9,451.1 L412.4,451.1 L412.9,451.1 L413.4,451.1 L413.9,451.1 L414.4,451.1 L414.9,451.1 L415.4,451.1 L415.9,451.1 L416.4,451.1 L416.9,451.1 L417.4,451.1 L417.9,451.1 L418.4,451.1 L418.9,451.0 L419.4,451.0 L419.9,451.0 L420.4,451.0 L420.9,451.0 L421.4,451.0 L421.9,451.0 L422.4,450.9 L422.9,450.9 L423.4,450.9 L423.9,450.9 L424.4,450.8 L424.9,450.8 L425.4,450.8 L425.9,450.7 L426.4,450.7 L426.9,450.6 L427.4,450.6 L427.9,450.5 L428.4,450.5 L428.9,450.4 L429.4,450.3 L429.9,450.2 L430.4,450.1 L430.9,450.0 L431.4,449.9 L431.9,449.8 L432.4,449.7 L432.9,449.5 L433.4,449.4 L433.9,449.2 L434.4,449.0 L434.9,448.9 L435.4,448.7 L435.9,448.4 L436.4,448.2 L436.9,448.0 L437.4,447.7 L437.9,447.4 L438.4,447.1 L438.9,446.8 L439.4,446.5 L439.9,446.2 L440.4,445.8 L440.9,445.4 L441.4,445.0 L441.9,444.6 L442.4,444.2 L442.9,443.7 L443.4,443.2 L443.9,442.7 L444.4,442.2 L444.9,441.7 L445.4,441.2 L445.9,440.6 L446.4,440.1 L446.9,439.5 L447.4,438.9 L447.9,438.3 L448.4,437.7 L448.9,437.0 L449.4,436.4 L449.9,435.8 L450.4,435.1 L450.9,434.5 L451.4,433.8 L451.9,433.2 L452.4,432.6 L452.9,431.9 L453.4,431.3 L453.9,430.7 L454.4,430.1 L454.9,429.5 L455.4,428.9 L455.9,428.4 L456.4,427.8 L456.9,427.3 L457.4,426.9 L457.9,426.4 L458.4,426.0 L458.9,425.6 L459.4,425.2 L459.9,424.9 L460.4,424.6 L460.9,424.3 L461.4,424.1 L461.9,423.9 L462.4,423.8 L462.9,423.7 L463.4,423.6 L463.9,423.6 L464.4,423.6 L464.9,423.7 L465.4,423.7 L465.9,423.9 L466.4,424.0 L466.9,424.2 L467.4,424.4 L467.9,424.6 L468.4,424.9 L468.9,425.2 L469.4,425.5 L469.9,425.9 L470.4,426.3 L470.9,426.7 L471.4,427.1 L471.9,427.6 L472.4,428.0 L472.9,428.5 L473.4,429.0 L473.9,429.5 L474.4,430.1 L474.9,430.6 L475.4,431.2 L475.9,431.7 L476.4,432.3 L476.9,432.9 L477.4,433.5 L477.9,434.1 L478.4,434.6 L478.9,435.2 L479.4,435.8 L479.9,436.4 L480.4,437.0 L480.9,437.6 L481.4,438.1 L481.9,438.7 L482.4,439.3 L482.9,439.8 L483.4,440.3 L483.9,440.9 L484.4,441.4 L484.9,441.9 L485.4,442.4 L485.9,442.9 L486.4,443.3 L486.9,443.8 L487.4,444.2 L487.9,444.6 L488.4,445.0 L488.9,445.4 L489.4,445.8 L489.9,446.2 L490.4,446.5 L490.9,446.9 L491.4,447.2 L491.9,447.5 L492.4,447.8 L492.9,448.1 L493.4,448.3 L493.9,448.6 L494.4,448.8 L494.9,449.1 L495.4,449.3 L495.9,449.5 L496.4,449.7 L496.9,449.9 L497.4,450.0 L497.9,450.2 L498.4,450.4 L498.9,450.5 L499.4,450.7 L499.9,450.8 L500.4,450.9 L500.9,451.0 L501.4,451.1 L501.9,451.3 L502.4,451.4 L502.9,451.4 L503.4,451.5 L503.9,451.6 L504.4,451.7 L504.9,451.8 L505.4,451.9 L505.9,451.9 L506.4,452.0 L506.9,452.0 L507.4,452.1 L507.9,452.2 L508.4,452.2 L508.9,452.3 L509.4,452.3 L509.9,452.4 L510.4,452.4 L510.9,452.5 L511.4,452.5 L511.9,452.6 L512.4,452.6 L512.9,452.6 L513.4,452.7 L513.9,452.7 L514.4,452.8 L514.9,452.8 L515.4,452.8 L515.9,452.9 L516.4,452.9 L516.9,453.0 L517.4,453.0 L517.9,453.0 L518.4,453.1 L518.9,453.1 L519.4,453.1 L519.9,453.2 L520.4,453.2 L520.9,453.2 L521.4,453.3 L521.9,453.3 L522.4,453.3 L522.9,453.4 L523.4,453.4 L523.9,453.4 L524.4,453.5 L524.9,453.5 L525.4,453.5 L525.9,453.5 L526.4,453.6 L526.9,453.6 L527.4,453.6 L527.9,453.7 L528.4,453.7 L528.9,453.7 L529.4,453.7 L529.9,453.8 L530.4,453.8 L530.9,453.8 L531.4,453.8 L531.9,453.8 L532.4,453.9 L532.9,453.9 L533.4,453.9 L533.9,453.9 L534.4,454.0 L534.9,454.0 L535.4,454.0 L535.9,454.0 L536.4,454.0 L536.9,454.0 L537.4,454.1 L537.9,454.1 L538.4,454.1 L538.9,454.1 L539.4,454.1 L539.9,454.1 L540.4,454.2 L540.9,454.2 L541.4,454.2 L541.9,454.2 L542.4,454.2 L542.9,454.2 L543.4,454.3 L543.9,454.3 L544.4,454.3 L544.9,454.3 L545.4,454.3 L545.9,454.3 L546.4,454.3 L546.9,454.4 L547.4,454.4 L547.9,454.4 L548.4,454.4 L548.9,454.4 L549.4,454.4 L549.9,454.5 L550.4,454.5 L550.9,454.5 L551.4,454.5 L551.9,454.5 L552.4,454.6 L552.9,454.6 L553.4,454.6 L553.9,454.6 L554.4,454.6 L554.9,454.7 L555.4,454.7 L555.9,454.7 L556.4,454.7 L556.9,454.7 L557.4,454.8 L557.9,454.8 L558.4,454.8 L558.9,454.9 L559.4,454.9 L559.9,454.9 L560.4,454.9 L560.9,455.0 L561.4,455.0 L561.9,455.0 L562.4,455.1 L562.9,455.1 L563.4,455.1 L563.9,455.2 L564.4,455.2 L564.9,455.2 L565.4,455.3 L565.9,455.3 L566.4,455.3 L566.9,455.4 L567.4,455.4 L567.9,455.5 L568.4,455.5 L568.9,455.5 L569.4,455.6 L569.9,455.6 L570.4,455.7 L570.9,455.7 L571.4,455.7 L571.9,455.8 L572.4,455.8 L572.9,455.9 L573.4,455.9 L573.9,456.0 L574.4,456.0 L574.9,456.0 L575.4,456.1 L575.9,456.1 L576.4,456.2 L576.9,456.2 L577.4,456.3 L577.9,456.3 L578.4,456.4 L578.9,456.4 L579.4,456.5 L579.9,456.5 L580.4,456.6 L580.9,456.6 L581.4,456.6 L581.9,456.7 L582.4,456.7 L582.9,456.8 L583.4,456.8 L583.9,456.9 L584.4,456.9 L584.9,457.0 L585.4,457.0 L585.9,457.0 L586.4,457.1 L586.9,457.1 L587.4,457.2 L587.9,457.2 L588.4,457.2 L588.9,457.3 L589.4,457.3 L589.9,457.4 L590.4,457.4 L590.9,457.4 L591.4,457.5 L591.9,457.5 L592.4,457.6 L592.9,457.6 L593.4,457.6 L593.9,457.7 L594.4,457.7 L594.9,457.7 L595.4,457.7 L595.9,457.8 L596.4,457.8 L596.9,457.8 L597.4,457.9 L597.9,457.9 L598.4,457.9 L598.9,457.9 L599.4,458.0 L599.9,458.0 L600.4,458.0 L600.9,458.0 L601.4,458.1 L601.9,458.1 L602.4,458.1 L602.9,458.1 L603.4,458.2 L603.9,458.2 L604.4,458.2 L604.9,458.2 L605.4,458.2 L605.9,458.2 L606.4,458.3 L606.9,458.3 L607.4,458.3 L607.9,458.3 L608.4,458.3 L608.9,458.3 L609.4,458.3 L609.9,458.4 L610.4,458.4 L610.9,458.4 L611.4,458.4 L611.9,458.4 L612.4,458.4 L612.9,458.4 L613.4,458.4 L613.9,458.4 L614.4,458.4 L614.9,458.5 L615.4,458.5 L615.9,458.5 L616.4,458.5 L616.9,458.5 L617.4,458.5 L617.9,458.5 L618.4,458.5 L618.9,458.5 L619.4,458.5 L619.9,458.5 L620.4,458.5 L620.9,458.5 L621.4,458.5 L621.9,458.5 L622.4,458.5 L622.9,458.5 L623.4,458.5 L623.9,458.5 L624.4,458.6 L624.9,458.6 L625.4,458.6 L625.9,458.6 L626.4,458.6 L626.9,458.6 L627.4,458.6 L627.9,458.6 L628.4,458.6 L628.9,458.6 L629.4,458.6 L629.9,458.6 L630.4,458.6 L630.9,458.6 L631.4,458.6 L631.9,458.6 L632.4,458.6 L632.9,458.6 L633.4,458.6 L633.9,458.6 L634.4,458.6 L634.9,458.6 L635.4,458.6 L635.9,458.6 L636.4,458.6 L636.9,458.6 L637.4,458.6 L637.9,458.6 L638.4,458.6 L638.9,458.6 L639.4,458.6 L639.9,458.6 L640.4,458.6 L640.9,458.6 L641.4,458.6 L641.9,458.6 L642.4,458.6 L642.9,458.6 L643.4,458.6 L643.9,458.6 L644.4,458.6 L644.9,458.6 L645.4,458.6 L645.9,458.6 L646.4,458.6 L646.9,458.6 L647.4,458.6 L647.9,458.6 L648.4,458.6 L648.9,458.6 L649.4,458.6 L649.9,458.6 L650.4,458.6 L650.9,458.6 L651.4,458.6 L651.9,458.6 L652.4,458.6 L652.9,458.6 L653.4,458.6 L653.9,458.6 L654.4,458.6 L654.9,458.6 L655.4,458.6 L655.9,458.6 L656.4,458.6" fill="none" stroke="#3c3c3c" stroke-width="1.3" stroke-linejoin="round" />
<path d="M388.4,450.5 L388.9,450.5 L389.4,450.5 L389.9,450.5 L390.4,450.5 L390.9,450.5 L391.4,450.4 L391.9,450.4 L392.4,450.4 L392.9,450.4 L393.4,450.4 L393.9,450.4 L394.4,450.4 L394.9,450.4 L395.4,450.4 L395.9,450.4 L396.4,450.4 L396.9,450.4 L397.4,450.4 L397.9,450.4 L398.4,450.4 L398.9,450.4 L399.4,450.4 L399.9,450.4 L400.4,450.4 L400.9,450.3 L401.4,450.3 L401.9,450.3 L402.4,450.3 L402.9,450.3 L403.4,450.3 L403.9,450.3 L404.4,450.3 L404.9,450.3 L405.4,450.3 L405.9,450.3 L406.4,450.3 L406.9,450.3 L407.4,450.3 L407.9,450.3 L408.4,450.2 L408.9,450.2 L409.4,450.2 L409.9,450.2 L410.4,450.2 L410.9,450.2 L411.4,450.2 L411.9,450.2 L412.4,450.2 L412.9,450.2 L413.4,450.2 L413.9,450.1 L414.4,450.1 L414.9,450.1 L415.4,450.1 L415.9,450.1 L416.4,450.1 L416.9,450.1 L417.4,450.1 L417.9,450.0 L418.4,450.0 L418.9,450.0 L419.4,450.0 L419.9,450.0 L420.4,449.9 L420.9,449.9 L421.4,449.9 L421.9,449.9 L422.4,449.8 L422.9,449.8 L423.4,449.8 L423.9,449.7 L424.4,449.7 L424.9,449.6 L425.4,449.6 L425.9,449.5 L426.4,449.5 L426.9,449.4 L427.4,449.4 L427.9,449.3 L428.4,449.2 L428.9,449.1 L429.4,449.0 L429.9,448.9 L430.4,448.8 L430.9,448.7 L431.4,448.6 L431.9,448.5 L432.4,448.3 L432.9,448.2 L433.4,448.0 L433.9,447.8 L434.4,447.6 L434.9,447.4 L435.4,447.2 L435.9,447.0 L436.4,446.7 L436.9,446.5 L437.4,446.2 L437.9,445.9 L438.4,445.6 L438.9,445.2 L439.4,444.9 L439.9,444.5 L440.4,444.2 L440.9,443.7 L441.4,443.3 L441.9,442.9 L442.4,442.4 L442.9,442.0 L443.4,441.5 L443.9,441.0 L444.4,440.4 L444.9,439.9 L445.4,439.3 L445.9,438.7 L446.4,438.1 L446.9,437.5 L447.4,436.9 L447.9,436.3 L448.4,435.6 L448.9,435.0 L449.4,434.3 L449.9,433.7 L450.4,433.0 L450.9,432.3 L451.4,431.6 L451.9,431.0 L452.4,430.3 L452.9,429.6 L453.4,429.0 L453.9,428.3 L454.4,427.7 L454.9,427.0 L455.4,426.4 L455.9,425.8 L456.4,425.2 L456.9,424.6 L457.4,424.1 L457.9,423.6 L458.4,423.1 L458.9,422.6 L459.4,422.1 L459.9,421.7 L460.4,421.4 L460.9,421.0 L461.4,420.7 L461.9,420.4 L462.4,420.2 L462.9,420.0 L463.4,419.8 L463.9,419.7 L464.4,419.6 L464.9,419.5 L465.4,419.4 L465.9,419.4 L466.4,419.4 L466.9,419.5 L467.4,419.2 L467.9,418.9 L468.4,419.1 L468.9,419.1 L469.4,418.9 L469.9,418.7 L470.4,418.3 L470.9,417.9 L471.4,417.5 L471.9,417.2 L472.4,417.1 L472.9,417.0 L473.4,417.1 L473.9,417.2 L474.4,417.5 L474.9,417.9 L475.4,418.1 L475.9,418.3 L476.4,418.6 L476.9,418.7 L477.4,418.6 L477.9,418.5 L478.4,418.2 L478.9,418.0 L479.4,417.8 L479.9,417.7 L480.4,417.8 L480.9,417.9 L481.4,418.1 L481.9,418.4 L482.4,418.6 L482.9,418.7 L483.4,418.6 L483.9,418.3 L484.4,417.8 L484.9,417.2 L485.4,416.7 L485.9,416.2 L486.4,415.8 L486.9,415.4 L487.4,415.0 L487.9,414.8 L488.4,414.7 L488.9,414.2 L489.4,413.3 L489.9,412.4 L490.4,411.3 L490.9,410.2 L491.4,409.1 L491.9,407.8 L492.4,406.6 L492.9,405.2 L493.4,403.8 L493.9,402.3 L494.4,400.8 L494.9,399.2 L495.4,397.5 L495.9,395.8 L496.4,394.0 L496.9,392.1 L497.4,390.2 L497.9,388.3 L498.4,386.3 L498.9,384.3 L499.4,382.3 L499.9,380.2 L500.4,378.1 L500.9,375.9 L501.4,373.8 L501.9,371.6 L502.4,369.4 L502.9,367.3 L503.4,365.1 L503.9,363.0 L504.4,360.8 L504.9,358.7 L505.4,356.6 L505.9,354.5 L506.4,352.5 L506.9,350.6 L507.4,348.6 L507.9,346.8 L508.4,345.0 L508.9,343.2 L509.4,341.6 L509.9,340.0 L510.4,338.5 L510.9,337.1 L511.4,335.8 L511.9,334.6 L512.4,333.5 L512.9,332.5 L513.4,331.7 L513.9,330.9 L514.4,330.3 L514.9,329.8 L515.4,329.4 L515.9,329.2 L516.4,329.1 L516.9,329.1 L517.4,329.3 L517.9,329.6 L518.4,330.0 L518.9,330.6 L519.4,331.2 L519.9,332.0 L520.4,332.9 L520.9,333.9 L521.4,335.0 L521.9,336.2 L522.4,337.5 L522.9,338.9 L523.4,340.4 L523.9,342.0 L524.4,343.6 L524.9,345.3 L525.4,347.1 L525.9,348.9 L526.4,350.8 L526.9,352.7 L527.4,354.6 L527.9,356.6 L528.4,358.6 L528.9,360.6 L529.4,362.6 L529.9,364.6 L530.4,366.6 L530.9,368.6 L531.4,370.6 L531.9,372.6 L532.4,374.5 L532.9,376.4 L533.4,378.2 L533.9,380.0 L534.4,381.7 L534.9,383.4 L535.4,385.0 L535.9,386.5 L536.4,388.0 L536.9,389.4 L537.4,390.7 L537.9,391.9 L538.4,393.0 L538.9,394.0 L539.4,395.0 L539.9,395.8 L540.4,396.5 L540.9,397.2 L541.4,397.7 L541.9,398.1 L542.4,398.4 L542.9,398.6 L543.4,398.7 L543.9,398.7 L544.4,398.6 L544.9,398.3 L545.4,397.9 L545.9,397.4 L546.4,396.8 L546.9,396.0 L547.4,395.2 L547.9,394.2 L548.4,393.2 L548.9,392.0 L549.4,390.8 L549.9,389.4 L550.4,388.0 L550.9,386.4 L551.4,384.8 L551.9,383.1 L552.4,381.3 L552.9,379.4 L553.4,377.4 L553.9,375.4 L554.4,373.3 L554.9,371.1 L555.4,368.9 L555.9,366.6 L556.4,364.3 L556.9,361.9 L557.4,359.5 L557.9,357.0 L558.4,354.5 L558.9,352.0 L559.4,349.4 L559.9,346.8 L560.4,344.3 L560.9,341.7 L561.4,339.1 L561.9,336.5 L562.4,333.9 L562.9,331.3 L563.4,328.8 L563.9,326.2 L564.4,323.7 L564.9,321.2 L565.4,318.8 L565.9,316.4 L566.4,314.1 L566.9,311.8 L567.4,309.5 L567.9,307.4 L568.4,305.3 L568.9,303.2 L569.4,301.3 L569.9,299.4 L570.4,297.6 L570.9,295.9 L571.4,294.3 L571.9,292.8 L572.4,291.4 L572.9,290.2 L573.4,289.0 L573.9,287.9 L574.4,286.9 L574.9,286.1 L575.4,285.4 L575.9,284.8 L576.4,284.3 L576.9,284.0 L577.4,283.7 L577.9,283.6 L578.4,283.6 L578.9,283.8 L579.4,284.0 L579.9,284.4 L580.4,284.9 L580.9,285.5 L581.4,286.2 L581.9,287.1 L582.4,288.0 L582.9,289.0 L583.4,290.2 L583.9,291.5 L584.4,292.8 L584.9,294.3 L585.4,295.9 L585.9,297.5 L586.4,299.2 L586.9,301.1 L587.4,303.0 L587.9,305.0 L588.4,307.0 L588.9,309.2 L589.4,311.4 L589.9,313.6 L590.4,316.0 L590.9,318.4 L591.4,320.8 L591.9,323.3 L592.4,325.8 L592.9,328.3 L593.4,330.9 L593.9,333.5 L594.4,336.2 L594.9,338.9 L595.4,341.5 L595.9,344.2 L596.4,347.0 L596.9,349.7 L597.4,352.4 L597.9,355.1 L598.4,357.8 L598.9,360.5 L599.4,363.2 L599.9,365.9 L600.4,368.5 L600.9,371.2 L601.4,373.8 L601.9,376.4 L602.4,379.0 L602.9,381.5 L603.4,384.0 L603.9,386.5 L604.4,388.9 L604.9,391.3 L605.4,393.6 L605.9,395.9 L606.4,398.2 L606.9,400.4 L607.4,402.5 L607.9,404.7 L608.4,406.7 L608.9,408.7 L609.4,410.7 L609.9,412.6 L610.4,414.5 L610.9,416.3 L611.4,418.0 L611.9,419.7 L612.4,421.4 L612.9,423.0 L613.4,424.5 L613.9,426.0 L614.4,427.5 L614.9,428.9 L615.4,430.2 L615.9,431.5 L616.4,432.8 L616.9,434.0 L617.4,435.1 L617.9,436.3 L618.4,437.3 L618.9,438.3 L619.4,439.3 L619.9,440.3 L620.4,441.2 L620.9,442.0 L621.4,442.8 L621.9,443.6 L622.4,444.4 L622.9,445.1 L623.4,445.8 L623.9,446.4 L624.4,447.0 L624.9,447.6 L625.4,448.2 L625.9,448.7 L626.4,449.3 L626.9,449.8 L627.4,450.2 L627.9,450.7 L628.4,451.1 L628.9,451.5 L629.4,451.9 L629.9,452.3 L630.4,452.6 L630.9,453.0 L631.4,453.3 L631.9,453.6 L632.4,453.9 L632.9,454.1 L633.4,454.4 L633.9,454.6 L634.4,454.8 L634.9,455.1 L635.4,455.3 L635.9,455.4 L636.4,455.6 L636.9,455.8 L637.4,456.0 L637.9,456.1 L638.4,456.3 L638.9,456.4 L639.4,456.5 L639.9,456.6 L640.4,456.8 L640.9,456.9 L641.4,457.0 L641.9,457.1 L642.4,457.2 L642.9,457.3 L643.4,457.3 L643.9,457.4 L644.4,457.5 L644.9,457.6 L645.4,457.6 L645.9,457.7 L646.4,457.7 L646.9,457.7 L647.4,457.8 L647.9,457.8 L648.4,457.8 L648.9,457.9 L649.4,457.9 L649.9,457.9 L650.4,457.9 L650.9,457.9 L651.4,458.0 L651.9,458.0 L652.4,458.0 L652.9,458.0 L653.4,458.0 L653.9,458.0 L654.4,458.1 L654.9,458.1 L655.4,458.1 L655.9,458.1 L656.4,458.1" fill="none" stroke="#b83a55" stroke-width="1.0" stroke-linejoin="round" />
<path d="M388.4,450.5 L388.9,450.5 L389.4,450.5 L389.9,450.5 L390.4,450.5 L390.9,450.5 L391.4,450.4 L391.9,450.4 L392.4,450.4 L392.9,450.4 L393.4,450.4 L393.9,450.4 L394.4,450.4 L394.9,450.4 L395.4,450.4 L395.9,450.4 L396.4,450.4 L396.9,450.4 L397.4,450.4 L397.9,450.4 L398.4,450.4 L398.9,450.4 L399.4,450.4 L399.9,450.4 L400.4,450.4 L400.9,450.3 L401.4,450.3 L401.9,450.3 L402.4,450.3 L402.9,450.3 L403.4,450.3 L403.9,450.3 L404.4,450.3 L404.9,450.3 L405.4,450.3 L405.9,450.3 L406.4,450.3 L406.9,450.3 L407.4,450.3 L407.9,450.3 L408.4,450.2 L408.9,450.2 L409.4,450.2 L409.9,450.2 L410.4,450.2 L410.9,450.2 L411.4,450.2 L411.9,450.2 L412.4,450.2 L412.9,450.2 L413.4,450.2 L413.9,450.1 L414.4,450.1 L414.9,450.1 L415.4,450.1 L415.9,450.1 L416.4,450.1 L416.9,450.1 L417.4,450.1 L417.9,450.0 L418.4,450.0 L418.9,450.0 L419.4,450.0 L419.9,450.0 L420.4,449.9 L420.9,449.9 L421.4,449.9 L421.9,449.9 L422.4,449.8 L422.9,449.8 L423.4,449.8 L423.9,449.7 L424.4,449.7 L424.9,449.6 L425.4,449.6 L425.9,449.5 L426.4,449.5 L426.9,449.4 L427.4,449.4 L427.9,449.3 L428.4,449.2 L428.9,449.1 L429.4,449.0 L429.9,448.9 L430.4,448.8 L430.9,448.7 L431.4,448.6 L431.9,448.5 L432.4,448.3 L432.9,448.2 L433.4,448.0 L433.9,447.8 L434.4,447.6 L434.9,447.4 L435.4,447.2 L435.9,447.0 L436.4,446.7 L436.9,446.5 L437.4,446.2 L437.9,445.9 L438.4,445.6 L438.9,445.2 L439.4,444.9 L439.9,444.5 L440.4,444.2 L440.9,443.7 L441.4,443.3 L441.9,442.9 L442.4,442.4 L442.9,442.0 L443.4,441.5 L443.9,441.0 L444.4,440.4 L444.9,439.9 L445.4,439.3 L445.9,438.7 L446.4,438.1 L446.9,437.5 L447.4,436.9 L447.9,436.3 L448.4,435.6 L448.9,435.0 L449.4,434.3 L449.9,433.7 L450.4,433.0 L450.9,432.3 L451.4,431.6 L451.9,431.0 L452.4,430.3 L452.9,429.6 L453.4,429.0 L453.9,428.3 L454.4,427.7 L454.9,427.0 L455.4,426.4 L455.9,425.8 L456.4,425.3 L456.9,424.7 L457.4,424.2 L457.9,423.7 L458.4,423.2 L458.9,422.7 L459.4,422.3 L459.9,421.9 L460.4,421.6 L460.9,421.2 L461.4,420.9 L461.9,420.7 L462.4,420.5 L462.9,420.3 L463.4,420.1 L463.9,420.0 L464.4,419.9 L464.9,419.9 L465.4,419.9 L465.9,419.9 L466.4,419.9 L466.9,419.9 L467.4,420.0 L467.9,420.1 L468.4,420.2 L468.9,420.4 L469.4,420.5 L469.9,420.7 L470.4,420.9 L470.9,421.1 L471.4,421.3 L471.9,421.5 L472.4,421.7 L472.9,421.9 L473.4,422.2 L473.9,422.4 L474.4,422.6 L474.9,422.8 L475.4,423.0 L475.9,423.2 L476.4,423.4 L476.9,423.5 L477.4,423.7 L477.9,423.8 L478.4,423.9 L478.9,423.9 L479.4,423.9 L479.9,423.9 L480.4,423.9 L480.9,423.8 L481.4,423.7 L481.9,423.5 L482.4,423.3 L482.9,423.1 L483.4,422.8 L483.9,422.4 L484.4,422.0 L484.9,421.6 L485.4,421.0 L485.9,420.5 L486.4,419.8 L486.9,419.1 L487.4,418.4 L487.9,417.6 L488.4,416.7 L488.9,415.8 L489.4,414.7 L489.9,413.7 L490.4,412.5 L490.9,411.3 L491.4,410.1 L491.9,408.8 L492.4,407.4 L492.9,405.9 L493.4,404.4 L493.9,402.9 L494.4,401.2 L494.9,399.6 L495.4,397.8 L495.9,396.0 L496.4,394.2 L496.9,392.3 L497.4,390.4 L497.9,388.4 L498.4,386.4 L498.9,384.4 L499.4,382.3 L499.9,380.2 L500.4,378.1 L500.9,375.9 L501.4,373.8 L501.9,371.6 L502.4,369.4 L502.9,367.3 L503.4,365.1 L503.9,363.0 L504.4,360.8 L504.9,358.7 L505.4,356.6 L505.9,354.5 L506.4,352.5 L506.9,350.6 L507.4,348.6 L507.9,346.8 L508.4,345.0 L508.9,343.2 L509.4,341.6 L509.9,340.0 L510.4,338.5 L510.9,337.1 L511.4,335.8 L511.9,334.6 L512.4,333.5 L512.9,332.5 L513.4,331.7 L513.9,330.9 L514.4,330.3 L514.9,329.8 L515.4,329.4 L515.9,329.2 L516.4,329.1 L516.9,329.1 L517.4,329.2 L517.9,329.5 L518.4,329.9 L518.9,330.4 L519.4,331.0 L519.9,331.8 L520.4,332.6 L520.9,333.6 L521.4,334.7 L521.9,335.9 L522.4,337.2 L522.9,338.5 L523.4,340.0 L523.9,341.5 L524.4,343.1 L524.9,344.8 L525.4,346.6 L525.9,348.4 L526.4,350.2 L526.9,352.1 L527.4,354.0 L527.9,355.9 L528.4,357.9 L528.9,359.9 L529.4,361.9 L529.9,363.8 L530.4,365.8 L530.9,367.8 L531.4,369.7 L531.9,371.6 L532.4,373.5 L532.9,375.4 L533.4,377.2 L533.9,378.9 L534.4,380.6 L534.9,382.3 L535.4,383.8 L535.9,385.3 L536.4,386.8 L536.9,388.1 L537.4,389.4 L537.9,390.6 L538.4,391.6 L538.9,392.6 L539.4,393.5 L539.9,394.3 L540.4,395.0 L540.9,395.6 L541.4,396.1 L541.9,396.5 L542.4,396.8 L542.9,397.0 L543.4,397.0 L543.9,397.0 L544.4,396.8 L544.9,396.5 L545.4,396.2 L545.9,395.7 L546.4,395.1 L546.9,394.4 L547.4,393.5 L547.9,392.6 L548.4,391.6 L548.9,390.5 L549.4,389.3 L549.9,387.9 L550.4,386.5 L550.9,385.0 L551.4,383.4 L551.9,381.7 L552.4,380.0 L552.9,378.1 L553.4,376.2 L553.9,374.2 L554.4,372.1 L554.9,370.0 L555.4,367.8 L555.9,365.6 L556.4,363.3 L556.9,360.9 L557.4,358.5 L557.9,356.1 L558.4,353.6 L558.9,351.1 L559.4,348.6 L559.9,346.0 L560.4,343.5 L560.9,340.9 L561.4,338.3 L561.9,335.8 L562.4,333.2 L562.9,330.6 L563.4,328.1 L563.9,325.6 L564.4,323.1 L564.9,320.7 L565.4,318.2 L565.9,315.9 L566.4,313.5 L566.9,311.3 L567.4,309.1 L567.9,306.9 L568.4,304.8 L568.9,302.8 L569.4,300.9 L569.9,299.1 L570.4,297.3 L570.9,295.6 L571.4,294.0 L571.9,292.6 L572.4,291.2 L572.9,289.9 L573.4,288.8 L573.9,287.7 L574.4,286.8 L574.9,286.0 L575.4,285.3 L575.9,284.7 L576.4,284.2 L576.9,283.9 L577.4,283.7 L577.9,283.6 L578.4,283.7 L578.9,283.8 L579.4,284.1 L579.9,284.5 L580.4,285.0 L580.9,285.6 L581.4,286.4 L581.9,287.2 L582.4,288.2 L582.9,289.3 L583.4,290.5 L583.9,291.7 L584.4,293.1 L584.9,294.6 L585.4,296.2 L585.9,297.9 L586.4,299.6 L586.9,301.5 L587.4,303.4 L587.9,305.4 L588.4,307.5 L588.9,309.7 L589.4,311.9 L589.9,314.2 L590.4,316.5 L590.9,318.9 L591.4,321.4 L591.9,323.9 L592.4,326.4 L592.9,329.0 L593.4,331.6 L593.9,334.3 L594.4,336.9 L594.9,339.6 L595.4,342.3 L595.9,345.1 L596.4,347.8 L596.9,350.5 L597.4,353.3 L597.9,356.0 L598.4,358.7 L598.9,361.4 L599.4,364.2 L599.9,366.9 L600.4,369.5 L600.9,372.2 L601.4,374.8 L601.9,377.4 L602.4,380.0 L602.9,382.5 L603.4,385.0 L603.9,387.5 L604.4,389.9 L604.9,392.3 L605.4,394.7 L605.9,397.0 L606.4,399.2 L606.9,401.4 L607.4,403.6 L607.9,405.7 L608.4,407.8 L608.9,409.8 L609.4,411.8 L609.9,413.7 L610.4,415.6 L610.9,417.4 L611.4,419.1 L611.9,420.8 L612.4,422.5 L612.9,424.1 L613.4,425.7 L613.9,427.2 L614.4,428.6 L614.9,430.0 L615.4,431.4 L615.9,432.7 L616.4,433.9 L616.9,435.1 L617.4,436.3 L617.9,437.4 L618.4,438.5 L618.9,439.5 L619.4,440.5 L619.9,441.4 L620.4,442.3 L620.9,443.2 L621.4,444.0 L621.9,444.8 L622.4,445.5 L622.9,446.3 L623.4,446.9 L623.9,447.6 L624.4,448.2 L624.9,448.8 L625.4,449.3 L625.9,449.9 L626.4,450.4 L626.9,450.9 L627.4,451.3 L627.9,451.7 L628.4,452.1 L628.9,452.5 L629.4,452.9 L629.9,453.2 L630.4,453.5 L630.9,453.8 L631.4,454.1 L631.9,454.4 L632.4,454.6 L632.9,454.9 L633.4,455.1 L633.9,455.3 L634.4,455.5 L634.9,455.7 L635.4,455.8 L635.9,456.0 L636.4,456.1 L636.9,456.3 L637.4,456.4 L637.9,456.5 L638.4,456.6 L638.9,456.8 L639.4,456.9 L639.9,456.9 L640.4,457.0 L640.9,457.1 L641.4,457.2 L641.9,457.3 L642.4,457.3 L642.9,457.4 L643.4,457.4 L643.9,457.5 L644.4,457.5 L644.9,457.6 L645.4,457.6 L645.9,457.7 L646.4,457.7 L646.9,457.7 L647.4,457.8 L647.9,457.8 L648.4,457.8 L648.9,457.9 L649.4,457.9 L649.9,457.9 L650.4,457.9 L650.9,457.9 L651.4,458.0 L651.9,458.0 L652.4,458.0 L652.9,458.0 L653.4,458.0 L653.9,458.0 L654.4,458.1 L654.9,458.1 L655.4,458.1 L655.9,458.1 L656.4,458.1" fill="none" stroke="#222" stroke-width="1.3" stroke-linejoin="round" /></svg></body></html>
